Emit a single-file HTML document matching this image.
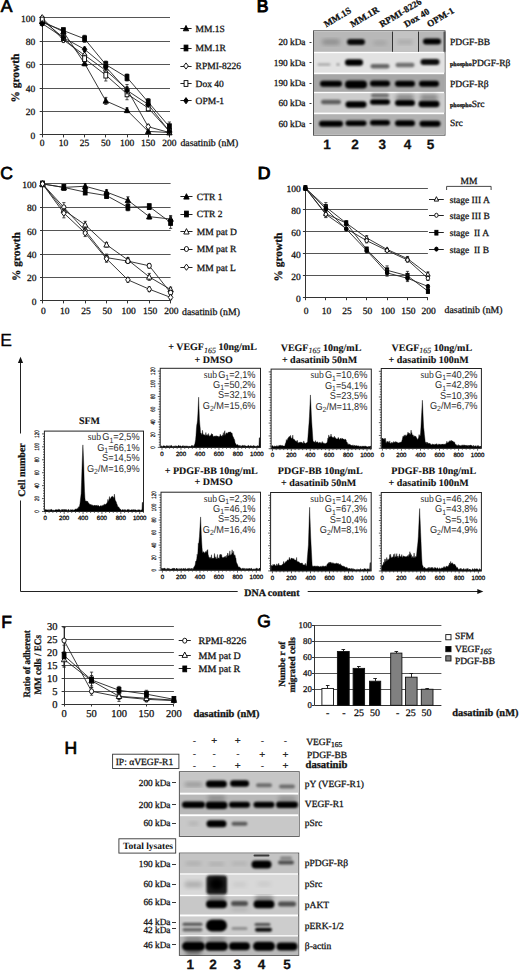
<!DOCTYPE html><html><head><meta charset="utf-8"><style>html,body{margin:0;padding:0;background:#fff;}svg{display:block;}</style></head><body>
<svg width="520" height="971" viewBox="0 0 520 971" text-rendering="geometricPrecision">
<defs>
<filter id="b1" x="-50%" y="-50%" width="200%" height="200%"><feGaussianBlur stdDeviation="1.2"/></filter>
<filter id="b2" x="-50%" y="-50%" width="200%" height="200%"><feGaussianBlur stdDeviation="2"/></filter>
<filter id="b05" x="-50%" y="-50%" width="200%" height="200%"><feGaussianBlur stdDeviation="0.6"/></filter>
</defs>
<style>text{stroke:#111;stroke-width:0.28px;paint-order:stroke;} text.nost{stroke:none;}</style>
<rect x="0" y="0" width="520" height="971" fill="#fff"/>
<text x="0.80" y="12.30" font-size="17.5" text-anchor="start" font-weight="normal" font-family="'Liberation Sans', sans-serif" fill="#000" style="stroke:#000;stroke-width:0.7px">A</text>
<text x="35.30" y="138.70" font-size="9.5" text-anchor="end" font-weight="normal" font-family="'Liberation Serif', serif" fill="#111" >0</text>
<line x1="39.70" y1="134.50" x2="42.20" y2="134.50" stroke="#333" stroke-width="1"/>
<line x1="42.20" y1="111.50" x2="170.00" y2="111.50" stroke="#555" stroke-width="1"/>
<text x="35.30" y="115.26" font-size="9.5" text-anchor="end" font-weight="normal" font-family="'Liberation Serif', serif" fill="#111" >20</text>
<line x1="39.70" y1="111.50" x2="42.20" y2="111.50" stroke="#333" stroke-width="1"/>
<line x1="42.20" y1="88.50" x2="170.00" y2="88.50" stroke="#555" stroke-width="1"/>
<text x="35.30" y="91.82" font-size="9.5" text-anchor="end" font-weight="normal" font-family="'Liberation Serif', serif" fill="#111" >40</text>
<line x1="39.70" y1="88.50" x2="42.20" y2="88.50" stroke="#333" stroke-width="1"/>
<line x1="42.20" y1="64.50" x2="170.00" y2="64.50" stroke="#555" stroke-width="1"/>
<text x="35.30" y="68.38" font-size="9.5" text-anchor="end" font-weight="normal" font-family="'Liberation Serif', serif" fill="#111" >60</text>
<line x1="39.70" y1="64.50" x2="42.20" y2="64.50" stroke="#333" stroke-width="1"/>
<line x1="42.20" y1="41.50" x2="170.00" y2="41.50" stroke="#555" stroke-width="1"/>
<text x="35.30" y="44.94" font-size="9.5" text-anchor="end" font-weight="normal" font-family="'Liberation Serif', serif" fill="#111" >80</text>
<line x1="39.70" y1="41.50" x2="42.20" y2="41.50" stroke="#333" stroke-width="1"/>
<line x1="42.20" y1="17.50" x2="170.00" y2="17.50" stroke="#555" stroke-width="1"/>
<text x="35.30" y="21.50" font-size="9.5" text-anchor="end" font-weight="normal" font-family="'Liberation Serif', serif" fill="#111" >100</text>
<line x1="39.70" y1="17.50" x2="42.20" y2="17.50" stroke="#333" stroke-width="1"/>
<line x1="42.50" y1="17.70" x2="42.50" y2="135.40" stroke="#333" stroke-width="1"/>
<line x1="42.20" y1="134.50" x2="170.00" y2="134.50" stroke="#333" stroke-width="1"/>
<line x1="42.50" y1="134.90" x2="42.50" y2="137.40" stroke="#333" stroke-width="1"/>
<text x="42.20" y="146.30" font-size="9.5" text-anchor="middle" font-weight="normal" font-family="'Liberation Serif', serif" fill="#111" >0</text>
<line x1="63.50" y1="134.90" x2="63.50" y2="137.40" stroke="#333" stroke-width="1"/>
<text x="63.40" y="146.30" font-size="9.5" text-anchor="middle" font-weight="normal" font-family="'Liberation Serif', serif" fill="#111" >10</text>
<line x1="84.50" y1="134.90" x2="84.50" y2="137.40" stroke="#333" stroke-width="1"/>
<text x="84.60" y="146.30" font-size="9.5" text-anchor="middle" font-weight="normal" font-family="'Liberation Serif', serif" fill="#111" >25</text>
<line x1="105.50" y1="134.90" x2="105.50" y2="137.40" stroke="#333" stroke-width="1"/>
<text x="105.80" y="146.30" font-size="9.5" text-anchor="middle" font-weight="normal" font-family="'Liberation Serif', serif" fill="#111" >50</text>
<line x1="127.50" y1="134.90" x2="127.50" y2="137.40" stroke="#333" stroke-width="1"/>
<text x="127.00" y="146.30" font-size="9.5" text-anchor="middle" font-weight="normal" font-family="'Liberation Serif', serif" fill="#111" >100</text>
<line x1="148.50" y1="134.90" x2="148.50" y2="137.40" stroke="#333" stroke-width="1"/>
<text x="148.20" y="146.30" font-size="9.5" text-anchor="middle" font-weight="normal" font-family="'Liberation Serif', serif" fill="#111" >150</text>
<line x1="169.50" y1="134.90" x2="169.50" y2="137.40" stroke="#333" stroke-width="1"/>
<text x="169.40" y="146.30" font-size="9.5" text-anchor="middle" font-weight="normal" font-family="'Liberation Serif', serif" fill="#111" >200</text>
<polyline points="42.20,21.22 63.40,31.76 84.60,63.41 105.80,100.91 127.00,110.29 148.20,131.38 169.40,132.56" fill="none" stroke="#222" stroke-width="0.9"/>
<polyline points="42.20,22.39 63.40,30.59 84.60,38.80 105.80,64.58 127.00,77.47 148.20,102.08 169.40,126.70" fill="none" stroke="#222" stroke-width="0.9"/>
<polyline points="42.20,17.70 63.40,39.97 84.60,55.20 105.80,70.44 127.00,89.19 148.20,126.70 169.40,132.56" fill="none" stroke="#222" stroke-width="0.9"/>
<polyline points="42.20,20.04 63.40,37.62 84.60,58.72 105.80,75.13 127.00,93.88 148.20,107.94 169.40,131.38" fill="none" stroke="#222" stroke-width="0.9"/>
<polyline points="42.20,23.56 63.40,37.62 84.60,49.34 105.80,66.92 127.00,90.36 148.20,104.43 169.40,131.38" fill="none" stroke="#222" stroke-width="0.9"/>
<path d="M42.20,18.12 L44.90,23.52 L39.50,23.52 Z" fill="#000" stroke="#000" stroke-width="0.9"/>
<line x1="63.40" y1="29.42" x2="63.40" y2="34.11" stroke="#222" stroke-width="0.8"/>
<line x1="61.80" y1="29.42" x2="65.00" y2="29.42" stroke="#222" stroke-width="0.8"/>
<line x1="61.80" y1="34.11" x2="65.00" y2="34.11" stroke="#222" stroke-width="0.8"/>
<path d="M63.40,28.66 L66.10,34.06 L60.70,34.06 Z" fill="#000" stroke="#000" stroke-width="0.9"/>
<line x1="84.60" y1="61.06" x2="84.60" y2="65.75" stroke="#222" stroke-width="0.8"/>
<line x1="83.00" y1="61.06" x2="86.20" y2="61.06" stroke="#222" stroke-width="0.8"/>
<line x1="83.00" y1="65.75" x2="86.20" y2="65.75" stroke="#222" stroke-width="0.8"/>
<path d="M84.60,60.31 L87.30,65.71 L81.90,65.71 Z" fill="#000" stroke="#000" stroke-width="0.9"/>
<line x1="105.80" y1="97.40" x2="105.80" y2="104.43" stroke="#222" stroke-width="0.8"/>
<line x1="104.20" y1="97.40" x2="107.40" y2="97.40" stroke="#222" stroke-width="0.8"/>
<line x1="104.20" y1="104.43" x2="107.40" y2="104.43" stroke="#222" stroke-width="0.8"/>
<path d="M105.80,97.81 L108.50,103.21 L103.10,103.21 Z" fill="#000" stroke="#000" stroke-width="0.9"/>
<line x1="127.00" y1="107.94" x2="127.00" y2="112.63" stroke="#222" stroke-width="0.8"/>
<line x1="125.40" y1="107.94" x2="128.60" y2="107.94" stroke="#222" stroke-width="0.8"/>
<line x1="125.40" y1="112.63" x2="128.60" y2="112.63" stroke="#222" stroke-width="0.8"/>
<path d="M127.00,107.19 L129.70,112.59 L124.30,112.59 Z" fill="#000" stroke="#000" stroke-width="0.9"/>
<line x1="148.20" y1="129.04" x2="148.20" y2="133.73" stroke="#222" stroke-width="0.8"/>
<line x1="146.60" y1="129.04" x2="149.80" y2="129.04" stroke="#222" stroke-width="0.8"/>
<line x1="146.60" y1="133.73" x2="149.80" y2="133.73" stroke="#222" stroke-width="0.8"/>
<path d="M148.20,128.28 L150.90,133.68 L145.50,133.68 Z" fill="#000" stroke="#000" stroke-width="0.9"/>
<line x1="169.40" y1="131.38" x2="169.40" y2="133.73" stroke="#222" stroke-width="0.8"/>
<line x1="167.80" y1="131.38" x2="171.00" y2="131.38" stroke="#222" stroke-width="0.8"/>
<line x1="167.80" y1="133.73" x2="171.00" y2="133.73" stroke="#222" stroke-width="0.8"/>
<path d="M169.40,129.46 L172.10,134.86 L166.70,134.86 Z" fill="#000" stroke="#000" stroke-width="0.9"/>
<rect x="40.30" y="19.49" width="3.80" height="5.80" fill="#000" stroke="#000" stroke-width="0.9"/>
<line x1="63.40" y1="28.25" x2="63.40" y2="32.94" stroke="#222" stroke-width="0.8"/>
<line x1="61.80" y1="28.25" x2="65.00" y2="28.25" stroke="#222" stroke-width="0.8"/>
<line x1="61.80" y1="32.94" x2="65.00" y2="32.94" stroke="#222" stroke-width="0.8"/>
<rect x="61.50" y="27.69" width="3.80" height="5.80" fill="#000" stroke="#000" stroke-width="0.9"/>
<line x1="84.60" y1="35.28" x2="84.60" y2="42.31" stroke="#222" stroke-width="0.8"/>
<line x1="83.00" y1="35.28" x2="86.20" y2="35.28" stroke="#222" stroke-width="0.8"/>
<line x1="83.00" y1="42.31" x2="86.20" y2="42.31" stroke="#222" stroke-width="0.8"/>
<rect x="82.70" y="35.90" width="3.80" height="5.80" fill="#000" stroke="#000" stroke-width="0.9"/>
<line x1="105.80" y1="61.06" x2="105.80" y2="68.10" stroke="#222" stroke-width="0.8"/>
<line x1="104.20" y1="61.06" x2="107.40" y2="61.06" stroke="#222" stroke-width="0.8"/>
<line x1="104.20" y1="68.10" x2="107.40" y2="68.10" stroke="#222" stroke-width="0.8"/>
<rect x="103.90" y="61.68" width="3.80" height="5.80" fill="#000" stroke="#000" stroke-width="0.9"/>
<line x1="127.00" y1="73.96" x2="127.00" y2="80.99" stroke="#222" stroke-width="0.8"/>
<line x1="125.40" y1="73.96" x2="128.60" y2="73.96" stroke="#222" stroke-width="0.8"/>
<line x1="125.40" y1="80.99" x2="128.60" y2="80.99" stroke="#222" stroke-width="0.8"/>
<rect x="125.10" y="74.57" width="3.80" height="5.80" fill="#000" stroke="#000" stroke-width="0.9"/>
<line x1="148.20" y1="98.57" x2="148.20" y2="105.60" stroke="#222" stroke-width="0.8"/>
<line x1="146.60" y1="98.57" x2="149.80" y2="98.57" stroke="#222" stroke-width="0.8"/>
<line x1="146.60" y1="105.60" x2="149.80" y2="105.60" stroke="#222" stroke-width="0.8"/>
<rect x="146.30" y="99.18" width="3.80" height="5.80" fill="#000" stroke="#000" stroke-width="0.9"/>
<line x1="169.40" y1="122.01" x2="169.40" y2="131.38" stroke="#222" stroke-width="0.8"/>
<line x1="167.80" y1="122.01" x2="171.00" y2="122.01" stroke="#222" stroke-width="0.8"/>
<line x1="167.80" y1="131.38" x2="171.00" y2="131.38" stroke="#222" stroke-width="0.8"/>
<rect x="167.50" y="123.80" width="3.80" height="5.80" fill="#000" stroke="#000" stroke-width="0.9"/>
<path d="M42.20,14.60 L44.50,17.70 L42.20,20.80 L39.90,17.70 Z" fill="#fff" stroke="#000" stroke-width="0.9"/>
<line x1="63.40" y1="37.62" x2="63.40" y2="42.31" stroke="#222" stroke-width="0.8"/>
<line x1="61.80" y1="37.62" x2="65.00" y2="37.62" stroke="#222" stroke-width="0.8"/>
<line x1="61.80" y1="42.31" x2="65.00" y2="42.31" stroke="#222" stroke-width="0.8"/>
<path d="M63.40,36.87 L65.70,39.97 L63.40,43.07 L61.10,39.97 Z" fill="#fff" stroke="#000" stroke-width="0.9"/>
<line x1="84.60" y1="51.69" x2="84.60" y2="58.72" stroke="#222" stroke-width="0.8"/>
<line x1="83.00" y1="51.69" x2="86.20" y2="51.69" stroke="#222" stroke-width="0.8"/>
<line x1="83.00" y1="58.72" x2="86.20" y2="58.72" stroke="#222" stroke-width="0.8"/>
<path d="M84.60,52.10 L86.90,55.20 L84.60,58.30 L82.30,55.20 Z" fill="#fff" stroke="#000" stroke-width="0.9"/>
<line x1="105.80" y1="66.92" x2="105.80" y2="73.96" stroke="#222" stroke-width="0.8"/>
<line x1="104.20" y1="66.92" x2="107.40" y2="66.92" stroke="#222" stroke-width="0.8"/>
<line x1="104.20" y1="73.96" x2="107.40" y2="73.96" stroke="#222" stroke-width="0.8"/>
<path d="M105.80,67.34 L108.10,70.44 L105.80,73.54 L103.50,70.44 Z" fill="#fff" stroke="#000" stroke-width="0.9"/>
<line x1="127.00" y1="84.50" x2="127.00" y2="93.88" stroke="#222" stroke-width="0.8"/>
<line x1="125.40" y1="84.50" x2="128.60" y2="84.50" stroke="#222" stroke-width="0.8"/>
<line x1="125.40" y1="93.88" x2="128.60" y2="93.88" stroke="#222" stroke-width="0.8"/>
<path d="M127.00,86.09 L129.30,89.19 L127.00,92.29 L124.70,89.19 Z" fill="#fff" stroke="#000" stroke-width="0.9"/>
<line x1="148.20" y1="124.35" x2="148.20" y2="129.04" stroke="#222" stroke-width="0.8"/>
<line x1="146.60" y1="124.35" x2="149.80" y2="124.35" stroke="#222" stroke-width="0.8"/>
<line x1="146.60" y1="129.04" x2="149.80" y2="129.04" stroke="#222" stroke-width="0.8"/>
<path d="M148.20,123.60 L150.50,126.70 L148.20,129.80 L145.90,126.70 Z" fill="#fff" stroke="#000" stroke-width="0.9"/>
<line x1="169.40" y1="131.38" x2="169.40" y2="133.73" stroke="#222" stroke-width="0.8"/>
<line x1="167.80" y1="131.38" x2="171.00" y2="131.38" stroke="#222" stroke-width="0.8"/>
<line x1="167.80" y1="133.73" x2="171.00" y2="133.73" stroke="#222" stroke-width="0.8"/>
<path d="M169.40,129.46 L171.70,132.56 L169.40,135.66 L167.10,132.56 Z" fill="#fff" stroke="#000" stroke-width="0.9"/>
<rect x="40.30" y="17.14" width="3.80" height="5.80" fill="#fff" stroke="#000" stroke-width="0.9"/>
<line x1="63.40" y1="35.28" x2="63.40" y2="39.97" stroke="#222" stroke-width="0.8"/>
<line x1="61.80" y1="35.28" x2="65.00" y2="35.28" stroke="#222" stroke-width="0.8"/>
<line x1="61.80" y1="39.97" x2="65.00" y2="39.97" stroke="#222" stroke-width="0.8"/>
<rect x="61.50" y="34.72" width="3.80" height="5.80" fill="#fff" stroke="#000" stroke-width="0.9"/>
<line x1="84.60" y1="55.20" x2="84.60" y2="62.24" stroke="#222" stroke-width="0.8"/>
<line x1="83.00" y1="55.20" x2="86.20" y2="55.20" stroke="#222" stroke-width="0.8"/>
<line x1="83.00" y1="62.24" x2="86.20" y2="62.24" stroke="#222" stroke-width="0.8"/>
<rect x="82.70" y="55.82" width="3.80" height="5.80" fill="#fff" stroke="#000" stroke-width="0.9"/>
<line x1="105.80" y1="69.27" x2="105.80" y2="80.99" stroke="#222" stroke-width="0.8"/>
<line x1="104.20" y1="69.27" x2="107.40" y2="69.27" stroke="#222" stroke-width="0.8"/>
<line x1="104.20" y1="80.99" x2="107.40" y2="80.99" stroke="#222" stroke-width="0.8"/>
<rect x="103.90" y="72.23" width="3.80" height="5.80" fill="#fff" stroke="#000" stroke-width="0.9"/>
<line x1="127.00" y1="88.02" x2="127.00" y2="99.74" stroke="#222" stroke-width="0.8"/>
<line x1="125.40" y1="88.02" x2="128.60" y2="88.02" stroke="#222" stroke-width="0.8"/>
<line x1="125.40" y1="99.74" x2="128.60" y2="99.74" stroke="#222" stroke-width="0.8"/>
<rect x="125.10" y="90.98" width="3.80" height="5.80" fill="#fff" stroke="#000" stroke-width="0.9"/>
<line x1="148.20" y1="104.43" x2="148.20" y2="111.46" stroke="#222" stroke-width="0.8"/>
<line x1="146.60" y1="104.43" x2="149.80" y2="104.43" stroke="#222" stroke-width="0.8"/>
<line x1="146.60" y1="111.46" x2="149.80" y2="111.46" stroke="#222" stroke-width="0.8"/>
<rect x="146.30" y="105.04" width="3.80" height="5.80" fill="#fff" stroke="#000" stroke-width="0.9"/>
<line x1="169.40" y1="130.21" x2="169.40" y2="132.56" stroke="#222" stroke-width="0.8"/>
<line x1="167.80" y1="130.21" x2="171.00" y2="130.21" stroke="#222" stroke-width="0.8"/>
<line x1="167.80" y1="132.56" x2="171.00" y2="132.56" stroke="#222" stroke-width="0.8"/>
<rect x="167.50" y="128.48" width="3.80" height="5.80" fill="#fff" stroke="#000" stroke-width="0.9"/>
<path d="M42.20,20.46 L44.50,23.56 L42.20,26.66 L39.90,23.56 Z" fill="#000" stroke="#000" stroke-width="0.9"/>
<line x1="63.40" y1="35.28" x2="63.40" y2="39.97" stroke="#222" stroke-width="0.8"/>
<line x1="61.80" y1="35.28" x2="65.00" y2="35.28" stroke="#222" stroke-width="0.8"/>
<line x1="61.80" y1="39.97" x2="65.00" y2="39.97" stroke="#222" stroke-width="0.8"/>
<path d="M63.40,34.52 L65.70,37.62 L63.40,40.72 L61.10,37.62 Z" fill="#000" stroke="#000" stroke-width="0.9"/>
<line x1="84.60" y1="47.00" x2="84.60" y2="51.69" stroke="#222" stroke-width="0.8"/>
<line x1="83.00" y1="47.00" x2="86.20" y2="47.00" stroke="#222" stroke-width="0.8"/>
<line x1="83.00" y1="51.69" x2="86.20" y2="51.69" stroke="#222" stroke-width="0.8"/>
<path d="M84.60,46.24 L86.90,49.34 L84.60,52.44 L82.30,49.34 Z" fill="#000" stroke="#000" stroke-width="0.9"/>
<line x1="105.80" y1="63.41" x2="105.80" y2="70.44" stroke="#222" stroke-width="0.8"/>
<line x1="104.20" y1="63.41" x2="107.40" y2="63.41" stroke="#222" stroke-width="0.8"/>
<line x1="104.20" y1="70.44" x2="107.40" y2="70.44" stroke="#222" stroke-width="0.8"/>
<path d="M105.80,63.82 L108.10,66.92 L105.80,70.02 L103.50,66.92 Z" fill="#000" stroke="#000" stroke-width="0.9"/>
<line x1="127.00" y1="86.85" x2="127.00" y2="93.88" stroke="#222" stroke-width="0.8"/>
<line x1="125.40" y1="86.85" x2="128.60" y2="86.85" stroke="#222" stroke-width="0.8"/>
<line x1="125.40" y1="93.88" x2="128.60" y2="93.88" stroke="#222" stroke-width="0.8"/>
<path d="M127.00,87.26 L129.30,90.36 L127.00,93.46 L124.70,90.36 Z" fill="#000" stroke="#000" stroke-width="0.9"/>
<line x1="148.20" y1="102.08" x2="148.20" y2="106.77" stroke="#222" stroke-width="0.8"/>
<line x1="146.60" y1="102.08" x2="149.80" y2="102.08" stroke="#222" stroke-width="0.8"/>
<line x1="146.60" y1="106.77" x2="149.80" y2="106.77" stroke="#222" stroke-width="0.8"/>
<path d="M148.20,101.33 L150.50,104.43 L148.20,107.53 L145.90,104.43 Z" fill="#000" stroke="#000" stroke-width="0.9"/>
<line x1="169.40" y1="130.21" x2="169.40" y2="132.56" stroke="#222" stroke-width="0.8"/>
<line x1="167.80" y1="130.21" x2="171.00" y2="130.21" stroke="#222" stroke-width="0.8"/>
<line x1="167.80" y1="132.56" x2="171.00" y2="132.56" stroke="#222" stroke-width="0.8"/>
<path d="M169.40,128.28 L171.70,131.38 L169.40,134.48 L167.10,131.38 Z" fill="#000" stroke="#000" stroke-width="0.9"/>
<text x="180.40" y="146.30" font-size="9.8" text-anchor="start" font-weight="normal" font-family="'Liberation Serif', serif" fill="#111" >dasatinib (nM)</text>
<text x="0" y="0" font-size="11.4" text-anchor="middle" font-weight="bold" font-family="'Liberation Serif', serif" fill="#111" transform="translate(19.00,78.00) rotate(-90)">% growth</text>
<line x1="180.40" y1="28.50" x2="191.60" y2="28.50" stroke="#222" stroke-width="1"/>
<path d="M186.00,25.40 L188.70,30.80 L183.30,30.80 Z" fill="#000" stroke="#000" stroke-width="0.9"/>
<text x="195.60" y="31.90" font-size="9.5" text-anchor="start" font-weight="normal" font-family="'Liberation Serif', serif" fill="#111" >MM.1S</text>
<line x1="180.40" y1="48.50" x2="191.60" y2="48.50" stroke="#222" stroke-width="1"/>
<rect x="184.10" y="45.10" width="3.80" height="5.80" fill="#000" stroke="#000" stroke-width="0.9"/>
<text x="195.60" y="51.40" font-size="9.5" text-anchor="start" font-weight="normal" font-family="'Liberation Serif', serif" fill="#111" >MM.1R</text>
<line x1="180.40" y1="66.50" x2="191.60" y2="66.50" stroke="#222" stroke-width="1"/>
<path d="M186.00,62.90 L188.30,66.00 L186.00,69.10 L183.70,66.00 Z" fill="#fff" stroke="#000" stroke-width="0.9"/>
<text x="195.60" y="69.40" font-size="9.5" text-anchor="start" font-weight="normal" font-family="'Liberation Serif', serif" fill="#111" >RPMI-8226</text>
<line x1="180.40" y1="83.50" x2="191.60" y2="83.50" stroke="#222" stroke-width="1"/>
<rect x="184.10" y="80.60" width="3.80" height="5.80" fill="#fff" stroke="#000" stroke-width="0.9"/>
<text x="195.60" y="86.90" font-size="9.5" text-anchor="start" font-weight="normal" font-family="'Liberation Serif', serif" fill="#111" >Dox 40</text>
<line x1="180.40" y1="100.50" x2="191.60" y2="100.50" stroke="#222" stroke-width="1"/>
<path d="M186.00,97.60 L188.30,100.70 L186.00,103.80 L183.70,100.70 Z" fill="#000" stroke="#000" stroke-width="0.9"/>
<text x="195.60" y="104.10" font-size="9.5" text-anchor="start" font-weight="normal" font-family="'Liberation Serif', serif" fill="#111" >OPM-1</text>
<text x="0.25" y="179.00" font-size="17.5" text-anchor="start" font-weight="normal" font-family="'Liberation Sans', sans-serif" fill="#000" style="stroke:#000;stroke-width:0.7px">C</text>
<text x="36.50" y="304.70" font-size="9.5" text-anchor="end" font-weight="normal" font-family="'Liberation Serif', serif" fill="#111" >0</text>
<line x1="40.00" y1="300.50" x2="42.50" y2="300.50" stroke="#333" stroke-width="1"/>
<line x1="42.50" y1="277.50" x2="170.60" y2="277.50" stroke="#555" stroke-width="1"/>
<text x="36.50" y="281.30" font-size="9.5" text-anchor="end" font-weight="normal" font-family="'Liberation Serif', serif" fill="#111" >20</text>
<line x1="40.00" y1="277.50" x2="42.50" y2="277.50" stroke="#333" stroke-width="1"/>
<line x1="42.50" y1="254.50" x2="170.60" y2="254.50" stroke="#555" stroke-width="1"/>
<text x="36.50" y="257.90" font-size="9.5" text-anchor="end" font-weight="normal" font-family="'Liberation Serif', serif" fill="#111" >40</text>
<line x1="40.00" y1="254.50" x2="42.50" y2="254.50" stroke="#333" stroke-width="1"/>
<line x1="42.50" y1="230.50" x2="170.60" y2="230.50" stroke="#555" stroke-width="1"/>
<text x="36.50" y="234.50" font-size="9.5" text-anchor="end" font-weight="normal" font-family="'Liberation Serif', serif" fill="#111" >60</text>
<line x1="40.00" y1="230.50" x2="42.50" y2="230.50" stroke="#333" stroke-width="1"/>
<line x1="42.50" y1="207.50" x2="170.60" y2="207.50" stroke="#555" stroke-width="1"/>
<text x="36.50" y="211.10" font-size="9.5" text-anchor="end" font-weight="normal" font-family="'Liberation Serif', serif" fill="#111" >80</text>
<line x1="40.00" y1="207.50" x2="42.50" y2="207.50" stroke="#333" stroke-width="1"/>
<line x1="42.50" y1="183.50" x2="170.60" y2="183.50" stroke="#555" stroke-width="1"/>
<text x="36.50" y="187.70" font-size="9.5" text-anchor="end" font-weight="normal" font-family="'Liberation Serif', serif" fill="#111" >100</text>
<line x1="40.00" y1="183.50" x2="42.50" y2="183.50" stroke="#333" stroke-width="1"/>
<line x1="42.50" y1="183.90" x2="42.50" y2="301.40" stroke="#333" stroke-width="1"/>
<line x1="42.50" y1="300.50" x2="170.60" y2="300.50" stroke="#333" stroke-width="1"/>
<line x1="42.50" y1="300.90" x2="42.50" y2="303.40" stroke="#333" stroke-width="1"/>
<text x="43.30" y="314.30" font-size="9.5" text-anchor="middle" font-weight="normal" font-family="'Liberation Serif', serif" fill="#111" >0</text>
<line x1="63.50" y1="300.90" x2="63.50" y2="303.40" stroke="#333" stroke-width="1"/>
<text x="64.65" y="314.30" font-size="9.5" text-anchor="middle" font-weight="normal" font-family="'Liberation Serif', serif" fill="#111" >10</text>
<line x1="85.50" y1="300.90" x2="85.50" y2="303.40" stroke="#333" stroke-width="1"/>
<text x="86.00" y="314.30" font-size="9.5" text-anchor="middle" font-weight="normal" font-family="'Liberation Serif', serif" fill="#111" >25</text>
<line x1="106.50" y1="300.90" x2="106.50" y2="303.40" stroke="#333" stroke-width="1"/>
<text x="107.35" y="314.30" font-size="9.5" text-anchor="middle" font-weight="normal" font-family="'Liberation Serif', serif" fill="#111" >50</text>
<line x1="127.50" y1="300.90" x2="127.50" y2="303.40" stroke="#333" stroke-width="1"/>
<text x="128.70" y="314.30" font-size="9.5" text-anchor="middle" font-weight="normal" font-family="'Liberation Serif', serif" fill="#111" >100</text>
<line x1="149.50" y1="300.90" x2="149.50" y2="303.40" stroke="#333" stroke-width="1"/>
<text x="150.05" y="314.30" font-size="9.5" text-anchor="middle" font-weight="normal" font-family="'Liberation Serif', serif" fill="#111" >150</text>
<line x1="170.50" y1="300.90" x2="170.50" y2="303.40" stroke="#333" stroke-width="1"/>
<text x="171.40" y="314.30" font-size="9.5" text-anchor="middle" font-weight="normal" font-family="'Liberation Serif', serif" fill="#111" >200</text>
<polyline points="42.50,183.90 63.85,187.41 85.20,186.24 106.55,192.09 127.90,200.28 149.25,216.66 170.60,219.00" fill="none" stroke="#222" stroke-width="0.9"/>
<polyline points="42.50,183.90 63.85,187.41 85.20,192.09 106.55,195.60 127.90,207.30 149.25,206.60 170.60,222.51" fill="none" stroke="#222" stroke-width="0.9"/>
<polyline points="42.50,183.90 63.85,210.11 85.20,224.85 106.55,244.74 127.90,259.95 149.25,276.91 170.60,289.55" fill="none" stroke="#222" stroke-width="0.9"/>
<polyline points="42.50,183.90 63.85,207.30 85.20,230.70 106.55,257.61 127.90,261.12 149.25,265.80 170.60,292.71" fill="none" stroke="#222" stroke-width="0.9"/>
<polyline points="42.50,183.90 63.85,213.15 85.20,233.04 106.55,258.78 127.90,279.84 149.25,289.20 170.60,297.39" fill="none" stroke="#222" stroke-width="0.9"/>
<path d="M42.50,180.80 L45.20,186.20 L39.80,186.20 Z" fill="#000" stroke="#000" stroke-width="0.9"/>
<line x1="63.85" y1="186.24" x2="63.85" y2="188.58" stroke="#222" stroke-width="0.8"/>
<line x1="62.25" y1="186.24" x2="65.45" y2="186.24" stroke="#222" stroke-width="0.8"/>
<line x1="62.25" y1="188.58" x2="65.45" y2="188.58" stroke="#222" stroke-width="0.8"/>
<path d="M63.85,184.31 L66.55,189.71 L61.15,189.71 Z" fill="#000" stroke="#000" stroke-width="0.9"/>
<line x1="85.20" y1="183.90" x2="85.20" y2="188.58" stroke="#222" stroke-width="0.8"/>
<line x1="83.60" y1="183.90" x2="86.80" y2="183.90" stroke="#222" stroke-width="0.8"/>
<line x1="83.60" y1="188.58" x2="86.80" y2="188.58" stroke="#222" stroke-width="0.8"/>
<path d="M85.20,183.14 L87.90,188.54 L82.50,188.54 Z" fill="#000" stroke="#000" stroke-width="0.9"/>
<line x1="106.55" y1="189.75" x2="106.55" y2="194.43" stroke="#222" stroke-width="0.8"/>
<line x1="104.95" y1="189.75" x2="108.15" y2="189.75" stroke="#222" stroke-width="0.8"/>
<line x1="104.95" y1="194.43" x2="108.15" y2="194.43" stroke="#222" stroke-width="0.8"/>
<path d="M106.55,188.99 L109.25,194.39 L103.85,194.39 Z" fill="#000" stroke="#000" stroke-width="0.9"/>
<line x1="127.90" y1="196.77" x2="127.90" y2="203.79" stroke="#222" stroke-width="0.8"/>
<line x1="126.30" y1="196.77" x2="129.50" y2="196.77" stroke="#222" stroke-width="0.8"/>
<line x1="126.30" y1="203.79" x2="129.50" y2="203.79" stroke="#222" stroke-width="0.8"/>
<path d="M127.90,197.18 L130.60,202.58 L125.20,202.58 Z" fill="#000" stroke="#000" stroke-width="0.9"/>
<line x1="149.25" y1="214.32" x2="149.25" y2="219.00" stroke="#222" stroke-width="0.8"/>
<line x1="147.65" y1="214.32" x2="150.85" y2="214.32" stroke="#222" stroke-width="0.8"/>
<line x1="147.65" y1="219.00" x2="150.85" y2="219.00" stroke="#222" stroke-width="0.8"/>
<path d="M149.25,213.56 L151.95,218.96 L146.55,218.96 Z" fill="#000" stroke="#000" stroke-width="0.9"/>
<line x1="170.60" y1="215.49" x2="170.60" y2="222.51" stroke="#222" stroke-width="0.8"/>
<line x1="169.00" y1="215.49" x2="172.20" y2="215.49" stroke="#222" stroke-width="0.8"/>
<line x1="169.00" y1="222.51" x2="172.20" y2="222.51" stroke="#222" stroke-width="0.8"/>
<path d="M170.60,215.90 L173.30,221.30 L167.90,221.30 Z" fill="#000" stroke="#000" stroke-width="0.9"/>
<rect x="40.60" y="181.00" width="3.80" height="5.80" fill="#000" stroke="#000" stroke-width="0.9"/>
<line x1="63.85" y1="186.24" x2="63.85" y2="188.58" stroke="#222" stroke-width="0.8"/>
<line x1="62.25" y1="186.24" x2="65.45" y2="186.24" stroke="#222" stroke-width="0.8"/>
<line x1="62.25" y1="188.58" x2="65.45" y2="188.58" stroke="#222" stroke-width="0.8"/>
<rect x="61.95" y="184.51" width="3.80" height="5.80" fill="#000" stroke="#000" stroke-width="0.9"/>
<line x1="85.20" y1="189.75" x2="85.20" y2="194.43" stroke="#222" stroke-width="0.8"/>
<line x1="83.60" y1="189.75" x2="86.80" y2="189.75" stroke="#222" stroke-width="0.8"/>
<line x1="83.60" y1="194.43" x2="86.80" y2="194.43" stroke="#222" stroke-width="0.8"/>
<rect x="83.30" y="189.19" width="3.80" height="5.80" fill="#000" stroke="#000" stroke-width="0.9"/>
<line x1="106.55" y1="193.26" x2="106.55" y2="197.94" stroke="#222" stroke-width="0.8"/>
<line x1="104.95" y1="193.26" x2="108.15" y2="193.26" stroke="#222" stroke-width="0.8"/>
<line x1="104.95" y1="197.94" x2="108.15" y2="197.94" stroke="#222" stroke-width="0.8"/>
<rect x="104.65" y="192.70" width="3.80" height="5.80" fill="#000" stroke="#000" stroke-width="0.9"/>
<line x1="127.90" y1="203.79" x2="127.90" y2="210.81" stroke="#222" stroke-width="0.8"/>
<line x1="126.30" y1="203.79" x2="129.50" y2="203.79" stroke="#222" stroke-width="0.8"/>
<line x1="126.30" y1="210.81" x2="129.50" y2="210.81" stroke="#222" stroke-width="0.8"/>
<rect x="126.00" y="204.40" width="3.80" height="5.80" fill="#000" stroke="#000" stroke-width="0.9"/>
<line x1="149.25" y1="204.26" x2="149.25" y2="208.94" stroke="#222" stroke-width="0.8"/>
<line x1="147.65" y1="204.26" x2="150.85" y2="204.26" stroke="#222" stroke-width="0.8"/>
<line x1="147.65" y1="208.94" x2="150.85" y2="208.94" stroke="#222" stroke-width="0.8"/>
<rect x="147.35" y="203.70" width="3.80" height="5.80" fill="#000" stroke="#000" stroke-width="0.9"/>
<line x1="170.60" y1="216.66" x2="170.60" y2="228.36" stroke="#222" stroke-width="0.8"/>
<line x1="169.00" y1="216.66" x2="172.20" y2="216.66" stroke="#222" stroke-width="0.8"/>
<line x1="169.00" y1="228.36" x2="172.20" y2="228.36" stroke="#222" stroke-width="0.8"/>
<rect x="168.70" y="219.61" width="3.80" height="5.80" fill="#000" stroke="#000" stroke-width="0.9"/>
<path d="M42.50,180.80 L45.20,186.20 L39.80,186.20 Z" fill="#fff" stroke="#000" stroke-width="0.9"/>
<line x1="63.85" y1="206.60" x2="63.85" y2="213.62" stroke="#222" stroke-width="0.8"/>
<line x1="62.25" y1="206.60" x2="65.45" y2="206.60" stroke="#222" stroke-width="0.8"/>
<line x1="62.25" y1="213.62" x2="65.45" y2="213.62" stroke="#222" stroke-width="0.8"/>
<path d="M63.85,207.01 L66.55,212.41 L61.15,212.41 Z" fill="#fff" stroke="#000" stroke-width="0.9"/>
<line x1="85.20" y1="221.34" x2="85.20" y2="228.36" stroke="#222" stroke-width="0.8"/>
<line x1="83.60" y1="221.34" x2="86.80" y2="221.34" stroke="#222" stroke-width="0.8"/>
<line x1="83.60" y1="228.36" x2="86.80" y2="228.36" stroke="#222" stroke-width="0.8"/>
<path d="M85.20,221.75 L87.90,227.15 L82.50,227.15 Z" fill="#fff" stroke="#000" stroke-width="0.9"/>
<line x1="106.55" y1="242.40" x2="106.55" y2="247.08" stroke="#222" stroke-width="0.8"/>
<line x1="104.95" y1="242.40" x2="108.15" y2="242.40" stroke="#222" stroke-width="0.8"/>
<line x1="104.95" y1="247.08" x2="108.15" y2="247.08" stroke="#222" stroke-width="0.8"/>
<path d="M106.55,241.64 L109.25,247.04 L103.85,247.04 Z" fill="#fff" stroke="#000" stroke-width="0.9"/>
<line x1="127.90" y1="257.61" x2="127.90" y2="262.29" stroke="#222" stroke-width="0.8"/>
<line x1="126.30" y1="257.61" x2="129.50" y2="257.61" stroke="#222" stroke-width="0.8"/>
<line x1="126.30" y1="262.29" x2="129.50" y2="262.29" stroke="#222" stroke-width="0.8"/>
<path d="M127.90,256.85 L130.60,262.25 L125.20,262.25 Z" fill="#fff" stroke="#000" stroke-width="0.9"/>
<line x1="149.25" y1="273.40" x2="149.25" y2="280.42" stroke="#222" stroke-width="0.8"/>
<line x1="147.65" y1="273.40" x2="150.85" y2="273.40" stroke="#222" stroke-width="0.8"/>
<line x1="147.65" y1="280.42" x2="150.85" y2="280.42" stroke="#222" stroke-width="0.8"/>
<path d="M149.25,273.81 L151.95,279.21 L146.55,279.21 Z" fill="#fff" stroke="#000" stroke-width="0.9"/>
<line x1="170.60" y1="287.21" x2="170.60" y2="291.89" stroke="#222" stroke-width="0.8"/>
<line x1="169.00" y1="287.21" x2="172.20" y2="287.21" stroke="#222" stroke-width="0.8"/>
<line x1="169.00" y1="291.89" x2="172.20" y2="291.89" stroke="#222" stroke-width="0.8"/>
<path d="M170.60,286.45 L173.30,291.85 L167.90,291.85 Z" fill="#fff" stroke="#000" stroke-width="0.9"/>
<ellipse cx="42.50" cy="183.90" rx="2.10" ry="2.50" fill="#fff" stroke="#000" stroke-width="0.9"/>
<line x1="63.85" y1="202.62" x2="63.85" y2="211.98" stroke="#222" stroke-width="0.8"/>
<line x1="62.25" y1="202.62" x2="65.45" y2="202.62" stroke="#222" stroke-width="0.8"/>
<line x1="62.25" y1="211.98" x2="65.45" y2="211.98" stroke="#222" stroke-width="0.8"/>
<ellipse cx="63.85" cy="207.30" rx="2.10" ry="2.50" fill="#fff" stroke="#000" stroke-width="0.9"/>
<line x1="85.20" y1="227.19" x2="85.20" y2="234.21" stroke="#222" stroke-width="0.8"/>
<line x1="83.60" y1="227.19" x2="86.80" y2="227.19" stroke="#222" stroke-width="0.8"/>
<line x1="83.60" y1="234.21" x2="86.80" y2="234.21" stroke="#222" stroke-width="0.8"/>
<ellipse cx="85.20" cy="230.70" rx="2.10" ry="2.50" fill="#fff" stroke="#000" stroke-width="0.9"/>
<line x1="106.55" y1="254.10" x2="106.55" y2="261.12" stroke="#222" stroke-width="0.8"/>
<line x1="104.95" y1="254.10" x2="108.15" y2="254.10" stroke="#222" stroke-width="0.8"/>
<line x1="104.95" y1="261.12" x2="108.15" y2="261.12" stroke="#222" stroke-width="0.8"/>
<ellipse cx="106.55" cy="257.61" rx="2.10" ry="2.50" fill="#fff" stroke="#000" stroke-width="0.9"/>
<line x1="127.90" y1="258.78" x2="127.90" y2="263.46" stroke="#222" stroke-width="0.8"/>
<line x1="126.30" y1="258.78" x2="129.50" y2="258.78" stroke="#222" stroke-width="0.8"/>
<line x1="126.30" y1="263.46" x2="129.50" y2="263.46" stroke="#222" stroke-width="0.8"/>
<ellipse cx="127.90" cy="261.12" rx="2.10" ry="2.50" fill="#fff" stroke="#000" stroke-width="0.9"/>
<line x1="149.25" y1="263.46" x2="149.25" y2="268.14" stroke="#222" stroke-width="0.8"/>
<line x1="147.65" y1="263.46" x2="150.85" y2="263.46" stroke="#222" stroke-width="0.8"/>
<line x1="147.65" y1="268.14" x2="150.85" y2="268.14" stroke="#222" stroke-width="0.8"/>
<ellipse cx="149.25" cy="265.80" rx="2.10" ry="2.50" fill="#fff" stroke="#000" stroke-width="0.9"/>
<line x1="170.60" y1="290.37" x2="170.60" y2="295.05" stroke="#222" stroke-width="0.8"/>
<line x1="169.00" y1="290.37" x2="172.20" y2="290.37" stroke="#222" stroke-width="0.8"/>
<line x1="169.00" y1="295.05" x2="172.20" y2="295.05" stroke="#222" stroke-width="0.8"/>
<ellipse cx="170.60" cy="292.71" rx="2.10" ry="2.50" fill="#fff" stroke="#000" stroke-width="0.9"/>
<path d="M42.50,180.80 L44.80,183.90 L42.50,187.00 L40.20,183.90 Z" fill="#fff" stroke="#000" stroke-width="0.9"/>
<line x1="63.85" y1="208.47" x2="63.85" y2="217.83" stroke="#222" stroke-width="0.8"/>
<line x1="62.25" y1="208.47" x2="65.45" y2="208.47" stroke="#222" stroke-width="0.8"/>
<line x1="62.25" y1="217.83" x2="65.45" y2="217.83" stroke="#222" stroke-width="0.8"/>
<path d="M63.85,210.05 L66.15,213.15 L63.85,216.25 L61.55,213.15 Z" fill="#fff" stroke="#000" stroke-width="0.9"/>
<line x1="85.20" y1="229.53" x2="85.20" y2="236.55" stroke="#222" stroke-width="0.8"/>
<line x1="83.60" y1="229.53" x2="86.80" y2="229.53" stroke="#222" stroke-width="0.8"/>
<line x1="83.60" y1="236.55" x2="86.80" y2="236.55" stroke="#222" stroke-width="0.8"/>
<path d="M85.20,229.94 L87.50,233.04 L85.20,236.14 L82.90,233.04 Z" fill="#fff" stroke="#000" stroke-width="0.9"/>
<line x1="106.55" y1="255.27" x2="106.55" y2="262.29" stroke="#222" stroke-width="0.8"/>
<line x1="104.95" y1="255.27" x2="108.15" y2="255.27" stroke="#222" stroke-width="0.8"/>
<line x1="104.95" y1="262.29" x2="108.15" y2="262.29" stroke="#222" stroke-width="0.8"/>
<path d="M106.55,255.68 L108.85,258.78 L106.55,261.88 L104.25,258.78 Z" fill="#fff" stroke="#000" stroke-width="0.9"/>
<line x1="127.90" y1="277.50" x2="127.90" y2="282.18" stroke="#222" stroke-width="0.8"/>
<line x1="126.30" y1="277.50" x2="129.50" y2="277.50" stroke="#222" stroke-width="0.8"/>
<line x1="126.30" y1="282.18" x2="129.50" y2="282.18" stroke="#222" stroke-width="0.8"/>
<path d="M127.90,276.74 L130.20,279.84 L127.90,282.94 L125.60,279.84 Z" fill="#fff" stroke="#000" stroke-width="0.9"/>
<line x1="149.25" y1="286.86" x2="149.25" y2="291.54" stroke="#222" stroke-width="0.8"/>
<line x1="147.65" y1="286.86" x2="150.85" y2="286.86" stroke="#222" stroke-width="0.8"/>
<line x1="147.65" y1="291.54" x2="150.85" y2="291.54" stroke="#222" stroke-width="0.8"/>
<path d="M149.25,286.10 L151.55,289.20 L149.25,292.30 L146.95,289.20 Z" fill="#fff" stroke="#000" stroke-width="0.9"/>
<line x1="170.60" y1="295.05" x2="170.60" y2="299.73" stroke="#222" stroke-width="0.8"/>
<line x1="169.00" y1="295.05" x2="172.20" y2="295.05" stroke="#222" stroke-width="0.8"/>
<line x1="169.00" y1="299.73" x2="172.20" y2="299.73" stroke="#222" stroke-width="0.8"/>
<path d="M170.60,294.29 L172.90,297.39 L170.60,300.49 L168.30,297.39 Z" fill="#fff" stroke="#000" stroke-width="0.9"/>
<text x="182.00" y="314.50" font-size="9.8" text-anchor="start" font-weight="normal" font-family="'Liberation Serif', serif" fill="#111" >dasatinib (nM)</text>
<text x="0" y="0" font-size="11.4" text-anchor="middle" font-weight="bold" font-family="'Liberation Serif', serif" fill="#111" transform="translate(19.60,256.50) rotate(-90)">% growth</text>
<line x1="180.40" y1="196.50" x2="192.50" y2="196.50" stroke="#222" stroke-width="1"/>
<path d="M186.45,193.70 L189.15,199.10 L183.75,199.10 Z" fill="#000" stroke="#000" stroke-width="0.9"/>
<text x="196.80" y="200.20" font-size="9.5" text-anchor="start" font-weight="normal" font-family="'Liberation Serif', serif" fill="#111" >CTR 1</text>
<line x1="180.40" y1="214.50" x2="192.50" y2="214.50" stroke="#222" stroke-width="1"/>
<rect x="184.55" y="211.10" width="3.80" height="5.80" fill="#000" stroke="#000" stroke-width="0.9"/>
<text x="196.80" y="217.40" font-size="9.5" text-anchor="start" font-weight="normal" font-family="'Liberation Serif', serif" fill="#111" >CTR 2</text>
<line x1="180.40" y1="231.50" x2="192.50" y2="231.50" stroke="#222" stroke-width="1"/>
<path d="M186.45,228.60 L189.15,234.00 L183.75,234.00 Z" fill="#fff" stroke="#000" stroke-width="0.9"/>
<text x="196.80" y="235.10" font-size="9.5" text-anchor="start" font-weight="normal" font-family="'Liberation Serif', serif" fill="#111" >MM pat D</text>
<line x1="180.40" y1="249.50" x2="192.50" y2="249.50" stroke="#222" stroke-width="1"/>
<ellipse cx="186.45" cy="249.00" rx="2.10" ry="2.50" fill="#fff" stroke="#000" stroke-width="0.9"/>
<text x="196.80" y="252.40" font-size="9.5" text-anchor="start" font-weight="normal" font-family="'Liberation Serif', serif" fill="#111" >MM pat R</text>
<line x1="180.40" y1="267.50" x2="192.50" y2="267.50" stroke="#222" stroke-width="1"/>
<path d="M186.45,264.10 L188.75,267.20 L186.45,270.30 L184.15,267.20 Z" fill="#fff" stroke="#000" stroke-width="0.9"/>
<text x="196.80" y="270.60" font-size="9.5" text-anchor="start" font-weight="normal" font-family="'Liberation Serif', serif" fill="#111" >MM pat L</text>
<text x="257.70" y="179.00" font-size="17.5" text-anchor="start" font-weight="normal" font-family="'Liberation Sans', sans-serif" fill="#000" style="stroke:#000;stroke-width:1.1px">D</text>
<text x="300.80" y="301.50" font-size="9.5" text-anchor="end" font-weight="normal" font-family="'Liberation Serif', serif" fill="#111" >0</text>
<line x1="302.90" y1="297.50" x2="305.40" y2="297.50" stroke="#333" stroke-width="1"/>
<line x1="305.40" y1="275.50" x2="427.90" y2="275.50" stroke="#555" stroke-width="1"/>
<text x="300.80" y="279.56" font-size="9.5" text-anchor="end" font-weight="normal" font-family="'Liberation Serif', serif" fill="#111" >20</text>
<line x1="302.90" y1="275.50" x2="305.40" y2="275.50" stroke="#333" stroke-width="1"/>
<line x1="305.40" y1="253.50" x2="427.90" y2="253.50" stroke="#555" stroke-width="1"/>
<text x="300.80" y="257.62" font-size="9.5" text-anchor="end" font-weight="normal" font-family="'Liberation Serif', serif" fill="#111" >40</text>
<line x1="302.90" y1="253.50" x2="305.40" y2="253.50" stroke="#333" stroke-width="1"/>
<line x1="305.40" y1="231.50" x2="427.90" y2="231.50" stroke="#555" stroke-width="1"/>
<text x="300.80" y="235.68" font-size="9.5" text-anchor="end" font-weight="normal" font-family="'Liberation Serif', serif" fill="#111" >60</text>
<line x1="302.90" y1="231.50" x2="305.40" y2="231.50" stroke="#333" stroke-width="1"/>
<line x1="305.40" y1="209.50" x2="427.90" y2="209.50" stroke="#555" stroke-width="1"/>
<text x="300.80" y="213.74" font-size="9.5" text-anchor="end" font-weight="normal" font-family="'Liberation Serif', serif" fill="#111" >80</text>
<line x1="302.90" y1="209.50" x2="305.40" y2="209.50" stroke="#333" stroke-width="1"/>
<line x1="305.40" y1="188.50" x2="427.90" y2="188.50" stroke="#555" stroke-width="1"/>
<text x="300.80" y="191.80" font-size="9.5" text-anchor="end" font-weight="normal" font-family="'Liberation Serif', serif" fill="#111" >100</text>
<line x1="302.90" y1="188.50" x2="305.40" y2="188.50" stroke="#333" stroke-width="1"/>
<line x1="305.50" y1="188.00" x2="305.50" y2="298.20" stroke="#333" stroke-width="1"/>
<line x1="305.40" y1="297.50" x2="427.90" y2="297.50" stroke="#333" stroke-width="1"/>
<line x1="305.50" y1="297.70" x2="305.50" y2="300.20" stroke="#333" stroke-width="1"/>
<text x="306.20" y="313.70" font-size="9.5" text-anchor="middle" font-weight="normal" font-family="'Liberation Serif', serif" fill="#111" >0</text>
<line x1="325.50" y1="297.70" x2="325.50" y2="300.20" stroke="#333" stroke-width="1"/>
<text x="326.62" y="313.70" font-size="9.5" text-anchor="middle" font-weight="normal" font-family="'Liberation Serif', serif" fill="#111" >10</text>
<line x1="346.50" y1="297.70" x2="346.50" y2="300.20" stroke="#333" stroke-width="1"/>
<text x="347.04" y="313.70" font-size="9.5" text-anchor="middle" font-weight="normal" font-family="'Liberation Serif', serif" fill="#111" >25</text>
<line x1="366.50" y1="297.70" x2="366.50" y2="300.20" stroke="#333" stroke-width="1"/>
<text x="367.46" y="313.70" font-size="9.5" text-anchor="middle" font-weight="normal" font-family="'Liberation Serif', serif" fill="#111" >50</text>
<line x1="387.50" y1="297.70" x2="387.50" y2="300.20" stroke="#333" stroke-width="1"/>
<text x="387.88" y="313.70" font-size="9.5" text-anchor="middle" font-weight="normal" font-family="'Liberation Serif', serif" fill="#111" >100</text>
<line x1="407.50" y1="297.70" x2="407.50" y2="300.20" stroke="#333" stroke-width="1"/>
<text x="408.30" y="313.70" font-size="9.5" text-anchor="middle" font-weight="normal" font-family="'Liberation Serif', serif" fill="#111" >150</text>
<line x1="427.50" y1="297.70" x2="427.50" y2="300.20" stroke="#333" stroke-width="1"/>
<text x="428.72" y="313.70" font-size="9.5" text-anchor="middle" font-weight="normal" font-family="'Liberation Serif', serif" fill="#111" >200</text>
<polyline points="305.40,188.00 325.82,213.67 346.24,223.10 366.66,237.91 387.08,249.43 407.50,258.65 427.92,274.22" fill="none" stroke="#222" stroke-width="0.9"/>
<polyline points="305.40,188.00 325.82,214.33 346.24,228.59 366.66,240.66 387.08,250.53 407.50,259.96 427.92,278.28" fill="none" stroke="#222" stroke-width="0.9"/>
<polyline points="305.40,188.00 325.82,206.98 346.24,223.10 366.66,249.43 387.08,270.27 407.50,275.76 427.92,291.12" fill="none" stroke="#222" stroke-width="0.9"/>
<polyline points="305.40,188.00 325.82,208.84 346.24,229.03 366.66,250.53 387.08,272.91 407.50,278.28 427.92,286.40" fill="none" stroke="#222" stroke-width="0.9"/>
<path d="M305.40,185.46 L307.61,189.89 L303.19,189.89 Z" fill="#fff" stroke="#000" stroke-width="0.9"/>
<line x1="325.82" y1="210.38" x2="325.82" y2="216.96" stroke="#222" stroke-width="0.8"/>
<line x1="324.22" y1="210.38" x2="327.42" y2="210.38" stroke="#222" stroke-width="0.8"/>
<line x1="324.22" y1="216.96" x2="327.42" y2="216.96" stroke="#222" stroke-width="0.8"/>
<path d="M325.82,211.13 L328.03,215.56 L323.61,215.56 Z" fill="#fff" stroke="#000" stroke-width="0.9"/>
<line x1="346.24" y1="222.01" x2="346.24" y2="224.20" stroke="#222" stroke-width="0.8"/>
<line x1="344.64" y1="222.01" x2="347.84" y2="222.01" stroke="#222" stroke-width="0.8"/>
<line x1="344.64" y1="224.20" x2="347.84" y2="224.20" stroke="#222" stroke-width="0.8"/>
<path d="M346.24,220.56 L348.45,224.99 L344.03,224.99 Z" fill="#fff" stroke="#000" stroke-width="0.9"/>
<line x1="366.66" y1="235.72" x2="366.66" y2="240.11" stroke="#222" stroke-width="0.8"/>
<line x1="365.06" y1="235.72" x2="368.26" y2="235.72" stroke="#222" stroke-width="0.8"/>
<line x1="365.06" y1="240.11" x2="368.26" y2="240.11" stroke="#222" stroke-width="0.8"/>
<path d="M366.66,235.37 L368.87,239.80 L364.45,239.80 Z" fill="#fff" stroke="#000" stroke-width="0.9"/>
<line x1="387.08" y1="248.33" x2="387.08" y2="250.53" stroke="#222" stroke-width="0.8"/>
<line x1="385.48" y1="248.33" x2="388.68" y2="248.33" stroke="#222" stroke-width="0.8"/>
<line x1="385.48" y1="250.53" x2="388.68" y2="250.53" stroke="#222" stroke-width="0.8"/>
<path d="M387.08,246.89 L389.29,251.32 L384.87,251.32 Z" fill="#fff" stroke="#000" stroke-width="0.9"/>
<line x1="407.50" y1="256.45" x2="407.50" y2="260.84" stroke="#222" stroke-width="0.8"/>
<line x1="405.90" y1="256.45" x2="409.10" y2="256.45" stroke="#222" stroke-width="0.8"/>
<line x1="405.90" y1="260.84" x2="409.10" y2="260.84" stroke="#222" stroke-width="0.8"/>
<path d="M407.50,256.10 L409.71,260.53 L405.29,260.53 Z" fill="#fff" stroke="#000" stroke-width="0.9"/>
<line x1="427.92" y1="272.03" x2="427.92" y2="276.42" stroke="#222" stroke-width="0.8"/>
<line x1="426.32" y1="272.03" x2="429.52" y2="272.03" stroke="#222" stroke-width="0.8"/>
<line x1="426.32" y1="276.42" x2="429.52" y2="276.42" stroke="#222" stroke-width="0.8"/>
<path d="M427.92,271.68 L430.13,276.11 L425.71,276.11 Z" fill="#fff" stroke="#000" stroke-width="0.9"/>
<ellipse cx="305.40" cy="188.00" rx="1.72" ry="2.05" fill="#fff" stroke="#000" stroke-width="0.9"/>
<line x1="325.82" y1="211.04" x2="325.82" y2="217.62" stroke="#222" stroke-width="0.8"/>
<line x1="324.22" y1="211.04" x2="327.42" y2="211.04" stroke="#222" stroke-width="0.8"/>
<line x1="324.22" y1="217.62" x2="327.42" y2="217.62" stroke="#222" stroke-width="0.8"/>
<ellipse cx="325.82" cy="214.33" rx="1.72" ry="2.05" fill="#fff" stroke="#000" stroke-width="0.9"/>
<line x1="346.24" y1="227.49" x2="346.24" y2="229.69" stroke="#222" stroke-width="0.8"/>
<line x1="344.64" y1="227.49" x2="347.84" y2="227.49" stroke="#222" stroke-width="0.8"/>
<line x1="344.64" y1="229.69" x2="347.84" y2="229.69" stroke="#222" stroke-width="0.8"/>
<ellipse cx="346.24" cy="228.59" rx="1.72" ry="2.05" fill="#fff" stroke="#000" stroke-width="0.9"/>
<line x1="366.66" y1="238.46" x2="366.66" y2="242.85" stroke="#222" stroke-width="0.8"/>
<line x1="365.06" y1="238.46" x2="368.26" y2="238.46" stroke="#222" stroke-width="0.8"/>
<line x1="365.06" y1="242.85" x2="368.26" y2="242.85" stroke="#222" stroke-width="0.8"/>
<ellipse cx="366.66" cy="240.66" rx="1.72" ry="2.05" fill="#fff" stroke="#000" stroke-width="0.9"/>
<line x1="387.08" y1="249.43" x2="387.08" y2="251.63" stroke="#222" stroke-width="0.8"/>
<line x1="385.48" y1="249.43" x2="388.68" y2="249.43" stroke="#222" stroke-width="0.8"/>
<line x1="385.48" y1="251.63" x2="388.68" y2="251.63" stroke="#222" stroke-width="0.8"/>
<ellipse cx="387.08" cy="250.53" rx="1.72" ry="2.05" fill="#fff" stroke="#000" stroke-width="0.9"/>
<line x1="407.50" y1="257.77" x2="407.50" y2="262.16" stroke="#222" stroke-width="0.8"/>
<line x1="405.90" y1="257.77" x2="409.10" y2="257.77" stroke="#222" stroke-width="0.8"/>
<line x1="405.90" y1="262.16" x2="409.10" y2="262.16" stroke="#222" stroke-width="0.8"/>
<ellipse cx="407.50" cy="259.96" rx="1.72" ry="2.05" fill="#fff" stroke="#000" stroke-width="0.9"/>
<line x1="427.92" y1="276.09" x2="427.92" y2="280.48" stroke="#222" stroke-width="0.8"/>
<line x1="426.32" y1="276.09" x2="429.52" y2="276.09" stroke="#222" stroke-width="0.8"/>
<line x1="426.32" y1="280.48" x2="429.52" y2="280.48" stroke="#222" stroke-width="0.8"/>
<ellipse cx="427.92" cy="278.28" rx="1.72" ry="2.05" fill="#fff" stroke="#000" stroke-width="0.9"/>
<rect x="303.84" y="185.62" width="3.12" height="4.76" fill="#000" stroke="#000" stroke-width="0.9"/>
<line x1="325.82" y1="202.59" x2="325.82" y2="211.37" stroke="#222" stroke-width="0.8"/>
<line x1="324.22" y1="202.59" x2="327.42" y2="202.59" stroke="#222" stroke-width="0.8"/>
<line x1="324.22" y1="211.37" x2="327.42" y2="211.37" stroke="#222" stroke-width="0.8"/>
<rect x="324.26" y="204.60" width="3.12" height="4.76" fill="#000" stroke="#000" stroke-width="0.9"/>
<line x1="346.24" y1="222.01" x2="346.24" y2="224.20" stroke="#222" stroke-width="0.8"/>
<line x1="344.64" y1="222.01" x2="347.84" y2="222.01" stroke="#222" stroke-width="0.8"/>
<line x1="344.64" y1="224.20" x2="347.84" y2="224.20" stroke="#222" stroke-width="0.8"/>
<rect x="344.68" y="220.73" width="3.12" height="4.76" fill="#000" stroke="#000" stroke-width="0.9"/>
<line x1="366.66" y1="247.24" x2="366.66" y2="251.63" stroke="#222" stroke-width="0.8"/>
<line x1="365.06" y1="247.24" x2="368.26" y2="247.24" stroke="#222" stroke-width="0.8"/>
<line x1="365.06" y1="251.63" x2="368.26" y2="251.63" stroke="#222" stroke-width="0.8"/>
<rect x="365.10" y="247.05" width="3.12" height="4.76" fill="#000" stroke="#000" stroke-width="0.9"/>
<line x1="387.08" y1="265.89" x2="387.08" y2="274.66" stroke="#222" stroke-width="0.8"/>
<line x1="385.48" y1="265.89" x2="388.68" y2="265.89" stroke="#222" stroke-width="0.8"/>
<line x1="385.48" y1="274.66" x2="388.68" y2="274.66" stroke="#222" stroke-width="0.8"/>
<rect x="385.52" y="267.90" width="3.12" height="4.76" fill="#000" stroke="#000" stroke-width="0.9"/>
<line x1="407.50" y1="271.37" x2="407.50" y2="280.15" stroke="#222" stroke-width="0.8"/>
<line x1="405.90" y1="271.37" x2="409.10" y2="271.37" stroke="#222" stroke-width="0.8"/>
<line x1="405.90" y1="280.15" x2="409.10" y2="280.15" stroke="#222" stroke-width="0.8"/>
<rect x="405.94" y="273.38" width="3.12" height="4.76" fill="#000" stroke="#000" stroke-width="0.9"/>
<line x1="427.92" y1="290.02" x2="427.92" y2="292.21" stroke="#222" stroke-width="0.8"/>
<line x1="426.32" y1="290.02" x2="429.52" y2="290.02" stroke="#222" stroke-width="0.8"/>
<line x1="426.32" y1="292.21" x2="429.52" y2="292.21" stroke="#222" stroke-width="0.8"/>
<rect x="426.36" y="288.74" width="3.12" height="4.76" fill="#000" stroke="#000" stroke-width="0.9"/>
<ellipse cx="305.40" cy="188.00" rx="1.72" ry="2.05" fill="#000" stroke="#000" stroke-width="0.9"/>
<line x1="325.82" y1="205.55" x2="325.82" y2="212.13" stroke="#222" stroke-width="0.8"/>
<line x1="324.22" y1="205.55" x2="327.42" y2="205.55" stroke="#222" stroke-width="0.8"/>
<line x1="324.22" y1="212.13" x2="327.42" y2="212.13" stroke="#222" stroke-width="0.8"/>
<ellipse cx="325.82" cy="208.84" rx="1.72" ry="2.05" fill="#000" stroke="#000" stroke-width="0.9"/>
<line x1="346.24" y1="227.93" x2="346.24" y2="230.12" stroke="#222" stroke-width="0.8"/>
<line x1="344.64" y1="227.93" x2="347.84" y2="227.93" stroke="#222" stroke-width="0.8"/>
<line x1="344.64" y1="230.12" x2="347.84" y2="230.12" stroke="#222" stroke-width="0.8"/>
<ellipse cx="346.24" cy="229.03" rx="1.72" ry="2.05" fill="#000" stroke="#000" stroke-width="0.9"/>
<line x1="366.66" y1="248.33" x2="366.66" y2="252.72" stroke="#222" stroke-width="0.8"/>
<line x1="365.06" y1="248.33" x2="368.26" y2="248.33" stroke="#222" stroke-width="0.8"/>
<line x1="365.06" y1="252.72" x2="368.26" y2="252.72" stroke="#222" stroke-width="0.8"/>
<ellipse cx="366.66" cy="250.53" rx="1.72" ry="2.05" fill="#000" stroke="#000" stroke-width="0.9"/>
<line x1="387.08" y1="269.62" x2="387.08" y2="276.20" stroke="#222" stroke-width="0.8"/>
<line x1="385.48" y1="269.62" x2="388.68" y2="269.62" stroke="#222" stroke-width="0.8"/>
<line x1="385.48" y1="276.20" x2="388.68" y2="276.20" stroke="#222" stroke-width="0.8"/>
<ellipse cx="387.08" cy="272.91" rx="1.72" ry="2.05" fill="#000" stroke="#000" stroke-width="0.9"/>
<line x1="407.50" y1="274.99" x2="407.50" y2="281.57" stroke="#222" stroke-width="0.8"/>
<line x1="405.90" y1="274.99" x2="409.10" y2="274.99" stroke="#222" stroke-width="0.8"/>
<line x1="405.90" y1="281.57" x2="409.10" y2="281.57" stroke="#222" stroke-width="0.8"/>
<ellipse cx="407.50" cy="278.28" rx="1.72" ry="2.05" fill="#000" stroke="#000" stroke-width="0.9"/>
<line x1="427.92" y1="285.30" x2="427.92" y2="287.50" stroke="#222" stroke-width="0.8"/>
<line x1="426.32" y1="285.30" x2="429.52" y2="285.30" stroke="#222" stroke-width="0.8"/>
<line x1="426.32" y1="287.50" x2="429.52" y2="287.50" stroke="#222" stroke-width="0.8"/>
<ellipse cx="427.92" cy="286.40" rx="1.72" ry="2.05" fill="#000" stroke="#000" stroke-width="0.9"/>
<text x="444.60" y="312.90" font-size="9.8" text-anchor="start" font-weight="normal" font-family="'Liberation Serif', serif" fill="#111" >dasatinib (nM)</text>
<text x="0" y="0" font-size="11.4" text-anchor="middle" font-weight="bold" font-family="'Liberation Serif', serif" fill="#111" transform="translate(282.00,257.00) rotate(-90)">% growth</text>
<text x="468.90" y="183.70" font-size="9.5" text-anchor="middle" font-weight="normal" font-family="'Liberation Serif', serif" fill="#111" >MM</text>
<path d="M446.6,190 V186.4 H491.1 V190" fill="none" stroke="#333" stroke-width="0.9"/>
<line x1="429.00" y1="199.50" x2="443.80" y2="199.50" stroke="#222" stroke-width="1"/>
<path d="M436.40,196.66 L438.61,201.09 L434.19,201.09 Z" fill="#fff" stroke="#000" stroke-width="0.9"/>
<text x="449.70" y="202.60" font-size="9.5" text-anchor="start" font-weight="normal" font-family="'Liberation Serif', serif" fill="#111" >stage III A</text>
<line x1="429.00" y1="215.50" x2="443.80" y2="215.50" stroke="#222" stroke-width="1"/>
<ellipse cx="436.40" cy="215.30" rx="1.72" ry="2.05" fill="#fff" stroke="#000" stroke-width="0.9"/>
<text x="449.70" y="218.70" font-size="9.5" text-anchor="start" font-weight="normal" font-family="'Liberation Serif', serif" fill="#111" >stage III B</text>
<line x1="429.00" y1="232.50" x2="443.80" y2="232.50" stroke="#222" stroke-width="1"/>
<rect x="434.84" y="230.32" width="3.12" height="4.76" fill="#000" stroke="#000" stroke-width="0.9"/>
<text x="449.70" y="236.10" font-size="9.5" text-anchor="start" font-weight="normal" font-family="'Liberation Serif', serif" fill="#111" >stage&#160;&#160;II A</text>
<line x1="429.00" y1="249.50" x2="443.80" y2="249.50" stroke="#222" stroke-width="1"/>
<ellipse cx="436.40" cy="249.10" rx="1.72" ry="2.05" fill="#000" stroke="#000" stroke-width="0.9"/>
<text x="449.70" y="252.50" font-size="9.5" text-anchor="start" font-weight="normal" font-family="'Liberation Serif', serif" fill="#111" >stage&#160;&#160;II B</text>
<text x="256.70" y="12.30" font-size="17.5" text-anchor="start" font-weight="normal" font-family="'Liberation Sans', sans-serif" fill="#000" style="stroke:#000;stroke-width:1.1px">B</text>
<rect x="313.50" y="30.80" width="131.50" height="104.40" fill="#fff" stroke="#555" stroke-width="1" />
<rect x="314.00" y="31.60" width="130.50" height="20.20" fill="#b8b8b8" stroke="none" stroke-width="1" />
<rect x="314.00" y="53.20" width="130.50" height="19.40" fill="#e2e2e2" stroke="none" stroke-width="1" />
<rect x="314.00" y="74.20" width="130.50" height="17.60" fill="#a6a6a6" stroke="none" stroke-width="1" />
<rect x="314.00" y="93.20" width="130.50" height="19.40" fill="#cdcdcd" stroke="none" stroke-width="1" />
<rect x="314.00" y="114.20" width="130.50" height="20.40" fill="#b2b2b2" stroke="none" stroke-width="1" />
<rect x="393.00" y="31.60" width="25.40" height="20.20" fill="#c3c3c3" stroke="none" stroke-width="1" />
<rect x="322.00" y="39.50" width="18.00" height="5.00" rx="2.50" ry="2.50" fill="#000" fill-opacity="0.25" filter="url(#b2)"/>
<rect x="347.00" y="39.00" width="18.00" height="6.00" rx="3.00" ry="3.00" fill="#000" fill-opacity="0.95" filter="url(#b1)"/>
<rect x="373.00" y="41.00" width="14.00" height="4.00" rx="2.00" ry="2.00" fill="#000" fill-opacity="0.12" filter="url(#b2)"/>
<rect x="397.00" y="40.00" width="16.00" height="4.00" rx="2.00" ry="2.00" fill="#000" fill-opacity="0.15" filter="url(#b2)"/>
<rect x="423.00" y="38.50" width="18.00" height="6.00" rx="3.00" ry="3.00" fill="#000" fill-opacity="1.00" filter="url(#b1)"/>
<line x1="392.50" y1="31.60" x2="392.50" y2="51.80" stroke="#333" stroke-width="1"/>
<line x1="418.50" y1="31.60" x2="418.50" y2="51.80" stroke="#333" stroke-width="1"/>
<line x1="444.50" y1="31.60" x2="444.50" y2="51.80" stroke="#555" stroke-width="2"/>
<rect x="317.50" y="63.15" width="13.00" height="2.50" rx="1.25" ry="1.25" fill="#000" fill-opacity="0.25" filter="url(#b1)"/>
<rect x="336.50" y="63.15" width="3.00" height="2.50" rx="1.25" ry="1.25" fill="#000" fill-opacity="0.35" filter="url(#b1)"/>
<rect x="345.00" y="59.35" width="18.00" height="6.50" rx="3.25" ry="3.25" fill="#000" fill-opacity="1.00" filter="url(#b1)"/>
<rect x="370.50" y="63.95" width="19.00" height="4.50" rx="2.25" ry="2.25" fill="#000" fill-opacity="0.55" filter="url(#b1)"/>
<rect x="395.50" y="62.75" width="19.00" height="4.50" rx="2.25" ry="2.25" fill="#000" fill-opacity="0.50" filter="url(#b1)"/>
<rect x="420.50" y="59.00" width="19.00" height="6.00" rx="3.00" ry="3.00" fill="#000" fill-opacity="0.95" filter="url(#b1)"/>
<rect x="320.00" y="80.80" width="22.00" height="6.00" rx="3.00" ry="3.00" fill="#000" fill-opacity="1.00" filter="url(#b1)"/>
<rect x="345.00" y="80.50" width="22.00" height="8.00" rx="4.00" ry="4.00" fill="#000" fill-opacity="1.00" filter="url(#b1)"/>
<rect x="370.00" y="80.50" width="20.00" height="6.00" rx="3.00" ry="3.00" fill="#000" fill-opacity="1.00" filter="url(#b1)"/>
<rect x="395.00" y="80.80" width="20.00" height="6.00" rx="3.00" ry="3.00" fill="#000" fill-opacity="1.00" filter="url(#b1)"/>
<rect x="419.00" y="80.80" width="20.00" height="6.00" rx="3.00" ry="3.00" fill="#000" fill-opacity="1.00" filter="url(#b1)"/>
<rect x="321.00" y="99.75" width="20.00" height="4.50" rx="2.25" ry="2.25" fill="#000" fill-opacity="0.55" filter="url(#b1)"/>
<rect x="345.50" y="101.35" width="21.00" height="6.50" rx="3.25" ry="3.25" fill="#000" fill-opacity="1.00" filter="url(#b1)"/>
<rect x="370.00" y="99.25" width="20.00" height="5.50" rx="2.75" ry="2.75" fill="#000" fill-opacity="1.00" filter="url(#b1)"/>
<rect x="371.00" y="93.50" width="18.00" height="4.00" rx="2.00" ry="2.00" fill="#000" fill-opacity="0.45" filter="url(#b1)"/>
<rect x="395.00" y="100.00" width="20.00" height="6.00" rx="3.00" ry="3.00" fill="#000" fill-opacity="1.00" filter="url(#b1)"/>
<rect x="396.00" y="94.50" width="18.00" height="6.00" rx="3.00" ry="3.00" fill="#000" fill-opacity="0.35" filter="url(#b2)"/>
<rect x="418.50" y="100.75" width="21.00" height="6.50" rx="3.25" ry="3.25" fill="#000" fill-opacity="1.00" filter="url(#b1)"/>
<rect x="420.00" y="94.50" width="18.00" height="6.00" rx="3.00" ry="3.00" fill="#000" fill-opacity="0.35" filter="url(#b2)"/>
<rect x="319.00" y="120.80" width="24.00" height="6.00" rx="3.00" ry="3.00" fill="#000" fill-opacity="1.00" filter="url(#b1)"/>
<rect x="345.50" y="120.45" width="21.00" height="5.50" rx="2.75" ry="2.75" fill="#000" fill-opacity="1.00" filter="url(#b1)"/>
<rect x="370.00" y="120.05" width="20.00" height="5.50" rx="2.75" ry="2.75" fill="#000" fill-opacity="1.00" filter="url(#b1)"/>
<rect x="395.00" y="120.20" width="20.00" height="6.00" rx="3.00" ry="3.00" fill="#000" fill-opacity="1.00" filter="url(#b1)"/>
<rect x="419.50" y="120.80" width="21.00" height="6.00" rx="3.00" ry="3.00" fill="#000" fill-opacity="1.00" filter="url(#b1)"/>
<text x="305.50" y="45.30" font-size="9.3" text-anchor="end" font-weight="normal" font-family="'Liberation Serif', serif" fill="#111" >20 kDa</text>
<line x1="309.50" y1="42.50" x2="311.50" y2="42.50" stroke="#222" stroke-width="0.9"/>
<text x="305.50" y="65.60" font-size="9.3" text-anchor="end" font-weight="normal" font-family="'Liberation Serif', serif" fill="#111" >190 kDa</text>
<line x1="309.50" y1="62.50" x2="311.50" y2="62.50" stroke="#222" stroke-width="0.9"/>
<text x="305.50" y="86.20" font-size="9.3" text-anchor="end" font-weight="normal" font-family="'Liberation Serif', serif" fill="#111" >190 kDa</text>
<line x1="309.50" y1="83.50" x2="311.50" y2="83.50" stroke="#222" stroke-width="0.9"/>
<text x="305.50" y="106.30" font-size="9.3" text-anchor="end" font-weight="normal" font-family="'Liberation Serif', serif" fill="#111" >60 kDa</text>
<line x1="309.50" y1="103.50" x2="311.50" y2="103.50" stroke="#222" stroke-width="0.9"/>
<text x="305.50" y="126.90" font-size="9.3" text-anchor="end" font-weight="normal" font-family="'Liberation Serif', serif" fill="#111" >60 kDa</text>
<line x1="309.50" y1="123.50" x2="311.50" y2="123.50" stroke="#222" stroke-width="0.9"/>
<text x="450.00" y="45.40" font-size="9.5" text-anchor="start" font-weight="normal" font-family="'Liberation Serif', serif" fill="#111" >PDGF-BB</text>
<text x="450" y="66.2" font-family="'Liberation Serif', serif" fill="#111"><tspan font-size="6" font-weight="bold">phospho</tspan><tspan font-size="9.5">PDGF-R&#946;</tspan></text>
<text x="450.00" y="87.00" font-size="9.5" text-anchor="start" font-weight="normal" font-family="'Liberation Serif', serif" fill="#111" >PDGF-R&#946;</text>
<text x="450" y="107" font-family="'Liberation Serif', serif" fill="#111"><tspan font-size="6" font-weight="bold">phospho</tspan><tspan font-size="9.5">Src</tspan></text>
<text x="450.00" y="126.20" font-size="9.5" text-anchor="start" font-weight="normal" font-family="'Liberation Serif', serif" fill="#111" >Src</text>
<text x="0" y="0" font-size="9.2" font-weight="bold" font-family="'Liberation Serif', serif" fill="#111" letter-spacing="0.15" transform="translate(326.30,27.6) rotate(-31)">MM.1S</text>
<text x="0" y="0" font-size="9.2" font-weight="bold" font-family="'Liberation Serif', serif" fill="#111" letter-spacing="0.15" transform="translate(352.60,27.6) rotate(-31)">MM.1R</text>
<text x="0" y="0" font-size="9.2" font-weight="bold" font-family="'Liberation Serif', serif" fill="#111" letter-spacing="0.15" transform="translate(381.80,27.6) rotate(-31)">RPMI-8226</text>
<text x="0" y="0" font-size="9.2" font-weight="bold" font-family="'Liberation Serif', serif" fill="#111" letter-spacing="0.15" transform="translate(406.20,27.6) rotate(-31)">Dox 40</text>
<text x="0" y="0" font-size="9.2" font-weight="bold" font-family="'Liberation Serif', serif" fill="#111" letter-spacing="0.15" transform="translate(429.30,27.6) rotate(-31)">OPM-1</text>
<text x="326.90" y="148.70" font-size="13.5" text-anchor="middle" font-weight="bold" font-family="'Liberation Sans', sans-serif" fill="#111" >1</text>
<text x="355.00" y="148.70" font-size="13.5" text-anchor="middle" font-weight="bold" font-family="'Liberation Sans', sans-serif" fill="#111" >2</text>
<text x="382.20" y="148.70" font-size="13.5" text-anchor="middle" font-weight="bold" font-family="'Liberation Sans', sans-serif" fill="#111" >3</text>
<text x="407.50" y="148.70" font-size="13.5" text-anchor="middle" font-weight="bold" font-family="'Liberation Sans', sans-serif" fill="#111" >4</text>
<text x="430.60" y="148.70" font-size="13.5" text-anchor="middle" font-weight="bold" font-family="'Liberation Sans', sans-serif" fill="#111" >5</text>
<text x="0.30" y="346.20" font-size="17.5" text-anchor="start" font-weight="normal" font-family="'Liberation Sans', sans-serif" fill="#000" style="stroke:#000;stroke-width:0.3px">E</text>
<path d="M20.5,360 V433.5 M20.5,500.5 V591.5 H237.7 M307.7,591.5 H478" fill="none" stroke="#222" stroke-width="1"/>
<path d="M20.5,356.8 L17.9,363 L23.1,363 Z" fill="#111"/>
<path d="M483.3,591.5 L477.3,589 L477.3,594 Z" fill="#111"/>
<text x="0" y="0" font-size="10" text-anchor="middle" font-weight="bold" font-family="'Liberation Serif', serif" fill="#111" transform="translate(24.50,470.00) rotate(-90)">Cell number</text>
<text x="244.20" y="595.80" font-size="10" text-anchor="start" font-weight="bold" font-family="'Liberation Serif', serif" fill="#111" >DNA content</text>
<polygon points="44.90,511.50 44.90,509.94 45.28,509.81 45.65,509.33 46.03,509.93 46.41,509.87 46.79,509.77 47.17,510.29 47.54,509.87 47.92,509.72 48.30,509.50 48.68,510.41 49.05,510.14 49.43,510.41 49.81,509.48 50.19,509.63 50.56,510.48 50.94,509.26 51.32,509.28 51.70,509.68 52.07,509.73 52.45,510.33 52.83,510.51 53.21,509.85 53.58,510.45 53.96,510.28 54.34,510.22 54.72,510.49 55.09,509.93 55.47,509.96 55.85,509.44 56.23,509.86 56.61,509.70 56.98,509.88 57.36,509.67 57.74,509.94 58.12,510.17 58.49,509.24 58.87,509.24 59.25,509.44 59.63,509.61 60.00,510.12 60.38,510.23 60.76,510.16 61.14,510.44 61.51,509.54 61.89,510.01 62.27,509.44 62.65,510.03 63.02,509.29 63.40,509.43 63.78,510.53 64.16,510.26 64.53,509.35 64.91,509.92 65.29,509.26 65.67,510.02 66.05,510.44 66.42,509.72 66.80,509.52 67.18,510.18 67.56,510.42 67.93,510.10 68.31,509.28 68.69,509.55 69.07,510.38 69.44,510.21 69.82,510.40 70.20,510.45 70.58,509.50 70.95,510.30 71.33,509.81 71.71,509.95 72.09,510.28 72.46,509.58 72.84,510.36 73.22,509.70 73.60,510.38 73.97,509.89 74.35,510.07 74.73,509.90 75.11,508.89 75.49,509.01 75.86,509.56 76.24,508.71 76.62,509.49 77.00,509.15 77.37,508.46 77.75,508.24 78.13,508.43 78.51,506.76 78.88,507.25 79.26,506.67 79.64,505.49 80.02,503.43 80.39,500.04 80.77,496.74 81.15,493.65 81.53,482.86 81.90,471.62 82.28,460.30 82.66,450.57 82.87,444.89 83.04,448.01 83.41,455.48 83.79,466.27 84.17,480.84 84.55,491.26 84.93,498.11 85.30,500.71 85.68,501.28 86.06,500.83 86.44,501.28 86.81,501.23 87.19,502.03 87.57,501.05 87.95,502.42 88.32,502.77 88.70,502.79 89.08,504.37 89.46,503.77 89.83,504.60 90.21,505.01 90.59,504.13 90.97,504.54 91.34,504.66 91.72,505.57 92.10,504.79 92.48,505.78 92.85,505.28 93.23,505.60 93.61,506.02 93.99,505.26 94.37,505.37 94.74,505.32 95.12,505.90 95.50,505.21 95.88,505.85 96.25,505.29 96.63,505.61 97.01,505.69 97.39,506.35 97.76,505.19 98.14,505.55 98.52,505.55 98.90,505.95 99.27,506.43 99.65,506.51 100.03,505.95 100.41,505.68 100.78,505.81 101.16,505.70 101.54,505.76 101.92,506.43 102.29,505.64 102.67,505.18 103.05,505.31 103.43,505.46 103.81,504.67 104.18,505.19 104.56,503.97 104.94,504.28 105.32,504.28 105.69,504.69 106.07,504.02 106.45,503.88 106.83,502.89 107.20,502.84 107.58,501.53 107.96,499.25 108.34,501.84 108.71,500.70 109.09,499.43 109.47,496.57 109.85,499.51 110.22,498.69 110.60,498.17 110.98,497.42 111.36,497.07 111.73,496.82 112.11,496.90 112.49,495.93 112.87,497.02 113.25,496.99 113.62,497.61 114.00,498.41 114.38,494.12 114.76,497.09 115.13,499.67 115.51,500.91 115.89,501.21 116.27,502.07 116.64,503.40 117.02,504.26 117.40,505.31 117.78,506.81 118.15,506.63 118.53,506.91 118.91,507.30 119.29,508.26 119.66,508.32 120.04,509.32 120.42,508.94 120.80,509.40 121.17,510.08 121.55,510.43 121.93,509.98 122.31,509.84 122.69,509.56 123.06,509.93 123.44,510.53 123.82,509.53 124.20,510.50 124.57,509.55 124.95,510.37 125.33,510.16 125.71,509.58 126.08,510.42 126.46,510.42 126.84,509.95 127.22,509.69 127.59,509.54 127.97,509.74 128.35,509.41 128.73,510.01 129.10,509.42 129.48,510.54 129.86,510.37 130.24,509.98 130.61,510.29 130.99,509.73 131.37,509.85 131.75,510.01 132.13,509.60 132.50,509.97 132.88,510.30 133.26,510.21 133.64,509.62 134.01,509.55 134.39,510.45 134.77,509.63 135.15,509.48 135.52,510.06 135.90,510.00 136.28,510.49 136.66,510.06 137.03,510.11 137.41,509.98 137.79,510.74 138.17,509.52 138.54,510.12 138.92,510.27 139.30,509.76 139.68,510.07 140.05,510.17 140.43,509.92 140.81,510.73 141.19,510.12 141.57,510.29 141.94,509.59 142.32,509.64 142.70,510.49 141.90,510.85 142.30,502.45 142.90,502.45 142.90,511.50" fill="#000" stroke="#000" stroke-width="0.4" stroke-linejoin="bevel"/>
<rect x="44.40" y="431.10" width="99.10" height="80.40" fill="none" stroke="#222" stroke-width="1" />
<line x1="42.00" y1="511.50" x2="44.40" y2="511.50" stroke="#333" stroke-width="0.8"/>
<line x1="43.00" y1="508.91" x2="44.40" y2="508.91" stroke="#333" stroke-width="0.8"/>
<line x1="43.00" y1="506.33" x2="44.40" y2="506.33" stroke="#333" stroke-width="0.8"/>
<line x1="43.00" y1="503.74" x2="44.40" y2="503.74" stroke="#333" stroke-width="0.8"/>
<line x1="43.00" y1="501.15" x2="44.40" y2="501.15" stroke="#333" stroke-width="0.8"/>
<line x1="42.00" y1="498.57" x2="44.40" y2="498.57" stroke="#333" stroke-width="0.8"/>
<line x1="43.00" y1="495.98" x2="44.40" y2="495.98" stroke="#333" stroke-width="0.8"/>
<line x1="43.00" y1="493.39" x2="44.40" y2="493.39" stroke="#333" stroke-width="0.8"/>
<line x1="43.00" y1="490.81" x2="44.40" y2="490.81" stroke="#333" stroke-width="0.8"/>
<line x1="43.00" y1="488.22" x2="44.40" y2="488.22" stroke="#333" stroke-width="0.8"/>
<line x1="42.00" y1="485.63" x2="44.40" y2="485.63" stroke="#333" stroke-width="0.8"/>
<line x1="43.00" y1="483.05" x2="44.40" y2="483.05" stroke="#333" stroke-width="0.8"/>
<line x1="43.00" y1="480.46" x2="44.40" y2="480.46" stroke="#333" stroke-width="0.8"/>
<line x1="43.00" y1="477.87" x2="44.40" y2="477.87" stroke="#333" stroke-width="0.8"/>
<line x1="43.00" y1="475.29" x2="44.40" y2="475.29" stroke="#333" stroke-width="0.8"/>
<line x1="42.00" y1="472.70" x2="44.40" y2="472.70" stroke="#333" stroke-width="0.8"/>
<line x1="43.00" y1="470.11" x2="44.40" y2="470.11" stroke="#333" stroke-width="0.8"/>
<line x1="43.00" y1="467.53" x2="44.40" y2="467.53" stroke="#333" stroke-width="0.8"/>
<line x1="43.00" y1="464.94" x2="44.40" y2="464.94" stroke="#333" stroke-width="0.8"/>
<line x1="43.00" y1="462.35" x2="44.40" y2="462.35" stroke="#333" stroke-width="0.8"/>
<line x1="42.00" y1="459.77" x2="44.40" y2="459.77" stroke="#333" stroke-width="0.8"/>
<line x1="43.00" y1="457.18" x2="44.40" y2="457.18" stroke="#333" stroke-width="0.8"/>
<line x1="43.00" y1="454.59" x2="44.40" y2="454.59" stroke="#333" stroke-width="0.8"/>
<line x1="43.00" y1="452.01" x2="44.40" y2="452.01" stroke="#333" stroke-width="0.8"/>
<line x1="43.00" y1="449.42" x2="44.40" y2="449.42" stroke="#333" stroke-width="0.8"/>
<line x1="42.00" y1="446.83" x2="44.40" y2="446.83" stroke="#333" stroke-width="0.8"/>
<line x1="43.00" y1="444.25" x2="44.40" y2="444.25" stroke="#333" stroke-width="0.8"/>
<line x1="43.00" y1="441.66" x2="44.40" y2="441.66" stroke="#333" stroke-width="0.8"/>
<line x1="43.00" y1="439.07" x2="44.40" y2="439.07" stroke="#333" stroke-width="0.8"/>
<line x1="43.00" y1="436.49" x2="44.40" y2="436.49" stroke="#333" stroke-width="0.8"/>
<line x1="42.00" y1="433.90" x2="44.40" y2="433.90" stroke="#333" stroke-width="0.8"/>
<text x="0" y="0" font-size="6.3" text-anchor="middle" font-family="'Liberation Sans', sans-serif" fill="#111" style="stroke:#111;stroke-width:0.22px" transform="translate(37.00,511.50) rotate(-90) scale(0.72,1) translate(0,2.2)">0</text>
<text x="0" y="0" font-size="6.3" text-anchor="middle" font-family="'Liberation Sans', sans-serif" fill="#111" style="stroke:#111;stroke-width:0.22px" transform="translate(37.00,498.57) rotate(-90) scale(0.72,1) translate(0,2.2)">20</text>
<text x="0" y="0" font-size="6.3" text-anchor="middle" font-family="'Liberation Sans', sans-serif" fill="#111" style="stroke:#111;stroke-width:0.22px" transform="translate(37.00,485.63) rotate(-90) scale(0.72,1) translate(0,2.2)">40</text>
<text x="0" y="0" font-size="6.3" text-anchor="middle" font-family="'Liberation Sans', sans-serif" fill="#111" style="stroke:#111;stroke-width:0.22px" transform="translate(37.00,472.70) rotate(-90) scale(0.72,1) translate(0,2.2)">60</text>
<text x="0" y="0" font-size="6.3" text-anchor="middle" font-family="'Liberation Sans', sans-serif" fill="#111" style="stroke:#111;stroke-width:0.22px" transform="translate(37.00,459.77) rotate(-90) scale(0.72,1) translate(0,2.2)">80</text>
<text x="0" y="0" font-size="6.3" text-anchor="middle" font-family="'Liberation Sans', sans-serif" fill="#111" style="stroke:#111;stroke-width:0.22px" transform="translate(37.00,446.83) rotate(-90) scale(0.72,1) translate(0,2.2)">100</text>
<text x="0" y="0" font-size="6.3" text-anchor="middle" font-family="'Liberation Sans', sans-serif" fill="#111" style="stroke:#111;stroke-width:0.22px" transform="translate(37.00,433.90) rotate(-90) scale(0.72,1) translate(0,2.2)">120</text>
<line x1="45.30" y1="511.50" x2="45.30" y2="513.90" stroke="#333" stroke-width="0.8"/>
<line x1="49.08" y1="511.50" x2="49.08" y2="512.90" stroke="#333" stroke-width="0.8"/>
<line x1="52.85" y1="511.50" x2="52.85" y2="512.90" stroke="#333" stroke-width="0.8"/>
<line x1="56.63" y1="511.50" x2="56.63" y2="512.90" stroke="#333" stroke-width="0.8"/>
<line x1="60.40" y1="511.50" x2="60.40" y2="512.90" stroke="#333" stroke-width="0.8"/>
<line x1="64.18" y1="511.50" x2="64.18" y2="513.90" stroke="#333" stroke-width="0.8"/>
<line x1="67.96" y1="511.50" x2="67.96" y2="512.90" stroke="#333" stroke-width="0.8"/>
<line x1="71.73" y1="511.50" x2="71.73" y2="512.90" stroke="#333" stroke-width="0.8"/>
<line x1="75.51" y1="511.50" x2="75.51" y2="512.90" stroke="#333" stroke-width="0.8"/>
<line x1="79.28" y1="511.50" x2="79.28" y2="512.90" stroke="#333" stroke-width="0.8"/>
<line x1="83.06" y1="511.50" x2="83.06" y2="513.90" stroke="#333" stroke-width="0.8"/>
<line x1="86.84" y1="511.50" x2="86.84" y2="512.90" stroke="#333" stroke-width="0.8"/>
<line x1="90.61" y1="511.50" x2="90.61" y2="512.90" stroke="#333" stroke-width="0.8"/>
<line x1="94.39" y1="511.50" x2="94.39" y2="512.90" stroke="#333" stroke-width="0.8"/>
<line x1="98.16" y1="511.50" x2="98.16" y2="512.90" stroke="#333" stroke-width="0.8"/>
<line x1="101.94" y1="511.50" x2="101.94" y2="513.90" stroke="#333" stroke-width="0.8"/>
<line x1="105.72" y1="511.50" x2="105.72" y2="512.90" stroke="#333" stroke-width="0.8"/>
<line x1="109.49" y1="511.50" x2="109.49" y2="512.90" stroke="#333" stroke-width="0.8"/>
<line x1="113.27" y1="511.50" x2="113.27" y2="512.90" stroke="#333" stroke-width="0.8"/>
<line x1="117.04" y1="511.50" x2="117.04" y2="512.90" stroke="#333" stroke-width="0.8"/>
<line x1="120.82" y1="511.50" x2="120.82" y2="513.90" stroke="#333" stroke-width="0.8"/>
<line x1="124.60" y1="511.50" x2="124.60" y2="512.90" stroke="#333" stroke-width="0.8"/>
<line x1="128.37" y1="511.50" x2="128.37" y2="512.90" stroke="#333" stroke-width="0.8"/>
<line x1="132.15" y1="511.50" x2="132.15" y2="512.90" stroke="#333" stroke-width="0.8"/>
<line x1="135.92" y1="511.50" x2="135.92" y2="512.90" stroke="#333" stroke-width="0.8"/>
<line x1="139.70" y1="511.50" x2="139.70" y2="513.90" stroke="#333" stroke-width="0.8"/>
<line x1="143.48" y1="511.50" x2="143.48" y2="512.90" stroke="#333" stroke-width="0.8"/>
<text x="45.30" y="520.10" font-size="6.1" text-anchor="middle" font-weight="normal" font-family="'Liberation Sans', sans-serif" fill="#111" style="stroke:#111;stroke-width:0.3px">0</text>
<text x="64.18" y="520.10" font-size="6.1" text-anchor="middle" font-weight="normal" font-family="'Liberation Sans', sans-serif" fill="#111" style="stroke:#111;stroke-width:0.3px">200</text>
<text x="83.06" y="520.10" font-size="6.1" text-anchor="middle" font-weight="normal" font-family="'Liberation Sans', sans-serif" fill="#111" style="stroke:#111;stroke-width:0.3px">400</text>
<text x="101.94" y="520.10" font-size="6.1" text-anchor="middle" font-weight="normal" font-family="'Liberation Sans', sans-serif" fill="#111" style="stroke:#111;stroke-width:0.3px">600</text>
<text x="120.82" y="520.10" font-size="6.1" text-anchor="middle" font-weight="normal" font-family="'Liberation Sans', sans-serif" fill="#111" style="stroke:#111;stroke-width:0.3px">800</text>
<text x="139.70" y="520.10" font-size="6.1" text-anchor="middle" font-weight="normal" font-family="'Liberation Sans', sans-serif" fill="#111" style="stroke:#111;stroke-width:0.3px">1000</text>
<text x="89.50" y="423.80" font-size="10" text-anchor="middle" font-weight="bold" font-family="'Liberation Serif', serif" fill="#111" style="stroke-width:0.12px">SFM</text>
<text x="0" y="0" font-size="10" text-anchor="end" font-family="'Liberation Sans', sans-serif" fill="#2a2a2a" class="nost" transform="translate(139.60,440.40) scale(0.92,1)"><tspan font-family="'Liberation Serif', serif" font-size="10.5">sub</tspan><tspan dx="1.2">G<tspan font-size="7.5" dy="2.4">1</tspan><tspan dy="-2.4">=</tspan></tspan>2,5%</text>
<text x="0" y="0" font-size="10" text-anchor="end" font-family="'Liberation Sans', sans-serif" fill="#2a2a2a" class="nost" transform="translate(139.60,450.80) scale(0.92,1)">G<tspan font-size="7.5" dy="2.4">1</tspan><tspan dy="-2.4">=</tspan>66,1%</text>
<text x="0" y="0" font-size="10" text-anchor="end" font-family="'Liberation Sans', sans-serif" fill="#2a2a2a" class="nost" transform="translate(139.60,461.20) scale(0.92,1)">S=14,5%</text>
<text x="0" y="0" font-size="10" text-anchor="end" font-family="'Liberation Sans', sans-serif" fill="#2a2a2a" class="nost" transform="translate(139.60,471.60) scale(0.92,1)">G<tspan font-size="7.5" dy="2.4">2</tspan><tspan dy="-2.4">/M=</tspan>16,9%</text>
<polygon points="160.70,447.40 160.70,446.17 161.08,445.88 161.46,445.86 161.84,446.70 162.22,446.89 162.60,446.33 162.98,446.49 163.36,445.64 163.74,445.83 164.12,445.97 164.50,446.04 164.88,445.87 165.26,446.69 165.63,446.22 166.01,446.67 166.39,445.48 166.77,446.83 167.15,445.62 167.53,446.80 167.91,445.83 168.29,446.39 168.67,446.28 169.05,445.58 169.43,446.89 169.81,446.83 170.19,445.47 170.57,446.11 170.95,446.78 171.33,445.35 171.71,445.42 172.09,446.74 172.47,446.25 172.85,446.71 173.23,446.43 173.61,445.94 173.99,446.66 174.37,445.82 174.75,446.84 175.12,446.65 175.50,445.63 175.88,446.29 176.26,446.26 176.64,445.98 177.02,446.17 177.40,446.31 177.78,446.87 178.16,445.77 178.54,445.39 178.92,445.37 179.30,445.87 179.68,446.36 180.06,446.35 180.44,445.83 180.82,445.85 181.20,446.74 181.58,446.55 181.96,446.35 182.34,446.11 182.72,445.64 183.10,446.13 183.48,446.88 183.86,445.62 184.24,446.24 184.61,446.10 184.99,446.57 185.37,446.24 185.75,446.31 186.13,445.70 186.51,446.76 186.89,446.05 187.27,446.64 187.65,445.82 188.03,446.86 188.41,446.48 188.79,446.38 189.17,445.91 189.55,446.84 189.93,446.19 190.31,446.59 190.69,446.48 191.07,446.17 191.45,445.40 191.83,446.16 192.21,445.40 192.59,446.66 192.97,445.45 193.35,446.34 193.73,446.62 194.10,445.73 194.48,444.43 194.86,444.05 195.24,441.82 195.62,439.64 196.00,435.37 196.38,429.22 196.76,425.07 197.14,423.31 197.52,420.02 197.90,413.75 198.28,405.30 198.63,397.17 198.66,397.99 199.04,408.73 199.42,419.30 199.80,424.29 200.18,427.71 200.56,432.89 200.94,432.99 201.32,433.61 201.70,434.59 202.08,434.74 202.46,430.28 202.84,433.00 203.22,434.25 203.59,435.03 203.97,434.61 204.35,435.52 204.73,434.79 205.11,435.34 205.49,435.72 205.87,432.51 206.25,434.96 206.63,435.01 207.01,435.63 207.39,434.47 207.77,436.07 208.15,435.51 208.53,433.50 208.91,435.58 209.29,436.34 209.67,436.25 210.05,435.32 210.43,435.71 210.81,435.79 211.19,434.35 211.57,433.55 211.95,435.08 212.33,434.02 212.71,434.82 213.08,436.64 213.46,436.22 213.84,436.79 214.22,436.11 214.60,436.70 214.98,435.76 215.36,436.78 215.74,435.96 216.12,436.13 216.50,435.68 216.88,436.17 217.26,436.11 217.64,436.50 218.02,435.98 218.40,436.48 218.78,437.30 219.16,436.90 219.54,436.35 219.92,435.87 220.30,434.23 220.68,435.81 221.06,435.86 221.44,436.07 221.82,436.35 222.20,436.34 222.57,434.80 222.95,436.44 223.33,432.63 223.71,435.34 224.09,435.86 224.47,431.99 224.85,430.70 225.23,435.49 225.61,434.47 225.99,433.79 226.37,432.85 226.75,432.96 227.13,433.93 227.51,433.05 227.89,432.86 228.27,432.23 228.65,432.30 229.03,432.11 229.41,432.29 229.79,432.00 230.17,431.86 230.55,432.15 230.93,432.18 231.31,433.21 231.69,433.11 232.06,432.94 232.44,435.29 232.82,436.37 233.20,436.88 233.58,437.56 233.96,439.09 234.34,439.23 234.72,440.42 235.10,443.10 235.48,443.29 235.86,444.03 236.24,444.53 236.62,445.16 237.00,444.72 237.38,444.55 237.76,444.87 238.14,445.39 238.52,445.13 238.90,446.04 239.28,446.15 239.66,445.16 240.04,445.68 240.42,445.58 240.80,446.63 241.18,446.29 241.55,445.89 241.93,445.50 242.31,445.35 242.69,445.47 243.07,446.14 243.45,446.08 243.83,445.32 244.21,445.12 244.59,445.93 244.97,446.39 245.35,445.72 245.73,445.86 246.11,446.14 246.49,446.36 246.87,446.12 247.25,445.76 247.63,446.54 248.01,445.89 248.39,445.24 248.77,445.57 249.15,446.36 249.53,446.10 249.91,446.61 250.29,445.61 250.67,445.78 251.04,446.51 251.42,445.92 251.80,445.85 252.18,445.89 252.56,446.21 252.94,446.32 253.32,446.26 253.70,445.24 254.08,446.31 254.46,446.04 254.84,446.11 255.22,446.57 255.60,446.22 255.98,446.53 256.36,446.35 256.74,446.28 257.12,446.32 257.50,445.39 257.88,446.41 258.26,446.36 258.64,445.85 259.02,446.27 259.40,446.09 259.78,445.88 258.90,446.76 259.30,437.86 259.90,437.86 259.90,447.40" fill="#000" stroke="#000" stroke-width="0.4" stroke-linejoin="bevel"/>
<rect x="160.20" y="368.30" width="100.30" height="79.10" fill="none" stroke="#222" stroke-width="1" />
<line x1="157.80" y1="447.40" x2="160.20" y2="447.40" stroke="#333" stroke-width="0.8"/>
<line x1="158.80" y1="444.86" x2="160.20" y2="444.86" stroke="#333" stroke-width="0.8"/>
<line x1="158.80" y1="442.31" x2="160.20" y2="442.31" stroke="#333" stroke-width="0.8"/>
<line x1="158.80" y1="439.77" x2="160.20" y2="439.77" stroke="#333" stroke-width="0.8"/>
<line x1="158.80" y1="437.23" x2="160.20" y2="437.23" stroke="#333" stroke-width="0.8"/>
<line x1="157.80" y1="434.68" x2="160.20" y2="434.68" stroke="#333" stroke-width="0.8"/>
<line x1="158.80" y1="432.14" x2="160.20" y2="432.14" stroke="#333" stroke-width="0.8"/>
<line x1="158.80" y1="429.60" x2="160.20" y2="429.60" stroke="#333" stroke-width="0.8"/>
<line x1="158.80" y1="427.05" x2="160.20" y2="427.05" stroke="#333" stroke-width="0.8"/>
<line x1="158.80" y1="424.51" x2="160.20" y2="424.51" stroke="#333" stroke-width="0.8"/>
<line x1="157.80" y1="421.97" x2="160.20" y2="421.97" stroke="#333" stroke-width="0.8"/>
<line x1="158.80" y1="419.42" x2="160.20" y2="419.42" stroke="#333" stroke-width="0.8"/>
<line x1="158.80" y1="416.88" x2="160.20" y2="416.88" stroke="#333" stroke-width="0.8"/>
<line x1="158.80" y1="414.34" x2="160.20" y2="414.34" stroke="#333" stroke-width="0.8"/>
<line x1="158.80" y1="411.79" x2="160.20" y2="411.79" stroke="#333" stroke-width="0.8"/>
<line x1="157.80" y1="409.25" x2="160.20" y2="409.25" stroke="#333" stroke-width="0.8"/>
<line x1="158.80" y1="406.71" x2="160.20" y2="406.71" stroke="#333" stroke-width="0.8"/>
<line x1="158.80" y1="404.16" x2="160.20" y2="404.16" stroke="#333" stroke-width="0.8"/>
<line x1="158.80" y1="401.62" x2="160.20" y2="401.62" stroke="#333" stroke-width="0.8"/>
<line x1="158.80" y1="399.08" x2="160.20" y2="399.08" stroke="#333" stroke-width="0.8"/>
<line x1="157.80" y1="396.53" x2="160.20" y2="396.53" stroke="#333" stroke-width="0.8"/>
<line x1="158.80" y1="393.99" x2="160.20" y2="393.99" stroke="#333" stroke-width="0.8"/>
<line x1="158.80" y1="391.45" x2="160.20" y2="391.45" stroke="#333" stroke-width="0.8"/>
<line x1="158.80" y1="388.90" x2="160.20" y2="388.90" stroke="#333" stroke-width="0.8"/>
<line x1="158.80" y1="386.36" x2="160.20" y2="386.36" stroke="#333" stroke-width="0.8"/>
<line x1="157.80" y1="383.82" x2="160.20" y2="383.82" stroke="#333" stroke-width="0.8"/>
<line x1="158.80" y1="381.27" x2="160.20" y2="381.27" stroke="#333" stroke-width="0.8"/>
<line x1="158.80" y1="378.73" x2="160.20" y2="378.73" stroke="#333" stroke-width="0.8"/>
<line x1="158.80" y1="376.19" x2="160.20" y2="376.19" stroke="#333" stroke-width="0.8"/>
<line x1="158.80" y1="373.64" x2="160.20" y2="373.64" stroke="#333" stroke-width="0.8"/>
<line x1="157.80" y1="371.10" x2="160.20" y2="371.10" stroke="#333" stroke-width="0.8"/>
<text x="0" y="0" font-size="6.3" text-anchor="middle" font-family="'Liberation Sans', sans-serif" fill="#111" style="stroke:#111;stroke-width:0.22px" transform="translate(152.80,447.40) rotate(-90) scale(0.72,1) translate(0,2.2)">0</text>
<text x="0" y="0" font-size="6.3" text-anchor="middle" font-family="'Liberation Sans', sans-serif" fill="#111" style="stroke:#111;stroke-width:0.22px" transform="translate(152.80,434.68) rotate(-90) scale(0.72,1) translate(0,2.2)">20</text>
<text x="0" y="0" font-size="6.3" text-anchor="middle" font-family="'Liberation Sans', sans-serif" fill="#111" style="stroke:#111;stroke-width:0.22px" transform="translate(152.80,421.97) rotate(-90) scale(0.72,1) translate(0,2.2)">40</text>
<text x="0" y="0" font-size="6.3" text-anchor="middle" font-family="'Liberation Sans', sans-serif" fill="#111" style="stroke:#111;stroke-width:0.22px" transform="translate(152.80,409.25) rotate(-90) scale(0.72,1) translate(0,2.2)">60</text>
<text x="0" y="0" font-size="6.3" text-anchor="middle" font-family="'Liberation Sans', sans-serif" fill="#111" style="stroke:#111;stroke-width:0.22px" transform="translate(152.80,396.53) rotate(-90) scale(0.72,1) translate(0,2.2)">80</text>
<text x="0" y="0" font-size="6.3" text-anchor="middle" font-family="'Liberation Sans', sans-serif" fill="#111" style="stroke:#111;stroke-width:0.22px" transform="translate(152.80,383.82) rotate(-90) scale(0.72,1) translate(0,2.2)">100</text>
<text x="0" y="0" font-size="6.3" text-anchor="middle" font-family="'Liberation Sans', sans-serif" fill="#111" style="stroke:#111;stroke-width:0.22px" transform="translate(152.80,371.10) rotate(-90) scale(0.72,1) translate(0,2.2)">120</text>
<line x1="162.00" y1="447.40" x2="162.00" y2="449.80" stroke="#333" stroke-width="0.8"/>
<line x1="165.80" y1="447.40" x2="165.80" y2="448.80" stroke="#333" stroke-width="0.8"/>
<line x1="169.59" y1="447.40" x2="169.59" y2="448.80" stroke="#333" stroke-width="0.8"/>
<line x1="173.39" y1="447.40" x2="173.39" y2="448.80" stroke="#333" stroke-width="0.8"/>
<line x1="177.18" y1="447.40" x2="177.18" y2="448.80" stroke="#333" stroke-width="0.8"/>
<line x1="180.98" y1="447.40" x2="180.98" y2="449.80" stroke="#333" stroke-width="0.8"/>
<line x1="184.78" y1="447.40" x2="184.78" y2="448.80" stroke="#333" stroke-width="0.8"/>
<line x1="188.57" y1="447.40" x2="188.57" y2="448.80" stroke="#333" stroke-width="0.8"/>
<line x1="192.37" y1="447.40" x2="192.37" y2="448.80" stroke="#333" stroke-width="0.8"/>
<line x1="196.16" y1="447.40" x2="196.16" y2="448.80" stroke="#333" stroke-width="0.8"/>
<line x1="199.96" y1="447.40" x2="199.96" y2="449.80" stroke="#333" stroke-width="0.8"/>
<line x1="203.76" y1="447.40" x2="203.76" y2="448.80" stroke="#333" stroke-width="0.8"/>
<line x1="207.55" y1="447.40" x2="207.55" y2="448.80" stroke="#333" stroke-width="0.8"/>
<line x1="211.35" y1="447.40" x2="211.35" y2="448.80" stroke="#333" stroke-width="0.8"/>
<line x1="215.14" y1="447.40" x2="215.14" y2="448.80" stroke="#333" stroke-width="0.8"/>
<line x1="218.94" y1="447.40" x2="218.94" y2="449.80" stroke="#333" stroke-width="0.8"/>
<line x1="222.74" y1="447.40" x2="222.74" y2="448.80" stroke="#333" stroke-width="0.8"/>
<line x1="226.53" y1="447.40" x2="226.53" y2="448.80" stroke="#333" stroke-width="0.8"/>
<line x1="230.33" y1="447.40" x2="230.33" y2="448.80" stroke="#333" stroke-width="0.8"/>
<line x1="234.12" y1="447.40" x2="234.12" y2="448.80" stroke="#333" stroke-width="0.8"/>
<line x1="237.92" y1="447.40" x2="237.92" y2="449.80" stroke="#333" stroke-width="0.8"/>
<line x1="241.72" y1="447.40" x2="241.72" y2="448.80" stroke="#333" stroke-width="0.8"/>
<line x1="245.51" y1="447.40" x2="245.51" y2="448.80" stroke="#333" stroke-width="0.8"/>
<line x1="249.31" y1="447.40" x2="249.31" y2="448.80" stroke="#333" stroke-width="0.8"/>
<line x1="253.10" y1="447.40" x2="253.10" y2="448.80" stroke="#333" stroke-width="0.8"/>
<line x1="256.90" y1="447.40" x2="256.90" y2="449.80" stroke="#333" stroke-width="0.8"/>
<text x="162.00" y="456.00" font-size="6.1" text-anchor="middle" font-weight="normal" font-family="'Liberation Sans', sans-serif" fill="#111" style="stroke:#111;stroke-width:0.3px">0</text>
<text x="180.98" y="456.00" font-size="6.1" text-anchor="middle" font-weight="normal" font-family="'Liberation Sans', sans-serif" fill="#111" style="stroke:#111;stroke-width:0.3px">200</text>
<text x="199.96" y="456.00" font-size="6.1" text-anchor="middle" font-weight="normal" font-family="'Liberation Sans', sans-serif" fill="#111" style="stroke:#111;stroke-width:0.3px">400</text>
<text x="218.94" y="456.00" font-size="6.1" text-anchor="middle" font-weight="normal" font-family="'Liberation Sans', sans-serif" fill="#111" style="stroke:#111;stroke-width:0.3px">600</text>
<text x="237.92" y="456.00" font-size="6.1" text-anchor="middle" font-weight="normal" font-family="'Liberation Sans', sans-serif" fill="#111" style="stroke:#111;stroke-width:0.3px">800</text>
<text x="256.90" y="456.00" font-size="6.1" text-anchor="middle" font-weight="normal" font-family="'Liberation Sans', sans-serif" fill="#111" style="stroke:#111;stroke-width:0.3px">1000</text>
<text x="212.50" y="350.00" font-size="10" text-anchor="middle" font-weight="bold" font-family="'Liberation Serif', serif" fill="#111" style="stroke-width:0.12px">+ VEGF<tspan font-size="8" dy="2.5" font-style="italic" font-weight="normal">165</tspan><tspan dy="-2.5"> 10ng/mL</tspan></text>
<text x="213.70" y="362.50" font-size="10" text-anchor="middle" font-weight="bold" font-family="'Liberation Serif', serif" fill="#111" style="stroke-width:0.12px">+ DMSO</text>
<text x="0" y="0" font-size="10" text-anchor="end" font-family="'Liberation Sans', sans-serif" fill="#2a2a2a" class="nost" transform="translate(255.50,377.60) scale(0.92,1)"><tspan font-family="'Liberation Serif', serif" font-size="10.5">sub</tspan><tspan dx="1.2">G<tspan font-size="7.5" dy="2.4">1</tspan><tspan dy="-2.4">=</tspan></tspan>2,1%</text>
<text x="0" y="0" font-size="10" text-anchor="end" font-family="'Liberation Sans', sans-serif" fill="#2a2a2a" class="nost" transform="translate(255.50,388.00) scale(0.92,1)">G<tspan font-size="7.5" dy="2.4">1</tspan><tspan dy="-2.4">=</tspan>50,2%</text>
<text x="0" y="0" font-size="10" text-anchor="end" font-family="'Liberation Sans', sans-serif" fill="#2a2a2a" class="nost" transform="translate(255.50,398.40) scale(0.92,1)">S=32,1%</text>
<text x="0" y="0" font-size="10" text-anchor="end" font-family="'Liberation Sans', sans-serif" fill="#2a2a2a" class="nost" transform="translate(255.50,408.80) scale(0.92,1)">G<tspan font-size="7.5" dy="2.4">2</tspan><tspan dy="-2.4">/M=</tspan>15,6%</text>
<polygon points="271.60,448.70 271.60,446.53 271.98,445.84 272.36,445.85 272.73,445.57 273.11,446.62 273.49,446.54 273.87,446.67 274.25,446.53 274.63,445.71 275.01,446.66 275.38,446.01 275.76,446.51 276.14,446.37 276.52,446.14 276.90,445.48 277.28,445.84 277.65,446.78 278.03,446.35 278.41,446.55 278.79,445.38 279.17,445.47 279.55,445.46 279.92,445.42 280.30,445.54 280.68,445.21 281.06,445.44 281.44,446.29 281.82,445.34 282.19,445.91 282.57,445.47 282.95,445.76 283.33,445.97 283.71,446.06 284.09,445.95 284.47,446.12 284.84,446.06 285.22,443.98 285.60,443.05 285.98,442.26 286.36,439.53 286.74,440.81 287.11,440.43 287.49,439.58 287.87,438.25 288.25,438.24 288.63,437.31 289.01,436.76 289.38,437.31 289.76,436.26 290.14,436.99 290.52,435.33 290.90,437.52 291.28,438.96 291.65,437.95 292.03,438.15 292.41,438.16 292.79,435.11 293.17,438.74 293.55,439.46 293.93,438.96 294.30,439.59 294.68,439.93 295.06,440.52 295.44,440.90 295.82,441.28 296.20,440.80 296.57,441.94 296.95,441.75 297.33,440.28 297.71,442.48 298.09,442.99 298.47,442.55 298.84,443.15 299.22,442.39 299.60,442.39 299.98,442.17 300.36,443.21 300.74,441.83 301.11,442.90 301.49,441.98 301.87,442.43 302.25,443.00 302.63,443.09 303.01,443.38 303.39,443.33 303.76,440.91 304.14,443.21 304.52,442.66 304.90,443.11 305.28,443.38 305.66,443.44 306.03,443.30 306.41,442.79 306.79,443.12 307.17,442.32 307.55,441.90 307.93,437.15 308.30,432.23 308.68,427.24 309.06,422.85 309.44,416.52 309.82,408.54 310.20,400.07 310.43,394.94 310.57,398.22 310.95,406.32 311.33,414.92 311.71,421.95 312.09,427.39 312.47,433.22 312.85,438.95 313.22,442.12 313.60,441.41 313.98,442.33 314.36,442.37 314.74,441.72 315.12,443.09 315.49,440.62 315.87,441.98 316.25,442.11 316.63,442.45 317.01,442.33 317.39,441.65 317.76,441.96 318.14,443.16 318.52,442.85 318.90,443.25 319.28,442.20 319.66,442.38 320.03,443.11 320.41,442.59 320.79,443.43 321.17,442.44 321.55,443.61 321.93,443.19 322.31,441.49 322.68,442.61 323.06,443.57 323.44,443.31 323.82,442.80 324.20,442.98 324.58,443.53 324.95,444.21 325.33,444.05 325.71,443.17 326.09,442.88 326.47,443.25 326.85,442.74 327.22,442.21 327.60,440.11 327.98,437.90 328.36,439.22 328.74,434.92 329.12,437.30 329.49,436.91 329.87,436.53 330.25,436.44 330.63,437.28 331.01,433.97 331.39,436.74 331.77,436.58 332.14,437.32 332.52,437.24 332.90,437.49 333.28,437.55 333.66,437.83 334.04,437.02 334.41,436.16 334.79,438.04 335.17,437.55 335.55,438.20 335.93,438.13 336.31,439.01 336.68,439.01 337.06,438.81 337.44,438.98 337.82,438.87 338.20,437.41 338.58,437.83 338.95,439.09 339.33,439.44 339.71,439.41 340.09,438.61 340.47,438.49 340.85,438.46 341.23,438.24 341.60,439.55 341.98,438.83 342.36,438.44 342.74,438.59 343.12,439.08 343.50,439.33 343.87,438.92 344.25,439.39 344.63,439.71 345.01,439.64 345.39,438.92 345.77,439.81 346.14,440.06 346.52,442.22 346.90,442.11 347.28,442.53 347.66,443.78 348.04,444.94 348.41,443.68 348.79,445.05 349.17,445.12 349.55,444.10 349.93,444.16 350.31,444.84 350.69,444.98 351.06,445.52 351.44,445.83 351.82,445.09 352.20,445.63 352.58,445.86 352.96,444.75 353.33,446.26 353.71,445.80 354.09,445.27 354.47,445.37 354.85,446.48 355.23,445.56 355.60,445.94 355.98,445.92 356.36,445.45 356.74,445.69 357.12,446.03 357.50,445.77 357.87,446.23 358.25,446.15 358.63,445.75 359.01,446.08 359.39,446.48 359.77,447.07 360.15,445.86 360.52,446.59 360.90,446.46 361.28,446.71 361.66,446.30 362.04,446.56 362.42,445.88 362.79,446.28 363.17,446.36 363.55,446.01 363.93,446.58 364.31,446.44 364.69,446.12 365.06,446.18 365.44,446.16 365.82,445.94 366.20,446.49 366.58,446.51 366.96,447.11 367.33,447.04 367.71,446.75 368.09,446.67 368.47,446.04 368.85,447.43 369.23,446.95 369.61,446.34 369.98,446.81 370.36,446.20 369.70,448.06 370.10,446.14 370.70,446.14 370.70,448.70" fill="#000" stroke="#000" stroke-width="0.4" stroke-linejoin="bevel"/>
<rect x="271.10" y="369.10" width="100.20" height="79.60" fill="none" stroke="#222" stroke-width="1" />
<line x1="268.70" y1="448.70" x2="271.10" y2="448.70" stroke="#333" stroke-width="0.8"/>
<line x1="269.70" y1="446.14" x2="271.10" y2="446.14" stroke="#333" stroke-width="0.8"/>
<line x1="269.70" y1="443.58" x2="271.10" y2="443.58" stroke="#333" stroke-width="0.8"/>
<line x1="269.70" y1="441.02" x2="271.10" y2="441.02" stroke="#333" stroke-width="0.8"/>
<line x1="269.70" y1="438.46" x2="271.10" y2="438.46" stroke="#333" stroke-width="0.8"/>
<line x1="268.70" y1="435.90" x2="271.10" y2="435.90" stroke="#333" stroke-width="0.8"/>
<line x1="269.70" y1="433.34" x2="271.10" y2="433.34" stroke="#333" stroke-width="0.8"/>
<line x1="269.70" y1="430.78" x2="271.10" y2="430.78" stroke="#333" stroke-width="0.8"/>
<line x1="269.70" y1="428.22" x2="271.10" y2="428.22" stroke="#333" stroke-width="0.8"/>
<line x1="269.70" y1="425.66" x2="271.10" y2="425.66" stroke="#333" stroke-width="0.8"/>
<line x1="268.70" y1="423.10" x2="271.10" y2="423.10" stroke="#333" stroke-width="0.8"/>
<line x1="269.70" y1="420.54" x2="271.10" y2="420.54" stroke="#333" stroke-width="0.8"/>
<line x1="269.70" y1="417.98" x2="271.10" y2="417.98" stroke="#333" stroke-width="0.8"/>
<line x1="269.70" y1="415.42" x2="271.10" y2="415.42" stroke="#333" stroke-width="0.8"/>
<line x1="269.70" y1="412.86" x2="271.10" y2="412.86" stroke="#333" stroke-width="0.8"/>
<line x1="268.70" y1="410.30" x2="271.10" y2="410.30" stroke="#333" stroke-width="0.8"/>
<line x1="269.70" y1="407.74" x2="271.10" y2="407.74" stroke="#333" stroke-width="0.8"/>
<line x1="269.70" y1="405.18" x2="271.10" y2="405.18" stroke="#333" stroke-width="0.8"/>
<line x1="269.70" y1="402.62" x2="271.10" y2="402.62" stroke="#333" stroke-width="0.8"/>
<line x1="269.70" y1="400.06" x2="271.10" y2="400.06" stroke="#333" stroke-width="0.8"/>
<line x1="268.70" y1="397.50" x2="271.10" y2="397.50" stroke="#333" stroke-width="0.8"/>
<line x1="269.70" y1="394.94" x2="271.10" y2="394.94" stroke="#333" stroke-width="0.8"/>
<line x1="269.70" y1="392.38" x2="271.10" y2="392.38" stroke="#333" stroke-width="0.8"/>
<line x1="269.70" y1="389.82" x2="271.10" y2="389.82" stroke="#333" stroke-width="0.8"/>
<line x1="269.70" y1="387.26" x2="271.10" y2="387.26" stroke="#333" stroke-width="0.8"/>
<line x1="268.70" y1="384.70" x2="271.10" y2="384.70" stroke="#333" stroke-width="0.8"/>
<line x1="269.70" y1="382.14" x2="271.10" y2="382.14" stroke="#333" stroke-width="0.8"/>
<line x1="269.70" y1="379.58" x2="271.10" y2="379.58" stroke="#333" stroke-width="0.8"/>
<line x1="269.70" y1="377.02" x2="271.10" y2="377.02" stroke="#333" stroke-width="0.8"/>
<line x1="269.70" y1="374.46" x2="271.10" y2="374.46" stroke="#333" stroke-width="0.8"/>
<line x1="268.70" y1="371.90" x2="271.10" y2="371.90" stroke="#333" stroke-width="0.8"/>
<line x1="272.40" y1="448.70" x2="272.40" y2="451.10" stroke="#333" stroke-width="0.8"/>
<line x1="276.18" y1="448.70" x2="276.18" y2="450.10" stroke="#333" stroke-width="0.8"/>
<line x1="279.97" y1="448.70" x2="279.97" y2="450.10" stroke="#333" stroke-width="0.8"/>
<line x1="283.75" y1="448.70" x2="283.75" y2="450.10" stroke="#333" stroke-width="0.8"/>
<line x1="287.54" y1="448.70" x2="287.54" y2="450.10" stroke="#333" stroke-width="0.8"/>
<line x1="291.32" y1="448.70" x2="291.32" y2="451.10" stroke="#333" stroke-width="0.8"/>
<line x1="295.10" y1="448.70" x2="295.10" y2="450.10" stroke="#333" stroke-width="0.8"/>
<line x1="298.89" y1="448.70" x2="298.89" y2="450.10" stroke="#333" stroke-width="0.8"/>
<line x1="302.67" y1="448.70" x2="302.67" y2="450.10" stroke="#333" stroke-width="0.8"/>
<line x1="306.46" y1="448.70" x2="306.46" y2="450.10" stroke="#333" stroke-width="0.8"/>
<line x1="310.24" y1="448.70" x2="310.24" y2="451.10" stroke="#333" stroke-width="0.8"/>
<line x1="314.02" y1="448.70" x2="314.02" y2="450.10" stroke="#333" stroke-width="0.8"/>
<line x1="317.81" y1="448.70" x2="317.81" y2="450.10" stroke="#333" stroke-width="0.8"/>
<line x1="321.59" y1="448.70" x2="321.59" y2="450.10" stroke="#333" stroke-width="0.8"/>
<line x1="325.38" y1="448.70" x2="325.38" y2="450.10" stroke="#333" stroke-width="0.8"/>
<line x1="329.16" y1="448.70" x2="329.16" y2="451.10" stroke="#333" stroke-width="0.8"/>
<line x1="332.94" y1="448.70" x2="332.94" y2="450.10" stroke="#333" stroke-width="0.8"/>
<line x1="336.73" y1="448.70" x2="336.73" y2="450.10" stroke="#333" stroke-width="0.8"/>
<line x1="340.51" y1="448.70" x2="340.51" y2="450.10" stroke="#333" stroke-width="0.8"/>
<line x1="344.30" y1="448.70" x2="344.30" y2="450.10" stroke="#333" stroke-width="0.8"/>
<line x1="348.08" y1="448.70" x2="348.08" y2="451.10" stroke="#333" stroke-width="0.8"/>
<line x1="351.86" y1="448.70" x2="351.86" y2="450.10" stroke="#333" stroke-width="0.8"/>
<line x1="355.65" y1="448.70" x2="355.65" y2="450.10" stroke="#333" stroke-width="0.8"/>
<line x1="359.43" y1="448.70" x2="359.43" y2="450.10" stroke="#333" stroke-width="0.8"/>
<line x1="363.22" y1="448.70" x2="363.22" y2="450.10" stroke="#333" stroke-width="0.8"/>
<line x1="367.00" y1="448.70" x2="367.00" y2="451.10" stroke="#333" stroke-width="0.8"/>
<line x1="370.78" y1="448.70" x2="370.78" y2="450.10" stroke="#333" stroke-width="0.8"/>
<text x="272.40" y="457.30" font-size="6.1" text-anchor="middle" font-weight="normal" font-family="'Liberation Sans', sans-serif" fill="#111" style="stroke:#111;stroke-width:0.3px">0</text>
<text x="291.32" y="457.30" font-size="6.1" text-anchor="middle" font-weight="normal" font-family="'Liberation Sans', sans-serif" fill="#111" style="stroke:#111;stroke-width:0.3px">200</text>
<text x="310.24" y="457.30" font-size="6.1" text-anchor="middle" font-weight="normal" font-family="'Liberation Sans', sans-serif" fill="#111" style="stroke:#111;stroke-width:0.3px">400</text>
<text x="329.16" y="457.30" font-size="6.1" text-anchor="middle" font-weight="normal" font-family="'Liberation Sans', sans-serif" fill="#111" style="stroke:#111;stroke-width:0.3px">600</text>
<text x="348.08" y="457.30" font-size="6.1" text-anchor="middle" font-weight="normal" font-family="'Liberation Sans', sans-serif" fill="#111" style="stroke:#111;stroke-width:0.3px">800</text>
<text x="367.00" y="457.30" font-size="6.1" text-anchor="middle" font-weight="normal" font-family="'Liberation Sans', sans-serif" fill="#111" style="stroke:#111;stroke-width:0.3px">1000</text>
<text x="321.00" y="350.50" font-size="10" text-anchor="middle" font-weight="bold" font-family="'Liberation Serif', serif" fill="#111" style="stroke-width:0.12px">VEGF<tspan font-size="8" dy="2.5" font-style="italic" font-weight="normal">165</tspan><tspan dy="-2.5"> 10ng/mL</tspan></text>
<text x="319.50" y="363.00" font-size="10" text-anchor="middle" font-weight="bold" font-family="'Liberation Serif', serif" fill="#111" style="stroke-width:0.12px">+ dasatinib 50nM</text>
<text x="0" y="0" font-size="10" text-anchor="end" font-family="'Liberation Sans', sans-serif" fill="#2a2a2a" class="nost" transform="translate(367.40,378.40) scale(0.92,1)"><tspan font-family="'Liberation Serif', serif" font-size="10.5">sub</tspan><tspan dx="1.2">G<tspan font-size="7.5" dy="2.4">1</tspan><tspan dy="-2.4">=</tspan></tspan>10,6%</text>
<text x="0" y="0" font-size="10" text-anchor="end" font-family="'Liberation Sans', sans-serif" fill="#2a2a2a" class="nost" transform="translate(367.40,388.80) scale(0.92,1)">G<tspan font-size="7.5" dy="2.4">1</tspan><tspan dy="-2.4">=</tspan>54,1%</text>
<text x="0" y="0" font-size="10" text-anchor="end" font-family="'Liberation Sans', sans-serif" fill="#2a2a2a" class="nost" transform="translate(367.40,399.20) scale(0.92,1)">S=23,5%</text>
<text x="0" y="0" font-size="10" text-anchor="end" font-family="'Liberation Sans', sans-serif" fill="#2a2a2a" class="nost" transform="translate(367.40,409.60) scale(0.92,1)">G<tspan font-size="7.5" dy="2.4">2</tspan><tspan dy="-2.4">/M=</tspan>11,8%</text>
<polygon points="381.75,448.30 381.75,438.98 382.13,438.11 382.51,438.76 382.89,438.16 383.27,439.00 383.65,438.99 384.03,439.58 384.42,438.46 384.80,439.64 385.18,438.13 385.56,439.21 385.94,442.89 386.32,443.19 386.70,441.76 387.08,441.74 387.46,442.35 387.84,441.03 388.22,442.12 388.60,441.92 388.98,443.02 389.37,442.98 389.75,440.87 390.13,443.18 390.51,443.28 390.89,443.14 391.27,443.18 391.65,442.23 392.03,442.60 392.41,442.63 392.79,443.17 393.17,442.95 393.55,441.53 393.94,442.20 394.32,443.30 394.70,441.81 395.08,442.77 395.46,441.82 395.84,441.57 396.22,442.57 396.60,442.07 396.98,441.75 397.36,442.87 397.74,442.75 398.12,442.87 398.50,442.96 398.89,442.90 399.27,442.36 399.65,442.86 400.03,442.74 400.41,442.37 400.79,442.11 401.17,441.98 401.55,442.29 401.93,440.59 402.31,439.51 402.69,437.59 403.07,436.01 403.46,436.81 403.84,437.04 404.22,434.85 404.60,436.19 404.98,436.14 405.36,436.19 405.74,434.78 406.12,436.07 406.50,435.82 406.88,435.44 407.26,434.47 407.64,433.76 408.02,432.10 408.41,434.30 408.79,432.97 409.17,434.35 409.55,433.13 409.93,434.67 410.31,434.33 410.69,433.79 411.07,430.08 411.45,433.29 411.83,432.72 412.21,434.69 412.59,435.29 412.98,434.78 413.36,435.48 413.74,436.80 414.12,436.66 414.50,435.78 414.88,436.13 415.26,437.02 415.64,435.94 416.02,436.68 416.40,437.53 416.78,438.28 417.16,438.86 417.54,439.91 417.93,438.79 418.31,438.52 418.69,437.13 419.07,434.55 419.45,436.89 419.83,435.38 420.21,436.25 420.59,432.83 420.97,427.00 421.35,419.26 421.73,412.45 422.11,405.08 422.38,400.18 422.50,402.61 422.88,411.10 423.26,419.83 423.64,427.37 424.02,430.43 424.40,434.85 424.78,437.74 425.16,441.59 425.54,442.20 425.92,442.73 426.30,441.92 426.68,443.53 427.06,443.41 427.45,442.17 427.83,442.98 428.21,443.40 428.59,443.28 428.97,443.81 429.35,442.98 429.73,444.34 430.11,443.45 430.49,444.81 430.87,444.14 431.25,444.96 431.63,444.96 432.02,444.31 432.40,443.80 432.78,444.76 433.16,444.61 433.54,444.49 433.92,444.28 434.30,444.69 434.68,444.69 435.06,443.88 435.44,444.36 435.82,444.69 436.20,443.94 436.58,443.65 436.97,444.56 437.35,445.23 437.73,444.76 438.11,443.81 438.49,444.98 438.87,444.93 439.25,443.98 439.63,445.07 440.01,443.89 440.39,444.89 440.77,444.63 441.15,444.30 441.54,445.07 441.92,444.01 442.30,444.55 442.68,444.02 443.06,444.03 443.44,445.13 443.82,443.93 444.20,443.94 444.58,444.86 444.96,444.29 445.34,444.61 445.72,443.78 446.10,443.14 446.49,443.44 446.87,441.27 447.25,442.44 447.63,443.02 448.01,442.71 448.39,442.18 448.77,442.08 449.15,441.30 449.53,442.01 449.91,440.60 450.29,440.77 450.67,441.82 451.06,440.75 451.44,440.28 451.82,441.51 452.20,440.88 452.58,441.26 452.96,441.09 453.34,442.33 453.72,441.98 454.10,441.73 454.48,442.20 454.86,442.89 455.24,444.83 455.62,444.24 456.01,445.04 456.39,444.81 456.77,445.46 457.15,445.57 457.53,445.51 457.91,445.73 458.29,444.48 458.67,445.85 459.05,445.67 459.43,445.06 459.81,445.77 460.19,445.78 460.58,445.73 460.96,445.78 461.34,446.16 461.72,445.01 462.10,445.16 462.48,445.73 462.86,444.81 463.24,445.37 463.62,445.94 464.00,444.76 464.38,445.96 464.76,445.05 465.14,445.06 465.53,446.38 465.91,445.04 466.29,445.75 466.67,445.64 467.05,444.94 467.43,445.75 467.81,446.11 468.19,446.44 468.57,445.12 468.95,445.83 469.33,445.43 469.71,445.57 470.10,445.04 470.48,445.13 470.86,445.15 471.24,445.86 471.62,445.23 472.00,446.22 472.38,446.53 472.76,445.72 473.14,446.72 473.52,445.22 473.90,446.28 474.28,446.14 474.66,446.37 475.05,446.34 475.43,446.02 475.81,445.61 476.19,446.89 476.57,446.39 476.95,446.56 477.33,445.44 477.71,446.29 478.09,446.30 478.47,445.53 478.85,446.43 479.23,446.45 479.62,446.45 480.00,446.73 480.38,446.00 480.76,446.68 479.80,447.66 480.20,446.38 480.80,446.38 480.80,448.30" fill="#000" stroke="#000" stroke-width="0.4" stroke-linejoin="bevel"/>
<rect x="381.25" y="368.50" width="100.15" height="79.80" fill="none" stroke="#222" stroke-width="1" />
<line x1="378.85" y1="448.30" x2="381.25" y2="448.30" stroke="#333" stroke-width="0.8"/>
<line x1="379.85" y1="445.73" x2="381.25" y2="445.73" stroke="#333" stroke-width="0.8"/>
<line x1="379.85" y1="443.17" x2="381.25" y2="443.17" stroke="#333" stroke-width="0.8"/>
<line x1="379.85" y1="440.60" x2="381.25" y2="440.60" stroke="#333" stroke-width="0.8"/>
<line x1="379.85" y1="438.03" x2="381.25" y2="438.03" stroke="#333" stroke-width="0.8"/>
<line x1="378.85" y1="435.47" x2="381.25" y2="435.47" stroke="#333" stroke-width="0.8"/>
<line x1="379.85" y1="432.90" x2="381.25" y2="432.90" stroke="#333" stroke-width="0.8"/>
<line x1="379.85" y1="430.33" x2="381.25" y2="430.33" stroke="#333" stroke-width="0.8"/>
<line x1="379.85" y1="427.77" x2="381.25" y2="427.77" stroke="#333" stroke-width="0.8"/>
<line x1="379.85" y1="425.20" x2="381.25" y2="425.20" stroke="#333" stroke-width="0.8"/>
<line x1="378.85" y1="422.63" x2="381.25" y2="422.63" stroke="#333" stroke-width="0.8"/>
<line x1="379.85" y1="420.07" x2="381.25" y2="420.07" stroke="#333" stroke-width="0.8"/>
<line x1="379.85" y1="417.50" x2="381.25" y2="417.50" stroke="#333" stroke-width="0.8"/>
<line x1="379.85" y1="414.93" x2="381.25" y2="414.93" stroke="#333" stroke-width="0.8"/>
<line x1="379.85" y1="412.37" x2="381.25" y2="412.37" stroke="#333" stroke-width="0.8"/>
<line x1="378.85" y1="409.80" x2="381.25" y2="409.80" stroke="#333" stroke-width="0.8"/>
<line x1="379.85" y1="407.23" x2="381.25" y2="407.23" stroke="#333" stroke-width="0.8"/>
<line x1="379.85" y1="404.67" x2="381.25" y2="404.67" stroke="#333" stroke-width="0.8"/>
<line x1="379.85" y1="402.10" x2="381.25" y2="402.10" stroke="#333" stroke-width="0.8"/>
<line x1="379.85" y1="399.53" x2="381.25" y2="399.53" stroke="#333" stroke-width="0.8"/>
<line x1="378.85" y1="396.97" x2="381.25" y2="396.97" stroke="#333" stroke-width="0.8"/>
<line x1="379.85" y1="394.40" x2="381.25" y2="394.40" stroke="#333" stroke-width="0.8"/>
<line x1="379.85" y1="391.83" x2="381.25" y2="391.83" stroke="#333" stroke-width="0.8"/>
<line x1="379.85" y1="389.27" x2="381.25" y2="389.27" stroke="#333" stroke-width="0.8"/>
<line x1="379.85" y1="386.70" x2="381.25" y2="386.70" stroke="#333" stroke-width="0.8"/>
<line x1="378.85" y1="384.13" x2="381.25" y2="384.13" stroke="#333" stroke-width="0.8"/>
<line x1="379.85" y1="381.57" x2="381.25" y2="381.57" stroke="#333" stroke-width="0.8"/>
<line x1="379.85" y1="379.00" x2="381.25" y2="379.00" stroke="#333" stroke-width="0.8"/>
<line x1="379.85" y1="376.43" x2="381.25" y2="376.43" stroke="#333" stroke-width="0.8"/>
<line x1="379.85" y1="373.87" x2="381.25" y2="373.87" stroke="#333" stroke-width="0.8"/>
<line x1="378.85" y1="371.30" x2="381.25" y2="371.30" stroke="#333" stroke-width="0.8"/>
<line x1="382.40" y1="448.30" x2="382.40" y2="450.70" stroke="#333" stroke-width="0.8"/>
<line x1="386.21" y1="448.30" x2="386.21" y2="449.70" stroke="#333" stroke-width="0.8"/>
<line x1="390.02" y1="448.30" x2="390.02" y2="449.70" stroke="#333" stroke-width="0.8"/>
<line x1="393.82" y1="448.30" x2="393.82" y2="449.70" stroke="#333" stroke-width="0.8"/>
<line x1="397.63" y1="448.30" x2="397.63" y2="449.70" stroke="#333" stroke-width="0.8"/>
<line x1="401.44" y1="448.30" x2="401.44" y2="450.70" stroke="#333" stroke-width="0.8"/>
<line x1="405.25" y1="448.30" x2="405.25" y2="449.70" stroke="#333" stroke-width="0.8"/>
<line x1="409.06" y1="448.30" x2="409.06" y2="449.70" stroke="#333" stroke-width="0.8"/>
<line x1="412.86" y1="448.30" x2="412.86" y2="449.70" stroke="#333" stroke-width="0.8"/>
<line x1="416.67" y1="448.30" x2="416.67" y2="449.70" stroke="#333" stroke-width="0.8"/>
<line x1="420.48" y1="448.30" x2="420.48" y2="450.70" stroke="#333" stroke-width="0.8"/>
<line x1="424.29" y1="448.30" x2="424.29" y2="449.70" stroke="#333" stroke-width="0.8"/>
<line x1="428.10" y1="448.30" x2="428.10" y2="449.70" stroke="#333" stroke-width="0.8"/>
<line x1="431.90" y1="448.30" x2="431.90" y2="449.70" stroke="#333" stroke-width="0.8"/>
<line x1="435.71" y1="448.30" x2="435.71" y2="449.70" stroke="#333" stroke-width="0.8"/>
<line x1="439.52" y1="448.30" x2="439.52" y2="450.70" stroke="#333" stroke-width="0.8"/>
<line x1="443.33" y1="448.30" x2="443.33" y2="449.70" stroke="#333" stroke-width="0.8"/>
<line x1="447.14" y1="448.30" x2="447.14" y2="449.70" stroke="#333" stroke-width="0.8"/>
<line x1="450.94" y1="448.30" x2="450.94" y2="449.70" stroke="#333" stroke-width="0.8"/>
<line x1="454.75" y1="448.30" x2="454.75" y2="449.70" stroke="#333" stroke-width="0.8"/>
<line x1="458.56" y1="448.30" x2="458.56" y2="450.70" stroke="#333" stroke-width="0.8"/>
<line x1="462.37" y1="448.30" x2="462.37" y2="449.70" stroke="#333" stroke-width="0.8"/>
<line x1="466.18" y1="448.30" x2="466.18" y2="449.70" stroke="#333" stroke-width="0.8"/>
<line x1="469.98" y1="448.30" x2="469.98" y2="449.70" stroke="#333" stroke-width="0.8"/>
<line x1="473.79" y1="448.30" x2="473.79" y2="449.70" stroke="#333" stroke-width="0.8"/>
<line x1="477.60" y1="448.30" x2="477.60" y2="450.70" stroke="#333" stroke-width="0.8"/>
<text x="382.40" y="456.90" font-size="6.1" text-anchor="middle" font-weight="normal" font-family="'Liberation Sans', sans-serif" fill="#111" style="stroke:#111;stroke-width:0.3px">0</text>
<text x="401.44" y="456.90" font-size="6.1" text-anchor="middle" font-weight="normal" font-family="'Liberation Sans', sans-serif" fill="#111" style="stroke:#111;stroke-width:0.3px">200</text>
<text x="420.48" y="456.90" font-size="6.1" text-anchor="middle" font-weight="normal" font-family="'Liberation Sans', sans-serif" fill="#111" style="stroke:#111;stroke-width:0.3px">400</text>
<text x="439.52" y="456.90" font-size="6.1" text-anchor="middle" font-weight="normal" font-family="'Liberation Sans', sans-serif" fill="#111" style="stroke:#111;stroke-width:0.3px">600</text>
<text x="458.56" y="456.90" font-size="6.1" text-anchor="middle" font-weight="normal" font-family="'Liberation Sans', sans-serif" fill="#111" style="stroke:#111;stroke-width:0.3px">800</text>
<text x="477.60" y="456.90" font-size="6.1" text-anchor="middle" font-weight="normal" font-family="'Liberation Sans', sans-serif" fill="#111" style="stroke:#111;stroke-width:0.3px">1000</text>
<text x="431.80" y="350.50" font-size="10" text-anchor="middle" font-weight="bold" font-family="'Liberation Serif', serif" fill="#111" style="stroke-width:0.12px">VEGF<tspan font-size="8" dy="2.5" font-style="italic" font-weight="normal">165</tspan><tspan dy="-2.5"> 10ng/mL</tspan></text>
<text x="428.70" y="363.00" font-size="10" text-anchor="middle" font-weight="bold" font-family="'Liberation Serif', serif" fill="#111" style="stroke-width:0.12px">+ dasatinib 100nM</text>
<text x="0" y="0" font-size="10" text-anchor="end" font-family="'Liberation Sans', sans-serif" fill="#2a2a2a" class="nost" transform="translate(477.50,377.80) scale(0.92,1)"><tspan font-family="'Liberation Serif', serif" font-size="10.5">sub</tspan><tspan dx="1.2">G<tspan font-size="7.5" dy="2.4">1</tspan><tspan dy="-2.4">=</tspan></tspan>40,2%</text>
<text x="0" y="0" font-size="10" text-anchor="end" font-family="'Liberation Sans', sans-serif" fill="#2a2a2a" class="nost" transform="translate(477.50,388.20) scale(0.92,1)">G<tspan font-size="7.5" dy="2.4">1</tspan><tspan dy="-2.4">=</tspan>42,8%</text>
<text x="0" y="0" font-size="10" text-anchor="end" font-family="'Liberation Sans', sans-serif" fill="#2a2a2a" class="nost" transform="translate(477.50,398.60) scale(0.92,1)">S=10,3%</text>
<text x="0" y="0" font-size="10" text-anchor="end" font-family="'Liberation Sans', sans-serif" fill="#2a2a2a" class="nost" transform="translate(477.50,409.00) scale(0.92,1)">G<tspan font-size="7.5" dy="2.4">2</tspan><tspan dy="-2.4">/M=</tspan>6,7%</text>
<polygon points="161.50,570.20 161.50,568.07 161.88,569.70 162.25,568.50 162.63,569.59 163.00,568.03 163.38,569.70 163.75,568.23 164.13,568.61 164.51,568.27 164.88,568.01 165.26,569.44 165.63,569.25 166.01,568.56 166.38,569.36 166.76,569.39 167.13,569.46 167.51,568.27 167.89,568.24 168.26,568.39 168.64,569.47 169.01,568.15 169.39,568.93 169.76,569.45 170.14,569.03 170.51,569.10 170.89,569.70 171.27,568.83 171.64,569.21 172.02,568.82 172.39,568.14 172.77,568.67 173.14,569.13 173.52,568.26 173.90,568.02 174.27,568.96 174.65,568.11 175.02,569.70 175.40,569.62 175.77,569.56 176.15,568.12 176.52,568.59 176.90,568.53 177.28,569.35 177.65,568.96 178.03,568.22 178.40,569.70 178.78,569.67 179.15,569.70 179.53,569.01 179.90,568.31 180.28,568.84 180.66,569.13 181.03,568.94 181.41,569.55 181.78,568.10 182.16,569.22 182.53,569.44 182.91,569.30 183.29,568.34 183.66,569.29 184.04,568.19 184.41,569.25 184.79,569.06 185.16,569.70 185.54,568.18 185.91,568.39 186.29,568.99 186.67,569.67 187.04,568.96 187.42,569.18 187.79,568.31 188.17,568.14 188.54,568.49 188.92,569.35 189.29,569.70 189.67,568.21 190.05,568.11 190.42,569.59 190.80,568.95 191.17,568.98 191.55,568.05 191.92,569.70 192.30,569.70 192.68,568.30 193.05,568.76 193.43,568.42 193.80,567.29 194.18,567.10 194.55,565.97 194.93,565.56 195.30,564.21 195.68,561.27 196.06,561.07 196.43,560.60 196.81,558.46 197.18,554.17 197.56,556.88 197.93,551.59 198.31,543.25 198.68,544.50 199.06,540.57 199.44,536.44 199.81,530.32 200.19,523.99 200.56,517.93 200.62,516.93 200.94,525.45 201.31,534.81 201.69,542.07 202.07,547.94 202.44,552.02 202.82,552.90 203.19,551.51 203.57,552.03 203.94,552.44 204.32,552.56 204.69,553.23 205.07,552.89 205.45,551.54 205.82,551.97 206.20,551.59 206.57,552.79 206.95,550.32 207.32,550.26 207.70,549.61 208.07,554.28 208.45,555.45 208.83,557.08 209.20,558.21 209.58,557.33 209.95,558.50 210.33,558.35 210.70,557.29 211.08,557.83 211.46,554.75 211.83,558.83 212.21,558.20 212.58,558.34 212.96,558.15 213.33,558.25 213.71,558.07 214.08,558.44 214.46,553.52 214.84,555.58 215.21,559.07 215.59,557.57 215.96,556.79 216.34,558.67 216.71,558.86 217.09,558.88 217.46,554.44 217.84,558.89 218.22,557.96 218.59,557.99 218.97,558.37 219.34,558.46 219.72,554.83 220.09,555.12 220.47,554.07 220.85,555.62 221.22,554.71 221.60,554.64 221.97,557.13 222.35,557.41 222.72,557.99 223.10,557.17 223.47,557.71 223.85,557.74 224.23,556.76 224.60,557.69 224.98,556.35 225.35,556.24 225.73,557.57 226.10,557.47 226.48,557.66 226.85,555.25 227.23,557.12 227.61,553.30 227.98,553.13 228.36,555.97 228.73,555.91 229.11,555.27 229.48,555.15 229.86,550.87 230.24,555.58 230.61,555.02 230.99,554.41 231.36,554.68 231.74,553.81 232.11,549.80 232.49,552.89 232.86,553.12 233.24,554.48 233.62,551.27 233.99,555.77 234.37,555.35 234.74,554.74 235.12,555.54 235.49,557.71 235.87,558.03 236.24,561.39 236.62,563.00 237.00,563.45 237.37,564.33 237.75,565.36 238.12,566.26 238.50,567.23 238.87,567.01 239.25,566.91 239.63,567.15 240.00,567.44 240.38,567.79 240.75,568.36 241.13,568.87 241.50,569.66 241.88,568.39 242.25,569.54 242.63,568.14 243.01,568.27 243.38,569.35 243.76,568.18 244.13,568.47 244.51,568.36 244.88,569.68 245.26,569.38 245.63,569.60 246.01,568.12 246.39,569.43 246.76,569.05 247.14,568.47 247.51,569.14 247.89,568.70 248.26,568.71 248.64,569.17 249.02,568.14 249.39,568.63 249.77,568.50 250.14,568.51 250.52,568.72 250.89,569.57 251.27,568.17 251.64,568.11 252.02,569.69 252.40,569.20 252.77,569.53 253.15,569.64 253.52,568.80 253.90,569.07 254.27,569.64 254.65,568.98 255.02,568.58 255.40,569.63 255.78,568.67 256.15,568.65 256.53,568.32 256.90,568.01 257.28,568.23 257.65,569.18 258.03,569.70 258.41,569.26 258.78,569.57 259.16,568.28 259.53,569.20 258.90,569.57 259.30,568.32 259.90,568.32 259.90,570.20" fill="#000" stroke="#000" stroke-width="0.4" stroke-linejoin="bevel"/>
<rect x="161.00" y="492.20" width="99.50" height="78.00" fill="none" stroke="#222" stroke-width="1" />
<line x1="158.60" y1="570.20" x2="161.00" y2="570.20" stroke="#333" stroke-width="0.8"/>
<line x1="159.60" y1="567.69" x2="161.00" y2="567.69" stroke="#333" stroke-width="0.8"/>
<line x1="159.60" y1="565.19" x2="161.00" y2="565.19" stroke="#333" stroke-width="0.8"/>
<line x1="159.60" y1="562.68" x2="161.00" y2="562.68" stroke="#333" stroke-width="0.8"/>
<line x1="159.60" y1="560.17" x2="161.00" y2="560.17" stroke="#333" stroke-width="0.8"/>
<line x1="158.60" y1="557.67" x2="161.00" y2="557.67" stroke="#333" stroke-width="0.8"/>
<line x1="159.60" y1="555.16" x2="161.00" y2="555.16" stroke="#333" stroke-width="0.8"/>
<line x1="159.60" y1="552.65" x2="161.00" y2="552.65" stroke="#333" stroke-width="0.8"/>
<line x1="159.60" y1="550.15" x2="161.00" y2="550.15" stroke="#333" stroke-width="0.8"/>
<line x1="159.60" y1="547.64" x2="161.00" y2="547.64" stroke="#333" stroke-width="0.8"/>
<line x1="158.60" y1="545.13" x2="161.00" y2="545.13" stroke="#333" stroke-width="0.8"/>
<line x1="159.60" y1="542.63" x2="161.00" y2="542.63" stroke="#333" stroke-width="0.8"/>
<line x1="159.60" y1="540.12" x2="161.00" y2="540.12" stroke="#333" stroke-width="0.8"/>
<line x1="159.60" y1="537.61" x2="161.00" y2="537.61" stroke="#333" stroke-width="0.8"/>
<line x1="159.60" y1="535.11" x2="161.00" y2="535.11" stroke="#333" stroke-width="0.8"/>
<line x1="158.60" y1="532.60" x2="161.00" y2="532.60" stroke="#333" stroke-width="0.8"/>
<line x1="159.60" y1="530.09" x2="161.00" y2="530.09" stroke="#333" stroke-width="0.8"/>
<line x1="159.60" y1="527.59" x2="161.00" y2="527.59" stroke="#333" stroke-width="0.8"/>
<line x1="159.60" y1="525.08" x2="161.00" y2="525.08" stroke="#333" stroke-width="0.8"/>
<line x1="159.60" y1="522.57" x2="161.00" y2="522.57" stroke="#333" stroke-width="0.8"/>
<line x1="158.60" y1="520.07" x2="161.00" y2="520.07" stroke="#333" stroke-width="0.8"/>
<line x1="159.60" y1="517.56" x2="161.00" y2="517.56" stroke="#333" stroke-width="0.8"/>
<line x1="159.60" y1="515.05" x2="161.00" y2="515.05" stroke="#333" stroke-width="0.8"/>
<line x1="159.60" y1="512.55" x2="161.00" y2="512.55" stroke="#333" stroke-width="0.8"/>
<line x1="159.60" y1="510.04" x2="161.00" y2="510.04" stroke="#333" stroke-width="0.8"/>
<line x1="158.60" y1="507.53" x2="161.00" y2="507.53" stroke="#333" stroke-width="0.8"/>
<line x1="159.60" y1="505.03" x2="161.00" y2="505.03" stroke="#333" stroke-width="0.8"/>
<line x1="159.60" y1="502.52" x2="161.00" y2="502.52" stroke="#333" stroke-width="0.8"/>
<line x1="159.60" y1="500.01" x2="161.00" y2="500.01" stroke="#333" stroke-width="0.8"/>
<line x1="159.60" y1="497.51" x2="161.00" y2="497.51" stroke="#333" stroke-width="0.8"/>
<line x1="158.60" y1="495.00" x2="161.00" y2="495.00" stroke="#333" stroke-width="0.8"/>
<text x="0" y="0" font-size="6.3" text-anchor="middle" font-family="'Liberation Sans', sans-serif" fill="#111" style="stroke:#111;stroke-width:0.22px" transform="translate(153.60,570.20) rotate(-90) scale(0.72,1) translate(0,2.2)">0</text>
<text x="0" y="0" font-size="6.3" text-anchor="middle" font-family="'Liberation Sans', sans-serif" fill="#111" style="stroke:#111;stroke-width:0.22px" transform="translate(153.60,557.67) rotate(-90) scale(0.72,1) translate(0,2.2)">20</text>
<text x="0" y="0" font-size="6.3" text-anchor="middle" font-family="'Liberation Sans', sans-serif" fill="#111" style="stroke:#111;stroke-width:0.22px" transform="translate(153.60,545.13) rotate(-90) scale(0.72,1) translate(0,2.2)">40</text>
<text x="0" y="0" font-size="6.3" text-anchor="middle" font-family="'Liberation Sans', sans-serif" fill="#111" style="stroke:#111;stroke-width:0.22px" transform="translate(153.60,532.60) rotate(-90) scale(0.72,1) translate(0,2.2)">60</text>
<text x="0" y="0" font-size="6.3" text-anchor="middle" font-family="'Liberation Sans', sans-serif" fill="#111" style="stroke:#111;stroke-width:0.22px" transform="translate(153.60,520.07) rotate(-90) scale(0.72,1) translate(0,2.2)">80</text>
<text x="0" y="0" font-size="6.3" text-anchor="middle" font-family="'Liberation Sans', sans-serif" fill="#111" style="stroke:#111;stroke-width:0.22px" transform="translate(153.60,507.53) rotate(-90) scale(0.72,1) translate(0,2.2)">100</text>
<text x="0" y="0" font-size="6.3" text-anchor="middle" font-family="'Liberation Sans', sans-serif" fill="#111" style="stroke:#111;stroke-width:0.22px" transform="translate(153.60,495.00) rotate(-90) scale(0.72,1) translate(0,2.2)">120</text>
<line x1="162.40" y1="570.20" x2="162.40" y2="572.60" stroke="#333" stroke-width="0.8"/>
<line x1="166.16" y1="570.20" x2="166.16" y2="571.60" stroke="#333" stroke-width="0.8"/>
<line x1="169.91" y1="570.20" x2="169.91" y2="571.60" stroke="#333" stroke-width="0.8"/>
<line x1="173.67" y1="570.20" x2="173.67" y2="571.60" stroke="#333" stroke-width="0.8"/>
<line x1="177.42" y1="570.20" x2="177.42" y2="571.60" stroke="#333" stroke-width="0.8"/>
<line x1="181.18" y1="570.20" x2="181.18" y2="572.60" stroke="#333" stroke-width="0.8"/>
<line x1="184.94" y1="570.20" x2="184.94" y2="571.60" stroke="#333" stroke-width="0.8"/>
<line x1="188.69" y1="570.20" x2="188.69" y2="571.60" stroke="#333" stroke-width="0.8"/>
<line x1="192.45" y1="570.20" x2="192.45" y2="571.60" stroke="#333" stroke-width="0.8"/>
<line x1="196.20" y1="570.20" x2="196.20" y2="571.60" stroke="#333" stroke-width="0.8"/>
<line x1="199.96" y1="570.20" x2="199.96" y2="572.60" stroke="#333" stroke-width="0.8"/>
<line x1="203.72" y1="570.20" x2="203.72" y2="571.60" stroke="#333" stroke-width="0.8"/>
<line x1="207.47" y1="570.20" x2="207.47" y2="571.60" stroke="#333" stroke-width="0.8"/>
<line x1="211.23" y1="570.20" x2="211.23" y2="571.60" stroke="#333" stroke-width="0.8"/>
<line x1="214.98" y1="570.20" x2="214.98" y2="571.60" stroke="#333" stroke-width="0.8"/>
<line x1="218.74" y1="570.20" x2="218.74" y2="572.60" stroke="#333" stroke-width="0.8"/>
<line x1="222.50" y1="570.20" x2="222.50" y2="571.60" stroke="#333" stroke-width="0.8"/>
<line x1="226.25" y1="570.20" x2="226.25" y2="571.60" stroke="#333" stroke-width="0.8"/>
<line x1="230.01" y1="570.20" x2="230.01" y2="571.60" stroke="#333" stroke-width="0.8"/>
<line x1="233.76" y1="570.20" x2="233.76" y2="571.60" stroke="#333" stroke-width="0.8"/>
<line x1="237.52" y1="570.20" x2="237.52" y2="572.60" stroke="#333" stroke-width="0.8"/>
<line x1="241.28" y1="570.20" x2="241.28" y2="571.60" stroke="#333" stroke-width="0.8"/>
<line x1="245.03" y1="570.20" x2="245.03" y2="571.60" stroke="#333" stroke-width="0.8"/>
<line x1="248.79" y1="570.20" x2="248.79" y2="571.60" stroke="#333" stroke-width="0.8"/>
<line x1="252.54" y1="570.20" x2="252.54" y2="571.60" stroke="#333" stroke-width="0.8"/>
<line x1="256.30" y1="570.20" x2="256.30" y2="572.60" stroke="#333" stroke-width="0.8"/>
<line x1="260.06" y1="570.20" x2="260.06" y2="571.60" stroke="#333" stroke-width="0.8"/>
<text x="162.40" y="578.80" font-size="6.1" text-anchor="middle" font-weight="normal" font-family="'Liberation Sans', sans-serif" fill="#111" style="stroke:#111;stroke-width:0.3px">0</text>
<text x="181.18" y="578.80" font-size="6.1" text-anchor="middle" font-weight="normal" font-family="'Liberation Sans', sans-serif" fill="#111" style="stroke:#111;stroke-width:0.3px">200</text>
<text x="199.96" y="578.80" font-size="6.1" text-anchor="middle" font-weight="normal" font-family="'Liberation Sans', sans-serif" fill="#111" style="stroke:#111;stroke-width:0.3px">400</text>
<text x="218.74" y="578.80" font-size="6.1" text-anchor="middle" font-weight="normal" font-family="'Liberation Sans', sans-serif" fill="#111" style="stroke:#111;stroke-width:0.3px">600</text>
<text x="237.52" y="578.80" font-size="6.1" text-anchor="middle" font-weight="normal" font-family="'Liberation Sans', sans-serif" fill="#111" style="stroke:#111;stroke-width:0.3px">800</text>
<text x="256.30" y="578.80" font-size="6.1" text-anchor="middle" font-weight="normal" font-family="'Liberation Sans', sans-serif" fill="#111" style="stroke:#111;stroke-width:0.3px">1000</text>
<text x="211.20" y="473.80" font-size="10" text-anchor="middle" font-weight="bold" font-family="'Liberation Serif', serif" fill="#111" style="stroke-width:0.12px">+ PDGF-BB 10ng/mL</text>
<text x="213.70" y="485.00" font-size="10" text-anchor="middle" font-weight="bold" font-family="'Liberation Serif', serif" fill="#111" style="stroke-width:0.12px">+ DMSO</text>
<text x="0" y="0" font-size="10" text-anchor="end" font-family="'Liberation Sans', sans-serif" fill="#2a2a2a" class="nost" transform="translate(255.50,501.50) scale(0.92,1)"><tspan font-family="'Liberation Serif', serif" font-size="10.5">sub</tspan><tspan dx="1.2">G<tspan font-size="7.5" dy="2.4">1</tspan><tspan dy="-2.4">=</tspan></tspan>2,3%</text>
<text x="0" y="0" font-size="10" text-anchor="end" font-family="'Liberation Sans', sans-serif" fill="#2a2a2a" class="nost" transform="translate(255.50,511.90) scale(0.92,1)">G<tspan font-size="7.5" dy="2.4">1</tspan><tspan dy="-2.4">=</tspan>46,1%</text>
<text x="0" y="0" font-size="10" text-anchor="end" font-family="'Liberation Sans', sans-serif" fill="#2a2a2a" class="nost" transform="translate(255.50,522.30) scale(0.92,1)">S=35,2%</text>
<text x="0" y="0" font-size="10" text-anchor="end" font-family="'Liberation Sans', sans-serif" fill="#2a2a2a" class="nost" transform="translate(255.50,532.70) scale(0.92,1)">G<tspan font-size="7.5" dy="2.4">2</tspan><tspan dy="-2.4">/M=</tspan>16,4%</text>
<polygon points="271.10,570.90 271.10,565.70 271.48,565.61 271.86,565.62 272.24,565.86 272.62,566.25 273.00,564.31 273.38,565.76 273.77,564.73 274.15,564.82 274.53,564.29 274.91,565.22 275.29,565.84 275.67,565.78 276.05,565.63 276.43,565.15 276.81,563.80 277.19,564.83 277.57,565.31 277.95,565.88 278.33,564.02 278.72,563.31 279.10,565.32 279.48,565.33 279.86,565.36 280.24,564.99 280.62,565.69 281.00,565.46 281.38,564.99 281.76,565.52 282.14,564.33 282.52,564.49 282.90,564.63 283.29,563.21 283.67,561.42 284.05,562.78 284.43,563.70 284.81,563.19 285.19,562.49 285.57,561.65 285.95,562.62 286.33,561.22 286.71,561.32 287.09,560.69 287.47,559.86 287.85,560.02 288.24,560.19 288.62,560.32 289.00,559.13 289.38,557.33 289.76,558.85 290.14,559.64 290.52,559.76 290.90,558.83 291.28,557.87 291.66,558.47 292.04,558.36 292.42,558.47 292.81,559.30 293.19,558.54 293.57,559.26 293.95,558.64 294.33,559.99 294.71,559.97 295.09,559.81 295.47,560.38 295.85,559.88 296.23,560.95 296.61,557.41 296.99,561.83 297.37,561.92 297.76,561.35 298.14,561.93 298.52,561.67 298.90,562.29 299.28,562.14 299.66,562.90 300.04,563.34 300.42,563.37 300.80,563.30 301.18,563.09 301.56,563.25 301.94,563.29 302.33,563.07 302.71,564.18 303.09,565.11 303.47,565.07 303.85,564.70 304.23,565.29 304.61,564.80 304.99,564.79 305.37,563.30 305.75,564.93 306.13,566.14 306.51,565.65 306.89,563.90 307.28,558.90 307.66,554.13 308.04,549.43 308.42,544.91 308.80,532.64 309.18,521.12 309.56,509.15 309.62,507.27 309.94,515.85 310.32,526.76 310.70,537.10 311.08,544.67 311.46,552.17 311.85,559.66 312.23,567.05 312.61,565.76 312.99,567.01 313.37,565.89 313.75,566.97 314.13,566.36 314.51,566.31 314.89,565.75 315.27,566.63 315.65,565.95 316.03,567.20 316.41,565.86 316.80,566.46 317.18,566.43 317.56,565.75 317.94,566.78 318.32,566.31 318.70,566.35 319.08,566.80 319.46,567.05 319.84,566.60 320.22,566.83 320.60,566.32 320.98,566.63 321.37,567.15 321.75,566.19 322.13,565.82 322.51,566.31 322.89,566.81 323.27,566.80 323.65,565.77 324.03,566.58 324.41,566.14 324.79,567.16 325.17,566.00 325.55,565.87 325.93,566.87 326.32,566.40 326.70,565.40 327.08,564.49 327.46,564.09 327.84,563.52 328.22,563.24 328.60,562.59 328.98,563.72 329.36,563.12 329.74,562.08 330.12,562.87 330.50,562.41 330.89,562.11 331.27,562.49 331.65,563.49 332.03,563.36 332.41,563.63 332.79,562.55 333.17,563.73 333.55,562.89 333.93,563.94 334.31,563.43 334.69,563.83 335.07,564.10 335.45,563.59 335.84,563.45 336.22,563.14 336.60,563.02 336.98,564.35 337.36,563.44 337.74,563.51 338.12,564.63 338.50,563.46 338.88,563.72 339.26,564.05 339.64,564.83 340.02,564.90 340.41,563.70 340.79,565.32 341.17,565.20 341.55,565.20 341.93,565.96 342.31,566.07 342.69,566.02 343.07,566.77 343.45,565.83 343.83,566.82 344.21,566.82 344.59,566.66 344.97,566.69 345.36,567.61 345.74,567.51 346.12,568.32 346.50,567.03 346.88,567.29 347.26,567.55 347.64,568.69 348.02,568.19 348.40,568.56 348.78,569.07 349.16,569.04 349.54,568.07 349.93,568.55 350.31,568.64 350.69,569.43 351.07,568.79 351.45,568.37 351.83,569.53 352.21,569.55 352.59,568.51 352.97,569.62 353.35,569.39 353.73,568.67 354.11,568.95 354.49,569.62 354.88,569.59 355.26,569.72 355.64,570.05 356.02,569.29 356.40,569.88 356.78,569.71 357.16,568.81 357.54,569.92 357.92,569.99 358.30,570.03 358.68,569.12 359.06,569.73 359.45,569.69 359.83,569.29 360.21,568.96 360.59,568.58 360.97,570.02 361.35,569.56 361.73,570.09 362.11,569.56 362.49,569.06 362.87,569.58 363.25,569.44 363.63,569.63 364.01,568.57 364.40,568.84 364.78,568.71 365.16,569.15 365.54,568.70 365.92,569.10 366.30,569.97 366.68,569.90 367.06,568.62 367.44,569.24 367.82,568.95 368.20,569.23 368.58,568.70 368.97,569.80 369.35,569.86 369.73,569.77 370.11,568.96 370.49,569.17 369.60,570.27 370.00,562.71 370.60,562.71 370.60,570.90" fill="#000" stroke="#000" stroke-width="0.4" stroke-linejoin="bevel"/>
<rect x="270.60" y="492.50" width="100.60" height="78.40" fill="none" stroke="#222" stroke-width="1" />
<line x1="268.20" y1="570.90" x2="270.60" y2="570.90" stroke="#333" stroke-width="0.8"/>
<line x1="269.20" y1="568.38" x2="270.60" y2="568.38" stroke="#333" stroke-width="0.8"/>
<line x1="269.20" y1="565.86" x2="270.60" y2="565.86" stroke="#333" stroke-width="0.8"/>
<line x1="269.20" y1="563.34" x2="270.60" y2="563.34" stroke="#333" stroke-width="0.8"/>
<line x1="269.20" y1="560.82" x2="270.60" y2="560.82" stroke="#333" stroke-width="0.8"/>
<line x1="268.20" y1="558.30" x2="270.60" y2="558.30" stroke="#333" stroke-width="0.8"/>
<line x1="269.20" y1="555.78" x2="270.60" y2="555.78" stroke="#333" stroke-width="0.8"/>
<line x1="269.20" y1="553.26" x2="270.60" y2="553.26" stroke="#333" stroke-width="0.8"/>
<line x1="269.20" y1="550.74" x2="270.60" y2="550.74" stroke="#333" stroke-width="0.8"/>
<line x1="269.20" y1="548.22" x2="270.60" y2="548.22" stroke="#333" stroke-width="0.8"/>
<line x1="268.20" y1="545.70" x2="270.60" y2="545.70" stroke="#333" stroke-width="0.8"/>
<line x1="269.20" y1="543.18" x2="270.60" y2="543.18" stroke="#333" stroke-width="0.8"/>
<line x1="269.20" y1="540.66" x2="270.60" y2="540.66" stroke="#333" stroke-width="0.8"/>
<line x1="269.20" y1="538.14" x2="270.60" y2="538.14" stroke="#333" stroke-width="0.8"/>
<line x1="269.20" y1="535.62" x2="270.60" y2="535.62" stroke="#333" stroke-width="0.8"/>
<line x1="268.20" y1="533.10" x2="270.60" y2="533.10" stroke="#333" stroke-width="0.8"/>
<line x1="269.20" y1="530.58" x2="270.60" y2="530.58" stroke="#333" stroke-width="0.8"/>
<line x1="269.20" y1="528.06" x2="270.60" y2="528.06" stroke="#333" stroke-width="0.8"/>
<line x1="269.20" y1="525.54" x2="270.60" y2="525.54" stroke="#333" stroke-width="0.8"/>
<line x1="269.20" y1="523.02" x2="270.60" y2="523.02" stroke="#333" stroke-width="0.8"/>
<line x1="268.20" y1="520.50" x2="270.60" y2="520.50" stroke="#333" stroke-width="0.8"/>
<line x1="269.20" y1="517.98" x2="270.60" y2="517.98" stroke="#333" stroke-width="0.8"/>
<line x1="269.20" y1="515.46" x2="270.60" y2="515.46" stroke="#333" stroke-width="0.8"/>
<line x1="269.20" y1="512.94" x2="270.60" y2="512.94" stroke="#333" stroke-width="0.8"/>
<line x1="269.20" y1="510.42" x2="270.60" y2="510.42" stroke="#333" stroke-width="0.8"/>
<line x1="268.20" y1="507.90" x2="270.60" y2="507.90" stroke="#333" stroke-width="0.8"/>
<line x1="269.20" y1="505.38" x2="270.60" y2="505.38" stroke="#333" stroke-width="0.8"/>
<line x1="269.20" y1="502.86" x2="270.60" y2="502.86" stroke="#333" stroke-width="0.8"/>
<line x1="269.20" y1="500.34" x2="270.60" y2="500.34" stroke="#333" stroke-width="0.8"/>
<line x1="269.20" y1="497.82" x2="270.60" y2="497.82" stroke="#333" stroke-width="0.8"/>
<line x1="268.20" y1="495.30" x2="270.60" y2="495.30" stroke="#333" stroke-width="0.8"/>
<line x1="272.40" y1="570.90" x2="272.40" y2="573.30" stroke="#333" stroke-width="0.8"/>
<line x1="276.21" y1="570.90" x2="276.21" y2="572.30" stroke="#333" stroke-width="0.8"/>
<line x1="280.02" y1="570.90" x2="280.02" y2="572.30" stroke="#333" stroke-width="0.8"/>
<line x1="283.82" y1="570.90" x2="283.82" y2="572.30" stroke="#333" stroke-width="0.8"/>
<line x1="287.63" y1="570.90" x2="287.63" y2="572.30" stroke="#333" stroke-width="0.8"/>
<line x1="291.44" y1="570.90" x2="291.44" y2="573.30" stroke="#333" stroke-width="0.8"/>
<line x1="295.25" y1="570.90" x2="295.25" y2="572.30" stroke="#333" stroke-width="0.8"/>
<line x1="299.06" y1="570.90" x2="299.06" y2="572.30" stroke="#333" stroke-width="0.8"/>
<line x1="302.86" y1="570.90" x2="302.86" y2="572.30" stroke="#333" stroke-width="0.8"/>
<line x1="306.67" y1="570.90" x2="306.67" y2="572.30" stroke="#333" stroke-width="0.8"/>
<line x1="310.48" y1="570.90" x2="310.48" y2="573.30" stroke="#333" stroke-width="0.8"/>
<line x1="314.29" y1="570.90" x2="314.29" y2="572.30" stroke="#333" stroke-width="0.8"/>
<line x1="318.10" y1="570.90" x2="318.10" y2="572.30" stroke="#333" stroke-width="0.8"/>
<line x1="321.90" y1="570.90" x2="321.90" y2="572.30" stroke="#333" stroke-width="0.8"/>
<line x1="325.71" y1="570.90" x2="325.71" y2="572.30" stroke="#333" stroke-width="0.8"/>
<line x1="329.52" y1="570.90" x2="329.52" y2="573.30" stroke="#333" stroke-width="0.8"/>
<line x1="333.33" y1="570.90" x2="333.33" y2="572.30" stroke="#333" stroke-width="0.8"/>
<line x1="337.14" y1="570.90" x2="337.14" y2="572.30" stroke="#333" stroke-width="0.8"/>
<line x1="340.94" y1="570.90" x2="340.94" y2="572.30" stroke="#333" stroke-width="0.8"/>
<line x1="344.75" y1="570.90" x2="344.75" y2="572.30" stroke="#333" stroke-width="0.8"/>
<line x1="348.56" y1="570.90" x2="348.56" y2="573.30" stroke="#333" stroke-width="0.8"/>
<line x1="352.37" y1="570.90" x2="352.37" y2="572.30" stroke="#333" stroke-width="0.8"/>
<line x1="356.18" y1="570.90" x2="356.18" y2="572.30" stroke="#333" stroke-width="0.8"/>
<line x1="359.98" y1="570.90" x2="359.98" y2="572.30" stroke="#333" stroke-width="0.8"/>
<line x1="363.79" y1="570.90" x2="363.79" y2="572.30" stroke="#333" stroke-width="0.8"/>
<line x1="367.60" y1="570.90" x2="367.60" y2="573.30" stroke="#333" stroke-width="0.8"/>
<text x="272.40" y="579.50" font-size="6.1" text-anchor="middle" font-weight="normal" font-family="'Liberation Sans', sans-serif" fill="#111" style="stroke:#111;stroke-width:0.3px">0</text>
<text x="291.44" y="579.50" font-size="6.1" text-anchor="middle" font-weight="normal" font-family="'Liberation Sans', sans-serif" fill="#111" style="stroke:#111;stroke-width:0.3px">200</text>
<text x="310.48" y="579.50" font-size="6.1" text-anchor="middle" font-weight="normal" font-family="'Liberation Sans', sans-serif" fill="#111" style="stroke:#111;stroke-width:0.3px">400</text>
<text x="329.52" y="579.50" font-size="6.1" text-anchor="middle" font-weight="normal" font-family="'Liberation Sans', sans-serif" fill="#111" style="stroke:#111;stroke-width:0.3px">600</text>
<text x="348.56" y="579.50" font-size="6.1" text-anchor="middle" font-weight="normal" font-family="'Liberation Sans', sans-serif" fill="#111" style="stroke:#111;stroke-width:0.3px">800</text>
<text x="367.60" y="579.50" font-size="6.1" text-anchor="middle" font-weight="normal" font-family="'Liberation Sans', sans-serif" fill="#111" style="stroke:#111;stroke-width:0.3px">1000</text>
<text x="320.20" y="473.80" font-size="10" text-anchor="middle" font-weight="bold" font-family="'Liberation Serif', serif" fill="#111" style="stroke-width:0.12px">PDGF-BB 10ng/mL</text>
<text x="318.70" y="486.30" font-size="10" text-anchor="middle" font-weight="bold" font-family="'Liberation Serif', serif" fill="#111" style="stroke-width:0.12px">+ dasatinib 50nM</text>
<text x="0" y="0" font-size="10" text-anchor="end" font-family="'Liberation Sans', sans-serif" fill="#2a2a2a" class="nost" transform="translate(367.30,501.80) scale(0.92,1)"><tspan font-family="'Liberation Serif', serif" font-size="10.5">sub</tspan><tspan dx="1.2">G<tspan font-size="7.5" dy="2.4">1</tspan><tspan dy="-2.4">=</tspan></tspan>14,2%</text>
<text x="0" y="0" font-size="10" text-anchor="end" font-family="'Liberation Sans', sans-serif" fill="#2a2a2a" class="nost" transform="translate(367.30,512.20) scale(0.92,1)">G<tspan font-size="7.5" dy="2.4">1</tspan><tspan dy="-2.4">=</tspan>67,3%</text>
<text x="0" y="0" font-size="10" text-anchor="end" font-family="'Liberation Sans', sans-serif" fill="#2a2a2a" class="nost" transform="translate(367.30,522.60) scale(0.92,1)">S=10,4%</text>
<text x="0" y="0" font-size="10" text-anchor="end" font-family="'Liberation Sans', sans-serif" fill="#2a2a2a" class="nost" transform="translate(367.30,533.00) scale(0.92,1)">G<tspan font-size="7.5" dy="2.4">2</tspan><tspan dy="-2.4">/M=</tspan>8,1%</text>
<polygon points="381.75,571.00 381.75,565.91 382.13,565.33 382.52,565.80 382.90,564.51 383.29,564.24 383.67,562.17 384.06,563.73 384.44,562.04 384.83,558.98 385.21,559.02 385.60,561.50 385.98,561.80 386.37,560.18 386.75,557.47 387.14,560.24 387.52,560.52 387.91,558.89 388.29,560.05 388.68,559.63 389.06,558.70 389.45,558.31 389.83,554.47 390.22,556.83 390.60,554.24 390.99,558.19 391.37,557.45 391.76,558.21 392.14,556.67 392.53,557.73 392.91,557.17 393.30,556.84 393.68,554.29 394.07,556.79 394.45,557.98 394.84,553.61 395.22,556.74 395.61,556.63 395.99,556.87 396.38,556.85 396.76,553.58 397.15,556.88 397.53,556.12 397.92,557.74 398.30,557.63 398.69,556.19 399.07,556.56 399.46,553.86 399.84,555.71 400.23,556.29 400.61,556.88 401.00,556.55 401.38,556.73 401.77,554.51 402.15,557.15 402.54,557.43 402.92,556.37 403.31,555.76 403.69,556.39 404.08,556.46 404.46,556.85 404.85,556.15 405.23,556.94 405.62,556.66 406.00,557.31 406.39,556.37 406.77,556.88 407.16,556.81 407.54,555.59 407.93,555.96 408.31,556.97 408.70,554.94 409.08,554.28 409.47,556.23 409.85,551.66 410.24,553.81 410.62,553.44 411.01,556.46 411.39,554.64 411.78,557.71 412.16,557.56 412.55,557.04 412.93,556.22 413.32,558.05 413.70,557.43 414.09,552.95 414.47,557.53 414.86,557.44 415.24,557.61 415.63,556.32 416.01,556.78 416.40,556.49 416.78,552.93 417.17,548.69 417.55,545.52 417.94,541.91 418.32,536.69 418.71,528.40 419.09,520.23 419.48,511.91 419.64,508.55 419.86,514.20 420.25,523.22 420.63,532.70 421.02,541.62 421.40,551.03 421.79,559.00 422.17,564.26 422.56,565.81 422.94,565.76 423.33,567.53 423.71,568.19 424.10,567.38 424.48,567.41 424.87,567.33 425.25,568.31 425.64,568.42 426.02,568.42 426.41,568.54 426.79,568.91 427.18,568.70 427.56,568.02 427.95,568.15 428.33,567.30 428.72,568.28 429.10,568.69 429.49,567.26 429.87,568.90 430.26,568.41 430.64,567.62 431.03,568.47 431.41,567.27 431.80,567.71 432.18,568.54 432.57,567.51 432.95,567.41 433.34,568.20 433.72,568.92 434.11,569.00 434.49,567.67 434.88,567.55 435.26,568.01 435.65,567.80 436.03,567.77 436.42,568.84 436.80,568.90 437.19,567.68 437.57,567.75 437.96,568.52 438.34,568.85 438.73,569.23 439.11,568.63 439.50,567.69 439.88,569.03 440.27,568.72 440.65,569.16 441.04,568.05 441.42,568.92 441.81,567.66 442.19,567.92 442.58,567.95 442.96,568.17 443.35,567.99 443.73,566.78 444.12,566.59 444.50,566.86 444.89,567.78 445.27,567.70 445.66,567.31 446.04,566.24 446.43,566.02 446.81,567.28 447.20,566.42 447.58,566.78 447.97,566.33 448.35,566.52 448.74,565.10 449.12,565.36 449.51,562.91 449.89,563.33 450.28,564.44 450.66,561.45 451.05,562.99 451.43,563.51 451.82,563.37 452.20,563.15 452.59,562.82 452.97,564.31 453.36,564.90 453.74,563.95 454.13,565.36 454.51,564.37 454.90,564.09 455.28,565.93 455.67,565.62 456.05,566.45 456.44,567.68 456.82,567.45 457.21,567.34 457.59,567.66 457.98,568.43 458.36,569.85 458.75,569.36 459.13,569.16 459.52,569.45 459.90,568.64 460.29,569.15 460.67,568.24 461.06,570.08 461.44,568.57 461.83,569.89 462.21,569.13 462.60,569.83 462.98,569.39 463.37,568.97 463.75,568.31 464.14,570.06 464.52,569.40 464.91,569.94 465.29,568.74 465.68,569.88 466.06,569.79 466.45,568.63 466.83,570.08 467.22,568.50 467.60,569.67 467.99,568.30 468.37,569.99 468.76,570.01 469.14,569.30 469.53,569.62 469.91,568.99 470.30,569.64 470.68,569.59 471.07,570.19 471.45,570.06 471.84,570.23 472.22,569.37 472.61,568.59 472.99,569.23 473.38,569.64 473.76,569.39 474.15,568.81 474.53,568.62 474.92,570.10 475.30,569.06 475.69,569.72 476.07,568.53 476.46,568.92 476.84,569.18 477.23,569.04 477.61,568.87 478.00,570.18 478.38,569.71 478.77,570.25 479.15,570.04 479.54,568.58 479.92,569.26 480.31,569.97 480.69,569.79 479.80,570.37 480.20,569.74 480.80,569.74 480.80,571.00" fill="#000" stroke="#000" stroke-width="0.4" stroke-linejoin="bevel"/>
<rect x="381.25" y="492.50" width="100.15" height="78.50" fill="none" stroke="#222" stroke-width="1" />
<line x1="378.85" y1="571.00" x2="381.25" y2="571.00" stroke="#333" stroke-width="0.8"/>
<line x1="379.85" y1="568.48" x2="381.25" y2="568.48" stroke="#333" stroke-width="0.8"/>
<line x1="379.85" y1="565.95" x2="381.25" y2="565.95" stroke="#333" stroke-width="0.8"/>
<line x1="379.85" y1="563.43" x2="381.25" y2="563.43" stroke="#333" stroke-width="0.8"/>
<line x1="379.85" y1="560.91" x2="381.25" y2="560.91" stroke="#333" stroke-width="0.8"/>
<line x1="378.85" y1="558.38" x2="381.25" y2="558.38" stroke="#333" stroke-width="0.8"/>
<line x1="379.85" y1="555.86" x2="381.25" y2="555.86" stroke="#333" stroke-width="0.8"/>
<line x1="379.85" y1="553.34" x2="381.25" y2="553.34" stroke="#333" stroke-width="0.8"/>
<line x1="379.85" y1="550.81" x2="381.25" y2="550.81" stroke="#333" stroke-width="0.8"/>
<line x1="379.85" y1="548.29" x2="381.25" y2="548.29" stroke="#333" stroke-width="0.8"/>
<line x1="378.85" y1="545.77" x2="381.25" y2="545.77" stroke="#333" stroke-width="0.8"/>
<line x1="379.85" y1="543.24" x2="381.25" y2="543.24" stroke="#333" stroke-width="0.8"/>
<line x1="379.85" y1="540.72" x2="381.25" y2="540.72" stroke="#333" stroke-width="0.8"/>
<line x1="379.85" y1="538.20" x2="381.25" y2="538.20" stroke="#333" stroke-width="0.8"/>
<line x1="379.85" y1="535.67" x2="381.25" y2="535.67" stroke="#333" stroke-width="0.8"/>
<line x1="378.85" y1="533.15" x2="381.25" y2="533.15" stroke="#333" stroke-width="0.8"/>
<line x1="379.85" y1="530.63" x2="381.25" y2="530.63" stroke="#333" stroke-width="0.8"/>
<line x1="379.85" y1="528.10" x2="381.25" y2="528.10" stroke="#333" stroke-width="0.8"/>
<line x1="379.85" y1="525.58" x2="381.25" y2="525.58" stroke="#333" stroke-width="0.8"/>
<line x1="379.85" y1="523.06" x2="381.25" y2="523.06" stroke="#333" stroke-width="0.8"/>
<line x1="378.85" y1="520.53" x2="381.25" y2="520.53" stroke="#333" stroke-width="0.8"/>
<line x1="379.85" y1="518.01" x2="381.25" y2="518.01" stroke="#333" stroke-width="0.8"/>
<line x1="379.85" y1="515.49" x2="381.25" y2="515.49" stroke="#333" stroke-width="0.8"/>
<line x1="379.85" y1="512.96" x2="381.25" y2="512.96" stroke="#333" stroke-width="0.8"/>
<line x1="379.85" y1="510.44" x2="381.25" y2="510.44" stroke="#333" stroke-width="0.8"/>
<line x1="378.85" y1="507.92" x2="381.25" y2="507.92" stroke="#333" stroke-width="0.8"/>
<line x1="379.85" y1="505.39" x2="381.25" y2="505.39" stroke="#333" stroke-width="0.8"/>
<line x1="379.85" y1="502.87" x2="381.25" y2="502.87" stroke="#333" stroke-width="0.8"/>
<line x1="379.85" y1="500.35" x2="381.25" y2="500.35" stroke="#333" stroke-width="0.8"/>
<line x1="379.85" y1="497.82" x2="381.25" y2="497.82" stroke="#333" stroke-width="0.8"/>
<line x1="378.85" y1="495.30" x2="381.25" y2="495.30" stroke="#333" stroke-width="0.8"/>
<line x1="382.10" y1="571.00" x2="382.10" y2="573.40" stroke="#333" stroke-width="0.8"/>
<line x1="385.95" y1="571.00" x2="385.95" y2="572.40" stroke="#333" stroke-width="0.8"/>
<line x1="389.80" y1="571.00" x2="389.80" y2="572.40" stroke="#333" stroke-width="0.8"/>
<line x1="393.65" y1="571.00" x2="393.65" y2="572.40" stroke="#333" stroke-width="0.8"/>
<line x1="397.50" y1="571.00" x2="397.50" y2="572.40" stroke="#333" stroke-width="0.8"/>
<line x1="401.35" y1="571.00" x2="401.35" y2="573.40" stroke="#333" stroke-width="0.8"/>
<line x1="405.20" y1="571.00" x2="405.20" y2="572.40" stroke="#333" stroke-width="0.8"/>
<line x1="409.05" y1="571.00" x2="409.05" y2="572.40" stroke="#333" stroke-width="0.8"/>
<line x1="412.90" y1="571.00" x2="412.90" y2="572.40" stroke="#333" stroke-width="0.8"/>
<line x1="416.75" y1="571.00" x2="416.75" y2="572.40" stroke="#333" stroke-width="0.8"/>
<line x1="420.60" y1="571.00" x2="420.60" y2="573.40" stroke="#333" stroke-width="0.8"/>
<line x1="424.45" y1="571.00" x2="424.45" y2="572.40" stroke="#333" stroke-width="0.8"/>
<line x1="428.30" y1="571.00" x2="428.30" y2="572.40" stroke="#333" stroke-width="0.8"/>
<line x1="432.15" y1="571.00" x2="432.15" y2="572.40" stroke="#333" stroke-width="0.8"/>
<line x1="436.00" y1="571.00" x2="436.00" y2="572.40" stroke="#333" stroke-width="0.8"/>
<line x1="439.85" y1="571.00" x2="439.85" y2="573.40" stroke="#333" stroke-width="0.8"/>
<line x1="443.70" y1="571.00" x2="443.70" y2="572.40" stroke="#333" stroke-width="0.8"/>
<line x1="447.55" y1="571.00" x2="447.55" y2="572.40" stroke="#333" stroke-width="0.8"/>
<line x1="451.40" y1="571.00" x2="451.40" y2="572.40" stroke="#333" stroke-width="0.8"/>
<line x1="455.25" y1="571.00" x2="455.25" y2="572.40" stroke="#333" stroke-width="0.8"/>
<line x1="459.10" y1="571.00" x2="459.10" y2="573.40" stroke="#333" stroke-width="0.8"/>
<line x1="462.95" y1="571.00" x2="462.95" y2="572.40" stroke="#333" stroke-width="0.8"/>
<line x1="466.80" y1="571.00" x2="466.80" y2="572.40" stroke="#333" stroke-width="0.8"/>
<line x1="470.65" y1="571.00" x2="470.65" y2="572.40" stroke="#333" stroke-width="0.8"/>
<line x1="474.50" y1="571.00" x2="474.50" y2="572.40" stroke="#333" stroke-width="0.8"/>
<line x1="478.35" y1="571.00" x2="478.35" y2="573.40" stroke="#333" stroke-width="0.8"/>
<text x="382.10" y="579.60" font-size="6.1" text-anchor="middle" font-weight="normal" font-family="'Liberation Sans', sans-serif" fill="#111" style="stroke:#111;stroke-width:0.3px">0</text>
<text x="401.35" y="579.60" font-size="6.1" text-anchor="middle" font-weight="normal" font-family="'Liberation Sans', sans-serif" fill="#111" style="stroke:#111;stroke-width:0.3px">200</text>
<text x="420.60" y="579.60" font-size="6.1" text-anchor="middle" font-weight="normal" font-family="'Liberation Sans', sans-serif" fill="#111" style="stroke:#111;stroke-width:0.3px">400</text>
<text x="439.85" y="579.60" font-size="6.1" text-anchor="middle" font-weight="normal" font-family="'Liberation Sans', sans-serif" fill="#111" style="stroke:#111;stroke-width:0.3px">600</text>
<text x="459.10" y="579.60" font-size="6.1" text-anchor="middle" font-weight="normal" font-family="'Liberation Sans', sans-serif" fill="#111" style="stroke:#111;stroke-width:0.3px">800</text>
<text x="478.35" y="579.60" font-size="6.1" text-anchor="middle" font-weight="normal" font-family="'Liberation Sans', sans-serif" fill="#111" style="stroke:#111;stroke-width:0.3px">1000</text>
<text x="433.70" y="473.80" font-size="10" text-anchor="middle" font-weight="bold" font-family="'Liberation Serif', serif" fill="#111" style="stroke-width:0.12px">PDGF-BB 10ng/mL</text>
<text x="428.70" y="486.30" font-size="10" text-anchor="middle" font-weight="bold" font-family="'Liberation Serif', serif" fill="#111" style="stroke-width:0.12px">+ dasatinib 100nM</text>
<text x="0" y="0" font-size="10" text-anchor="end" font-family="'Liberation Sans', sans-serif" fill="#2a2a2a" class="nost" transform="translate(477.50,501.80) scale(0.92,1)"><tspan font-family="'Liberation Serif', serif" font-size="10.5">sub</tspan><tspan dx="1.2">G<tspan font-size="7.5" dy="2.4">1</tspan><tspan dy="-2.4">=</tspan></tspan>46,2%</text>
<text x="0" y="0" font-size="10" text-anchor="end" font-family="'Liberation Sans', sans-serif" fill="#2a2a2a" class="nost" transform="translate(477.50,512.20) scale(0.92,1)">G<tspan font-size="7.5" dy="2.4">1</tspan><tspan dy="-2.4">=</tspan>43,8%</text>
<text x="0" y="0" font-size="10" text-anchor="end" font-family="'Liberation Sans', sans-serif" fill="#2a2a2a" class="nost" transform="translate(477.50,522.60) scale(0.92,1)">S=5,1%</text>
<text x="0" y="0" font-size="10" text-anchor="end" font-family="'Liberation Sans', sans-serif" fill="#2a2a2a" class="nost" transform="translate(477.50,533.00) scale(0.92,1)">G<tspan font-size="7.5" dy="2.4">2</tspan><tspan dy="-2.4">/M=</tspan>4,9%</text>
<text x="1.20" y="627.60" font-size="17.5" text-anchor="start" font-weight="normal" font-family="'Liberation Sans', sans-serif" fill="#000" style="stroke:#000;stroke-width:0.7px">F</text>
<text x="57.50" y="707.80" font-size="10.5" text-anchor="end" font-weight="normal" font-family="'Liberation Serif', serif" fill="#111" >0</text>
<line x1="61.60" y1="704.50" x2="64.10" y2="704.50" stroke="#333" stroke-width="1"/>
<line x1="64.10" y1="691.50" x2="173.90" y2="691.50" stroke="#555" stroke-width="1"/>
<text x="57.50" y="694.85" font-size="10.5" text-anchor="end" font-weight="normal" font-family="'Liberation Serif', serif" fill="#111" >5</text>
<line x1="61.60" y1="691.50" x2="64.10" y2="691.50" stroke="#333" stroke-width="1"/>
<line x1="64.10" y1="678.50" x2="173.90" y2="678.50" stroke="#555" stroke-width="1"/>
<text x="57.50" y="681.90" font-size="10.5" text-anchor="end" font-weight="normal" font-family="'Liberation Serif', serif" fill="#111" >10</text>
<line x1="61.60" y1="678.50" x2="64.10" y2="678.50" stroke="#333" stroke-width="1"/>
<line x1="64.10" y1="665.50" x2="173.90" y2="665.50" stroke="#555" stroke-width="1"/>
<text x="57.50" y="668.95" font-size="10.5" text-anchor="end" font-weight="normal" font-family="'Liberation Serif', serif" fill="#111" >15</text>
<line x1="61.60" y1="665.50" x2="64.10" y2="665.50" stroke="#333" stroke-width="1"/>
<line x1="64.10" y1="652.50" x2="173.90" y2="652.50" stroke="#555" stroke-width="1"/>
<text x="57.50" y="656.00" font-size="10.5" text-anchor="end" font-weight="normal" font-family="'Liberation Serif', serif" fill="#111" >20</text>
<line x1="61.60" y1="652.50" x2="64.10" y2="652.50" stroke="#333" stroke-width="1"/>
<line x1="64.10" y1="639.50" x2="173.90" y2="639.50" stroke="#555" stroke-width="1"/>
<text x="57.50" y="643.05" font-size="10.5" text-anchor="end" font-weight="normal" font-family="'Liberation Serif', serif" fill="#111" >25</text>
<line x1="61.60" y1="639.50" x2="64.10" y2="639.50" stroke="#333" stroke-width="1"/>
<line x1="64.10" y1="626.50" x2="173.90" y2="626.50" stroke="#555" stroke-width="1"/>
<text x="57.50" y="630.10" font-size="10.5" text-anchor="end" font-weight="normal" font-family="'Liberation Serif', serif" fill="#111" >30</text>
<line x1="61.60" y1="626.50" x2="64.10" y2="626.50" stroke="#333" stroke-width="1"/>
<line x1="64.50" y1="626.30" x2="64.50" y2="704.50" stroke="#333" stroke-width="1"/>
<line x1="64.10" y1="704.50" x2="173.90" y2="704.50" stroke="#333" stroke-width="1"/>
<line x1="64.50" y1="704.00" x2="64.50" y2="706.50" stroke="#333" stroke-width="1"/>
<text x="64.10" y="716.70" font-size="10.5" text-anchor="middle" font-weight="normal" font-family="'Liberation Serif', serif" fill="#111" >0</text>
<line x1="91.50" y1="704.00" x2="91.50" y2="706.50" stroke="#333" stroke-width="1"/>
<text x="91.55" y="716.70" font-size="10.5" text-anchor="middle" font-weight="normal" font-family="'Liberation Serif', serif" fill="#111" >50</text>
<line x1="119.50" y1="704.00" x2="119.50" y2="706.50" stroke="#333" stroke-width="1"/>
<text x="119.00" y="716.70" font-size="10.5" text-anchor="middle" font-weight="normal" font-family="'Liberation Serif', serif" fill="#111" >100</text>
<line x1="146.50" y1="704.00" x2="146.50" y2="706.50" stroke="#333" stroke-width="1"/>
<text x="146.45" y="716.70" font-size="10.5" text-anchor="middle" font-weight="normal" font-family="'Liberation Serif', serif" fill="#111" >150</text>
<line x1="173.50" y1="704.00" x2="173.50" y2="706.50" stroke="#333" stroke-width="1"/>
<text x="173.90" y="716.70" font-size="10.5" text-anchor="middle" font-weight="normal" font-family="'Liberation Serif', serif" fill="#111" >200</text>
<polyline points="64.10,640.54 91.55,691.31 119.00,696.75 146.45,699.34 173.90,700.63" fill="none" stroke="#222" stroke-width="0.9"/>
<polyline points="64.10,659.45 91.55,680.69 119.00,696.23 146.45,698.30 173.90,700.12" fill="none" stroke="#222" stroke-width="0.9"/>
<polyline points="64.10,655.57 91.55,679.91 119.00,690.27 146.45,694.16 173.90,699.34" fill="none" stroke="#222" stroke-width="0.9"/>
<line x1="64.10" y1="627.60" x2="64.10" y2="653.50" stroke="#222" stroke-width="0.8"/>
<line x1="62.50" y1="627.60" x2="65.70" y2="627.60" stroke="#222" stroke-width="0.8"/>
<line x1="62.50" y1="653.50" x2="65.70" y2="653.50" stroke="#222" stroke-width="0.8"/>
<ellipse cx="64.10" cy="640.54" rx="2.10" ry="2.50" fill="#fff" stroke="#000" stroke-width="0.9"/>
<line x1="91.55" y1="687.42" x2="91.55" y2="695.19" stroke="#222" stroke-width="0.8"/>
<line x1="89.95" y1="687.42" x2="93.15" y2="687.42" stroke="#222" stroke-width="0.8"/>
<line x1="89.95" y1="695.19" x2="93.15" y2="695.19" stroke="#222" stroke-width="0.8"/>
<ellipse cx="91.55" cy="691.31" rx="2.10" ry="2.50" fill="#fff" stroke="#000" stroke-width="0.9"/>
<line x1="119.00" y1="694.16" x2="119.00" y2="699.34" stroke="#222" stroke-width="0.8"/>
<line x1="117.40" y1="694.16" x2="120.60" y2="694.16" stroke="#222" stroke-width="0.8"/>
<line x1="117.40" y1="699.34" x2="120.60" y2="699.34" stroke="#222" stroke-width="0.8"/>
<ellipse cx="119.00" cy="696.75" rx="2.10" ry="2.50" fill="#fff" stroke="#000" stroke-width="0.9"/>
<line x1="146.45" y1="696.75" x2="146.45" y2="701.93" stroke="#222" stroke-width="0.8"/>
<line x1="144.85" y1="696.75" x2="148.05" y2="696.75" stroke="#222" stroke-width="0.8"/>
<line x1="144.85" y1="701.93" x2="148.05" y2="701.93" stroke="#222" stroke-width="0.8"/>
<ellipse cx="146.45" cy="699.34" rx="2.10" ry="2.50" fill="#fff" stroke="#000" stroke-width="0.9"/>
<line x1="173.90" y1="699.34" x2="173.90" y2="701.93" stroke="#222" stroke-width="0.8"/>
<line x1="172.30" y1="699.34" x2="175.50" y2="699.34" stroke="#222" stroke-width="0.8"/>
<line x1="172.30" y1="701.93" x2="175.50" y2="701.93" stroke="#222" stroke-width="0.8"/>
<ellipse cx="173.90" cy="700.63" rx="2.10" ry="2.50" fill="#fff" stroke="#000" stroke-width="0.9"/>
<line x1="64.10" y1="651.68" x2="64.10" y2="667.22" stroke="#222" stroke-width="0.8"/>
<line x1="62.50" y1="651.68" x2="65.70" y2="651.68" stroke="#222" stroke-width="0.8"/>
<line x1="62.50" y1="667.22" x2="65.70" y2="667.22" stroke="#222" stroke-width="0.8"/>
<path d="M64.10,656.35 L66.80,661.75 L61.40,661.75 Z" fill="#fff" stroke="#000" stroke-width="0.9"/>
<line x1="91.55" y1="675.51" x2="91.55" y2="685.87" stroke="#222" stroke-width="0.8"/>
<line x1="89.95" y1="675.51" x2="93.15" y2="675.51" stroke="#222" stroke-width="0.8"/>
<line x1="89.95" y1="685.87" x2="93.15" y2="685.87" stroke="#222" stroke-width="0.8"/>
<path d="M91.55,677.59 L94.25,682.99 L88.85,682.99 Z" fill="#fff" stroke="#000" stroke-width="0.9"/>
<line x1="119.00" y1="691.05" x2="119.00" y2="701.41" stroke="#222" stroke-width="0.8"/>
<line x1="117.40" y1="691.05" x2="120.60" y2="691.05" stroke="#222" stroke-width="0.8"/>
<line x1="117.40" y1="701.41" x2="120.60" y2="701.41" stroke="#222" stroke-width="0.8"/>
<path d="M119.00,693.13 L121.70,698.53 L116.30,698.53 Z" fill="#fff" stroke="#000" stroke-width="0.9"/>
<line x1="146.45" y1="695.71" x2="146.45" y2="700.89" stroke="#222" stroke-width="0.8"/>
<line x1="144.85" y1="695.71" x2="148.05" y2="695.71" stroke="#222" stroke-width="0.8"/>
<line x1="144.85" y1="700.89" x2="148.05" y2="700.89" stroke="#222" stroke-width="0.8"/>
<path d="M146.45,695.20 L149.15,700.60 L143.75,700.60 Z" fill="#fff" stroke="#000" stroke-width="0.9"/>
<line x1="173.90" y1="698.82" x2="173.90" y2="701.41" stroke="#222" stroke-width="0.8"/>
<line x1="172.30" y1="698.82" x2="175.50" y2="698.82" stroke="#222" stroke-width="0.8"/>
<line x1="172.30" y1="701.41" x2="175.50" y2="701.41" stroke="#222" stroke-width="0.8"/>
<path d="M173.90,697.01 L176.60,702.41 L171.20,702.41 Z" fill="#fff" stroke="#000" stroke-width="0.9"/>
<line x1="64.10" y1="645.21" x2="64.10" y2="665.93" stroke="#222" stroke-width="0.8"/>
<line x1="62.50" y1="645.21" x2="65.70" y2="645.21" stroke="#222" stroke-width="0.8"/>
<line x1="62.50" y1="665.93" x2="65.70" y2="665.93" stroke="#222" stroke-width="0.8"/>
<rect x="62.20" y="652.67" width="3.80" height="5.80" fill="#000" stroke="#000" stroke-width="0.9"/>
<line x1="91.55" y1="672.14" x2="91.55" y2="687.68" stroke="#222" stroke-width="0.8"/>
<line x1="89.95" y1="672.14" x2="93.15" y2="672.14" stroke="#222" stroke-width="0.8"/>
<line x1="89.95" y1="687.68" x2="93.15" y2="687.68" stroke="#222" stroke-width="0.8"/>
<rect x="89.65" y="677.01" width="3.80" height="5.80" fill="#000" stroke="#000" stroke-width="0.9"/>
<line x1="119.00" y1="686.39" x2="119.00" y2="694.16" stroke="#222" stroke-width="0.8"/>
<line x1="117.40" y1="686.39" x2="120.60" y2="686.39" stroke="#222" stroke-width="0.8"/>
<line x1="117.40" y1="694.16" x2="120.60" y2="694.16" stroke="#222" stroke-width="0.8"/>
<rect x="117.10" y="687.37" width="3.80" height="5.80" fill="#000" stroke="#000" stroke-width="0.9"/>
<line x1="146.45" y1="690.27" x2="146.45" y2="698.04" stroke="#222" stroke-width="0.8"/>
<line x1="144.85" y1="690.27" x2="148.05" y2="690.27" stroke="#222" stroke-width="0.8"/>
<line x1="144.85" y1="698.04" x2="148.05" y2="698.04" stroke="#222" stroke-width="0.8"/>
<rect x="144.55" y="691.26" width="3.80" height="5.80" fill="#000" stroke="#000" stroke-width="0.9"/>
<line x1="173.90" y1="698.04" x2="173.90" y2="700.63" stroke="#222" stroke-width="0.8"/>
<line x1="172.30" y1="698.04" x2="175.50" y2="698.04" stroke="#222" stroke-width="0.8"/>
<line x1="172.30" y1="700.63" x2="175.50" y2="700.63" stroke="#222" stroke-width="0.8"/>
<rect x="172.00" y="696.44" width="3.80" height="5.80" fill="#000" stroke="#000" stroke-width="0.9"/>
<text x="193.40" y="716.50" font-size="10.4" text-anchor="start" font-weight="bold" font-family="'Liberation Serif', serif" fill="#111" >dasatinib (nM)</text>
<text x="0" y="0" font-size="9.8" text-anchor="middle" font-weight="bold" font-family="'Liberation Serif', serif" fill="#111" transform="translate(30.2,663.9) rotate(-90) scale(0.92,1)">Ratio of adherent</text>
<text x="0" y="0" font-size="9.8" text-anchor="middle" font-weight="bold" font-family="'Liberation Serif', serif" fill="#111" transform="translate(41.2,664.8) rotate(-90) scale(0.93,1)">MM cells / ECs</text>
<line x1="178.70" y1="640.50" x2="190.80" y2="640.50" stroke="#222" stroke-width="1"/>
<ellipse cx="184.75" cy="640.70" rx="2.10" ry="2.50" fill="#fff" stroke="#000" stroke-width="0.9"/>
<text x="198.50" y="644.10" font-size="10" text-anchor="start" font-weight="normal" font-family="'Liberation Serif', serif" fill="#111" >RPMI-8226</text>
<line x1="178.70" y1="655.50" x2="190.80" y2="655.50" stroke="#222" stroke-width="1"/>
<path d="M184.75,652.00 L187.45,657.40 L182.05,657.40 Z" fill="#fff" stroke="#000" stroke-width="0.9"/>
<text x="198.50" y="658.50" font-size="10" text-anchor="start" font-weight="normal" font-family="'Liberation Serif', serif" fill="#111" >MM pat D</text>
<line x1="178.70" y1="668.50" x2="190.80" y2="668.50" stroke="#222" stroke-width="1"/>
<rect x="182.85" y="666.00" width="3.80" height="5.80" fill="#000" stroke="#000" stroke-width="0.9"/>
<text x="198.50" y="672.30" font-size="10" text-anchor="start" font-weight="normal" font-family="'Liberation Serif', serif" fill="#111" >MM pat R</text>
<text x="257.20" y="627.40" font-size="17.5" text-anchor="start" font-weight="normal" font-family="'Liberation Sans', sans-serif" fill="#000" style="stroke:#000;stroke-width:0.7px">G</text>
<text x="311.80" y="708.40" font-size="8.8" text-anchor="end" font-weight="normal" font-family="'Liberation Serif', serif" fill="#111" >0</text>
<line x1="312.00" y1="705.50" x2="314.50" y2="705.50" stroke="#333" stroke-width="1"/>
<line x1="314.50" y1="689.50" x2="441.40" y2="689.50" stroke="#555" stroke-width="1"/>
<text x="311.80" y="692.34" font-size="8.8" text-anchor="end" font-weight="normal" font-family="'Liberation Serif', serif" fill="#111" >20</text>
<line x1="312.00" y1="689.50" x2="314.50" y2="689.50" stroke="#333" stroke-width="1"/>
<line x1="314.50" y1="673.50" x2="441.40" y2="673.50" stroke="#555" stroke-width="1"/>
<text x="311.80" y="676.28" font-size="8.8" text-anchor="end" font-weight="normal" font-family="'Liberation Serif', serif" fill="#111" >40</text>
<line x1="312.00" y1="673.50" x2="314.50" y2="673.50" stroke="#333" stroke-width="1"/>
<line x1="314.50" y1="657.50" x2="441.40" y2="657.50" stroke="#555" stroke-width="1"/>
<text x="311.80" y="660.22" font-size="8.8" text-anchor="end" font-weight="normal" font-family="'Liberation Serif', serif" fill="#111" >60</text>
<line x1="312.00" y1="657.50" x2="314.50" y2="657.50" stroke="#333" stroke-width="1"/>
<line x1="314.50" y1="641.50" x2="441.40" y2="641.50" stroke="#555" stroke-width="1"/>
<text x="311.80" y="644.16" font-size="8.8" text-anchor="end" font-weight="normal" font-family="'Liberation Serif', serif" fill="#111" >80</text>
<line x1="312.00" y1="641.50" x2="314.50" y2="641.50" stroke="#333" stroke-width="1"/>
<line x1="314.50" y1="625.50" x2="441.40" y2="625.50" stroke="#555" stroke-width="1"/>
<text x="311.80" y="628.10" font-size="8.8" text-anchor="end" font-weight="normal" font-family="'Liberation Serif', serif" fill="#111" >100</text>
<line x1="312.00" y1="625.50" x2="314.50" y2="625.50" stroke="#333" stroke-width="1"/>
<line x1="314.50" y1="625.00" x2="314.50" y2="705.30" stroke="#333" stroke-width="1"/>
<line x1="314.50" y1="705.50" x2="441.40" y2="705.50" stroke="#333" stroke-width="1"/>
<rect x="321.90" y="688.44" width="11.60" height="16.86" fill="#fff" stroke="#111" stroke-width="0.9" />
<line x1="327.50" y1="688.44" x2="327.50" y2="685.22" stroke="#111" stroke-width="0.9"/>
<line x1="325.90" y1="685.50" x2="329.50" y2="685.50" stroke="#111" stroke-width="0.9"/>
<rect x="337.40" y="651.50" width="11.80" height="53.80" fill="#000" stroke="#111" stroke-width="0.9" />
<line x1="343.50" y1="651.50" x2="343.50" y2="649.49" stroke="#111" stroke-width="0.9"/>
<line x1="341.50" y1="649.50" x2="345.10" y2="649.50" stroke="#111" stroke-width="0.9"/>
<rect x="353.10" y="668.36" width="11.50" height="36.94" fill="#000" stroke="#111" stroke-width="0.9" />
<line x1="358.50" y1="668.36" x2="358.50" y2="666.76" stroke="#111" stroke-width="0.9"/>
<line x1="357.05" y1="666.50" x2="360.65" y2="666.50" stroke="#111" stroke-width="0.9"/>
<rect x="369.50" y="681.21" width="11.20" height="24.09" fill="#000" stroke="#111" stroke-width="0.9" />
<line x1="375.50" y1="681.21" x2="375.50" y2="678.40" stroke="#111" stroke-width="0.9"/>
<line x1="373.30" y1="678.50" x2="376.90" y2="678.50" stroke="#111" stroke-width="0.9"/>
<rect x="390.70" y="653.10" width="11.20" height="52.20" fill="#808080" stroke="#111" stroke-width="0.9" />
<line x1="396.50" y1="653.10" x2="396.50" y2="651.50" stroke="#111" stroke-width="0.9"/>
<line x1="394.50" y1="651.50" x2="398.10" y2="651.50" stroke="#111" stroke-width="0.9"/>
<rect x="405.50" y="677.19" width="11.60" height="28.11" fill="#808080" stroke="#111" stroke-width="0.9" />
<line x1="411.50" y1="677.19" x2="411.50" y2="673.58" stroke="#111" stroke-width="0.9"/>
<line x1="409.50" y1="673.50" x2="413.10" y2="673.50" stroke="#111" stroke-width="0.9"/>
<rect x="421.30" y="689.24" width="11.70" height="16.06" fill="#808080" stroke="#111" stroke-width="0.9" />
<line x1="427.50" y1="689.24" x2="427.50" y2="688.44" stroke="#111" stroke-width="0.9"/>
<line x1="425.35" y1="688.50" x2="428.95" y2="688.50" stroke="#111" stroke-width="0.9"/>
<text x="327.70" y="715.80" font-size="10" text-anchor="middle" font-weight="normal" font-family="'Liberation Serif', serif" fill="#111" >-</text>
<text x="343.90" y="715.80" font-size="10" text-anchor="middle" font-weight="normal" font-family="'Liberation Serif', serif" fill="#111" >-</text>
<text x="358.90" y="715.80" font-size="10" text-anchor="middle" font-weight="normal" font-family="'Liberation Serif', serif" fill="#111" >25</text>
<text x="375.00" y="715.80" font-size="10" text-anchor="middle" font-weight="normal" font-family="'Liberation Serif', serif" fill="#111" >50</text>
<text x="397.70" y="715.80" font-size="10" text-anchor="middle" font-weight="normal" font-family="'Liberation Serif', serif" fill="#111" >-</text>
<text x="410.80" y="715.80" font-size="10" text-anchor="middle" font-weight="normal" font-family="'Liberation Serif', serif" fill="#111" >25</text>
<text x="426.60" y="715.80" font-size="10" text-anchor="middle" font-weight="normal" font-family="'Liberation Serif', serif" fill="#111" >50</text>
<text x="452.30" y="716.20" font-size="10.4" text-anchor="start" font-weight="bold" font-family="'Liberation Serif', serif" fill="#111" >dasatinib (nM)</text>
<text x="0" y="0" font-size="9.3" text-anchor="middle" font-weight="bold" font-family="'Liberation Serif', serif" fill="#111" transform="translate(284.6,664.2) rotate(-90)">Numbe r of</text>
<text x="0" y="0" font-size="9.3" text-anchor="middle" font-weight="bold" font-family="'Liberation Serif', serif" fill="#111" transform="translate(295.2,664.8) rotate(-90)">migrated cells</text>
<rect x="445.80" y="634.60" width="5.20" height="5.20" fill="#fff" stroke="#111" stroke-width="0.9" />
<rect x="445.80" y="646.50" width="5.20" height="5.20" fill="#000" stroke="#111" stroke-width="0.9" />
<rect x="445.80" y="655.80" width="5.20" height="5.20" fill="#808080" stroke="#111" stroke-width="0.9" />
<text x="454.90" y="638.50" font-size="9.5" text-anchor="start" font-weight="normal" font-family="'Liberation Serif', serif" fill="#111" >SFM</text>
<text x="454.90" y="651.50" font-size="9.5" text-anchor="start" font-weight="normal" font-family="'Liberation Serif', serif" fill="#111" >VEGF<tspan font-size="8" dy="2.5" font-style="italic">165</tspan></text>
<text x="454.90" y="663.80" font-size="9.5" text-anchor="start" font-weight="normal" font-family="'Liberation Serif', serif" fill="#111" >PDGF-BB</text>
<text x="64.40" y="754.30" font-size="17.5" text-anchor="start" font-weight="normal" font-family="'Liberation Sans', sans-serif" fill="#000" style="stroke:#000;stroke-width:0.7px">H</text>
<text x="194.50" y="743.90" font-size="10" text-anchor="middle" font-weight="normal" font-family="'Liberation Serif', serif" fill="#111" class="nost">-</text>
<text x="214.10" y="744.30" font-size="10.5" text-anchor="middle" font-weight="normal" font-family="'Liberation Serif', serif" fill="#111" >+</text>
<text x="237.80" y="744.30" font-size="10.5" text-anchor="middle" font-weight="normal" font-family="'Liberation Serif', serif" fill="#111" >+</text>
<text x="262.30" y="743.90" font-size="10" text-anchor="middle" font-weight="normal" font-family="'Liberation Serif', serif" fill="#111" class="nost">-</text>
<text x="285.40" y="743.90" font-size="10" text-anchor="middle" font-weight="normal" font-family="'Liberation Serif', serif" fill="#111" class="nost">-</text>
<text x="194.50" y="757.40" font-size="10" text-anchor="middle" font-weight="normal" font-family="'Liberation Serif', serif" fill="#111" class="nost">-</text>
<text x="214.10" y="757.40" font-size="10" text-anchor="middle" font-weight="normal" font-family="'Liberation Serif', serif" fill="#111" class="nost">-</text>
<text x="237.80" y="757.40" font-size="10" text-anchor="middle" font-weight="normal" font-family="'Liberation Serif', serif" fill="#111" class="nost">-</text>
<text x="262.30" y="757.80" font-size="10.5" text-anchor="middle" font-weight="normal" font-family="'Liberation Serif', serif" fill="#111" >+</text>
<text x="285.40" y="757.80" font-size="10.5" text-anchor="middle" font-weight="normal" font-family="'Liberation Serif', serif" fill="#111" >+</text>
<text x="194.50" y="769.00" font-size="10" text-anchor="middle" font-weight="normal" font-family="'Liberation Serif', serif" fill="#111" class="nost">-</text>
<text x="214.10" y="769.00" font-size="10" text-anchor="middle" font-weight="normal" font-family="'Liberation Serif', serif" fill="#111" class="nost">-</text>
<text x="237.80" y="769.40" font-size="10.5" text-anchor="middle" font-weight="normal" font-family="'Liberation Serif', serif" fill="#111" >+</text>
<text x="262.30" y="769.00" font-size="10" text-anchor="middle" font-weight="normal" font-family="'Liberation Serif', serif" fill="#111" class="nost">-</text>
<text x="285.40" y="769.40" font-size="10.5" text-anchor="middle" font-weight="normal" font-family="'Liberation Serif', serif" fill="#111" >+</text>
<text x="306.20" y="744.50" font-size="9.5" text-anchor="start" font-weight="normal" font-family="'Liberation Serif', serif" fill="#111" >VEGF<tspan font-size="7.5" dy="2.5">165</tspan></text>
<text x="307.00" y="757.50" font-size="9.5" text-anchor="start" font-weight="normal" font-family="'Liberation Serif', serif" fill="#111" >PDGF-BB</text>
<text x="305.50" y="768.00" font-size="10.6" text-anchor="start" font-weight="bold" font-family="'Liberation Serif', serif" fill="#111" >dasatinib</text>
<rect x="112.60" y="754.20" width="66.30" height="14.30" fill="#fff" stroke="#333" stroke-width="0.9" />
<text x="115.70" y="765.00" font-size="9.5" text-anchor="start" font-weight="normal" font-family="'Liberation Serif', serif" fill="#111" >IP: &#945;VEGF-R1</text>
<rect x="179.40" y="771.70" width="119.80" height="64.70" fill="#fff" stroke="#555" stroke-width="1" />
<rect x="180.00" y="772.20" width="118.70" height="20.50" fill="#c6c6c6" stroke="none" stroke-width="1" />
<rect x="180.00" y="794.60" width="118.70" height="19.70" fill="#b8b8b8" stroke="none" stroke-width="1" />
<rect x="180.00" y="816.20" width="118.70" height="19.70" fill="#c8c8c8" stroke="none" stroke-width="1" />
<rect x="184.50" y="782.65" width="18.00" height="3.50" rx="1.75" ry="1.75" fill="#000" fill-opacity="0.30" filter="url(#b2)"/>
<rect x="205.90" y="780.50" width="21.00" height="7.00" rx="3.50" ry="3.50" fill="#000" fill-opacity="1.00" filter="url(#b1)"/>
<rect x="230.10" y="780.15" width="19.00" height="6.50" rx="3.25" ry="3.25" fill="#000" fill-opacity="1.00" filter="url(#b1)"/>
<rect x="256.00" y="783.20" width="16.00" height="4.00" rx="2.00" ry="2.00" fill="#000" fill-opacity="0.45" filter="url(#b1)"/>
<rect x="279.00" y="784.50" width="16.00" height="4.00" rx="2.00" ry="2.00" fill="#000" fill-opacity="0.45" filter="url(#b1)"/>
<rect x="182.00" y="801.55" width="23.00" height="6.50" rx="3.25" ry="3.25" fill="#000" fill-opacity="1.00" filter="url(#b1)"/>
<rect x="205.50" y="801.45" width="22.00" height="7.50" rx="3.75" ry="3.75" fill="#000" fill-opacity="1.00" filter="url(#b1)"/>
<rect x="229.00" y="801.80" width="21.00" height="6.00" rx="3.00" ry="3.00" fill="#000" fill-opacity="1.00" filter="url(#b1)"/>
<rect x="253.50" y="801.80" width="21.00" height="6.00" rx="3.00" ry="3.00" fill="#000" fill-opacity="1.00" filter="url(#b1)"/>
<rect x="276.00" y="801.55" width="22.00" height="6.50" rx="3.25" ry="3.25" fill="#000" fill-opacity="1.00" filter="url(#b1)"/>
<rect x="207.50" y="796.00" width="18.00" height="4.00" rx="2.00" ry="2.00" fill="#000" fill-opacity="0.30" filter="url(#b2)"/>
<rect x="278.00" y="796.50" width="18.00" height="4.00" rx="2.00" ry="2.00" fill="#000" fill-opacity="0.25" filter="url(#b2)"/>
<rect x="188.50" y="822.00" width="10.00" height="3.00" rx="1.50" ry="1.50" fill="#000" fill-opacity="0.15" filter="url(#b2)"/>
<rect x="206.50" y="820.20" width="20.00" height="7.00" rx="3.50" ry="3.50" fill="#000" fill-opacity="1.00" filter="url(#b1)"/>
<rect x="231.50" y="821.80" width="16.00" height="4.00" rx="2.00" ry="2.00" fill="#000" fill-opacity="0.55" filter="url(#b1)"/>
<text x="170.50" y="785.60" font-size="9.3" text-anchor="end" font-weight="normal" font-family="'Liberation Serif', serif" fill="#111" >200 kDa</text>
<text x="170.50" y="807.80" font-size="9.3" text-anchor="end" font-weight="normal" font-family="'Liberation Serif', serif" fill="#111" >200 kDa</text>
<text x="170.50" y="826.30" font-size="9.3" text-anchor="end" font-weight="normal" font-family="'Liberation Serif', serif" fill="#111" >60 kDa</text>
<text x="304.80" y="787.00" font-size="9.5" text-anchor="start" font-weight="normal" font-family="'Liberation Serif', serif" fill="#111" >pY (VEGF-R1)</text>
<text x="304.80" y="806.50" font-size="9.5" text-anchor="start" font-weight="normal" font-family="'Liberation Serif', serif" fill="#111" >VEGF-R1</text>
<text x="304.80" y="826.40" font-size="9.5" text-anchor="start" font-weight="normal" font-family="'Liberation Serif', serif" fill="#111" >pSrc</text>
<rect x="118.90" y="838.80" width="56.80" height="14.30" fill="#fff" stroke="#333" stroke-width="0.9" />
<text x="123.00" y="848.90" font-size="9.5" text-anchor="start" font-weight="bold" font-family="'Liberation Serif', serif" fill="#111" class="nost">Total lysates</text>
<rect x="179.40" y="853.10" width="119.30" height="102.30" fill="#fff" stroke="#555" stroke-width="1" />
<rect x="180.00" y="853.60" width="118.20" height="19.70" fill="#c4c4c4" stroke="none" stroke-width="1" />
<rect x="180.00" y="874.60" width="118.20" height="20.20" fill="#d8d8d8" stroke="none" stroke-width="1" />
<rect x="180.00" y="896.20" width="118.20" height="18.30" fill="#c8c8c8" stroke="none" stroke-width="1" />
<rect x="180.00" y="916.40" width="118.20" height="18.80" fill="#cdcdcd" stroke="none" stroke-width="1" />
<rect x="180.00" y="936.50" width="118.20" height="18.50" fill="#bababa" stroke="none" stroke-width="1" />
<rect x="185.50" y="862.00" width="16.00" height="3.00" rx="1.50" ry="1.50" fill="#000" fill-opacity="0.15" filter="url(#b2)"/>
<rect x="208.50" y="862.50" width="16.00" height="3.00" rx="1.50" ry="1.50" fill="#000" fill-opacity="0.15" filter="url(#b2)"/>
<rect x="231.50" y="862.00" width="16.00" height="3.00" rx="1.50" ry="1.50" fill="#000" fill-opacity="0.12" filter="url(#b2)"/>
<rect x="251.50" y="860.40" width="20.00" height="8.00" rx="4.00" ry="4.00" fill="#000" fill-opacity="1.00" filter="url(#b1)"/>
<rect x="253.50" y="854.50" width="16.00" height="2.00" rx="1.00" ry="1.00" fill="#000" fill-opacity="0.70" filter="url(#b05)"/>
<rect x="278.00" y="860.50" width="16.00" height="4.00" rx="2.00" ry="2.00" fill="#000" fill-opacity="0.60" filter="url(#b1)"/>
<rect x="280.00" y="856.50" width="12.00" height="3.00" rx="1.50" ry="1.50" fill="#000" fill-opacity="0.35" filter="url(#b1)"/>
<rect x="184.50" y="881.50" width="18.00" height="6.00" rx="3.00" ry="3.00" fill="#000" fill-opacity="0.20" filter="url(#b2)"/>
<rect x="206.5" y="875.5" width="20.5" height="19" rx="3" fill="#1a1a1a" filter="url(#b1)"/>
<rect x="209.50" y="878.00" width="14.00" height="12.00" rx="6.00" ry="6.00" fill="#000" fill-opacity="1.00" filter="url(#b2)"/>
<rect x="232.50" y="882.50" width="14.00" height="4.00" rx="2.00" ry="2.00" fill="#000" fill-opacity="0.08" filter="url(#b2)"/>
<rect x="257.00" y="882.00" width="14.00" height="4.00" rx="2.00" ry="2.00" fill="#000" fill-opacity="0.08" filter="url(#b2)"/>
<rect x="206.00" y="900.20" width="21.00" height="8.00" rx="4.00" ry="4.00" fill="#000" fill-opacity="1.00" filter="url(#b1)"/>
<rect x="207.50" y="896.50" width="18.00" height="4.00" rx="2.00" ry="2.00" fill="#000" fill-opacity="0.50" filter="url(#b2)"/>
<rect x="231.00" y="901.00" width="17.00" height="5.00" rx="2.50" ry="2.50" fill="#000" fill-opacity="0.60" filter="url(#b1)"/>
<rect x="253.50" y="900.20" width="21.00" height="8.00" rx="4.00" ry="4.00" fill="#000" fill-opacity="1.00" filter="url(#b1)"/>
<rect x="255.00" y="896.00" width="18.00" height="4.00" rx="2.00" ry="2.00" fill="#000" fill-opacity="0.45" filter="url(#b2)"/>
<rect x="278.00" y="901.50" width="18.00" height="5.00" rx="2.50" ry="2.50" fill="#000" fill-opacity="0.60" filter="url(#b1)"/>
<rect x="231.00" y="907.00" width="17.00" height="4.00" rx="2.00" ry="2.00" fill="#000" fill-opacity="0.10" filter="url(#b2)"/>
<rect x="182.50" y="922.70" width="20.00" height="3.00" rx="1.50" ry="1.50" fill="#000" fill-opacity="0.60" filter="url(#b1)"/>
<rect x="182.50" y="928.05" width="20.00" height="3.50" rx="1.75" ry="1.75" fill="#000" fill-opacity="0.50" filter="url(#b1)"/>
<rect x="206.00" y="919.50" width="21.00" height="12.00" rx="6.00" ry="6.00" fill="#000" fill-opacity="1.00" filter="url(#b1)"/>
<rect x="231.50" y="927.00" width="16.00" height="3.00" rx="1.50" ry="1.50" fill="#000" fill-opacity="0.30" filter="url(#b1)"/>
<rect x="254.50" y="923.00" width="16.00" height="3.00" rx="1.50" ry="1.50" fill="#000" fill-opacity="0.60" filter="url(#b1)"/>
<rect x="255.00" y="927.80" width="17.00" height="4.00" rx="2.00" ry="2.00" fill="#000" fill-opacity="0.95" filter="url(#b1)"/>
<rect x="182.00" y="941.80" width="23.00" height="9.00" rx="4.50" ry="4.50" fill="#000" fill-opacity="1.00" filter="url(#b1)"/>
<rect x="185.50" y="950.00" width="16.00" height="4.00" rx="2.00" ry="2.00" fill="#000" fill-opacity="0.60" filter="url(#b2)"/>
<rect x="205.00" y="941.80" width="23.00" height="9.00" rx="4.50" ry="4.50" fill="#000" fill-opacity="1.00" filter="url(#b1)"/>
<rect x="229.00" y="942.30" width="21.00" height="8.00" rx="4.00" ry="4.00" fill="#000" fill-opacity="1.00" filter="url(#b1)"/>
<rect x="253.00" y="941.80" width="22.00" height="9.00" rx="4.50" ry="4.50" fill="#000" fill-opacity="1.00" filter="url(#b1)"/>
<rect x="276.50" y="942.50" width="21.00" height="8.00" rx="4.00" ry="4.00" fill="#000" fill-opacity="1.00" filter="url(#b1)"/>
<rect x="184.50" y="937.50" width="18.00" height="3.00" rx="1.50" ry="1.50" fill="#000" fill-opacity="0.50" filter="url(#b2)"/>
<rect x="207.50" y="937.50" width="18.00" height="3.00" rx="1.50" ry="1.50" fill="#000" fill-opacity="0.40" filter="url(#b2)"/>
<text x="170.50" y="867.00" font-size="9.3" text-anchor="end" font-weight="normal" font-family="'Liberation Serif', serif" fill="#111" >190 kDa</text>
<text x="170.50" y="887.40" font-size="9.3" text-anchor="end" font-weight="normal" font-family="'Liberation Serif', serif" fill="#111" >60 kDa</text>
<text x="170.50" y="905.00" font-size="9.3" text-anchor="end" font-weight="normal" font-family="'Liberation Serif', serif" fill="#111" >66 kDa</text>
<text x="170.50" y="925.40" font-size="9.3" text-anchor="end" font-weight="normal" font-family="'Liberation Serif', serif" fill="#111" >44 kDa</text>
<text x="170.50" y="932.80" font-size="9.3" text-anchor="end" font-weight="normal" font-family="'Liberation Serif', serif" fill="#111" >42 kDa</text>
<text x="170.50" y="947.60" font-size="9.3" text-anchor="end" font-weight="normal" font-family="'Liberation Serif', serif" fill="#111" >46 kDa</text>
<line x1="172.00" y1="782.50" x2="176.00" y2="782.50" stroke="#222" stroke-width="0.9"/>
<line x1="172.00" y1="804.50" x2="176.00" y2="804.50" stroke="#222" stroke-width="0.9"/>
<line x1="172.00" y1="823.50" x2="176.00" y2="823.50" stroke="#222" stroke-width="0.9"/>
<line x1="172.00" y1="864.50" x2="176.00" y2="864.50" stroke="#222" stroke-width="0.9"/>
<line x1="172.00" y1="884.50" x2="176.00" y2="884.50" stroke="#222" stroke-width="0.9"/>
<line x1="172.00" y1="902.50" x2="176.00" y2="902.50" stroke="#222" stroke-width="0.9"/>
<line x1="172.00" y1="922.50" x2="176.00" y2="922.50" stroke="#222" stroke-width="0.9"/>
<line x1="172.00" y1="944.50" x2="176.00" y2="944.50" stroke="#222" stroke-width="0.9"/>
<line x1="172.00" y1="928.50" x2="176.00" y2="928.50" stroke="#222" stroke-width="0.9"/>
<text x="304.80" y="866.20" font-size="9.5" text-anchor="start" font-weight="normal" font-family="'Liberation Serif', serif" fill="#111" >pPDGF-R&#946;</text>
<text x="304.80" y="887.30" font-size="9.5" text-anchor="start" font-weight="normal" font-family="'Liberation Serif', serif" fill="#111" >pSrc</text>
<text x="304.80" y="908.00" font-size="9.5" text-anchor="start" font-weight="normal" font-family="'Liberation Serif', serif" fill="#111" >pAKT</text>
<text x="304.80" y="928.60" font-size="9.5" text-anchor="start" font-weight="normal" font-family="'Liberation Serif', serif" fill="#111" >pERK-1/2</text>
<text x="304.80" y="948.70" font-size="9.5" text-anchor="start" font-weight="normal" font-family="'Liberation Serif', serif" fill="#111" >&#946;-actin</text>
<text x="190.20" y="969.40" font-size="13.5" text-anchor="middle" font-weight="bold" font-family="'Liberation Sans', sans-serif" fill="#111" >1</text>
<text x="213.10" y="969.40" font-size="13.5" text-anchor="middle" font-weight="bold" font-family="'Liberation Sans', sans-serif" fill="#111" >2</text>
<text x="237.30" y="969.40" font-size="13.5" text-anchor="middle" font-weight="bold" font-family="'Liberation Sans', sans-serif" fill="#111" >3</text>
<text x="261.50" y="969.40" font-size="13.5" text-anchor="middle" font-weight="bold" font-family="'Liberation Sans', sans-serif" fill="#111" >4</text>
<text x="287.10" y="969.40" font-size="13.5" text-anchor="middle" font-weight="bold" font-family="'Liberation Sans', sans-serif" fill="#111" >5</text>
</svg></body></html>
